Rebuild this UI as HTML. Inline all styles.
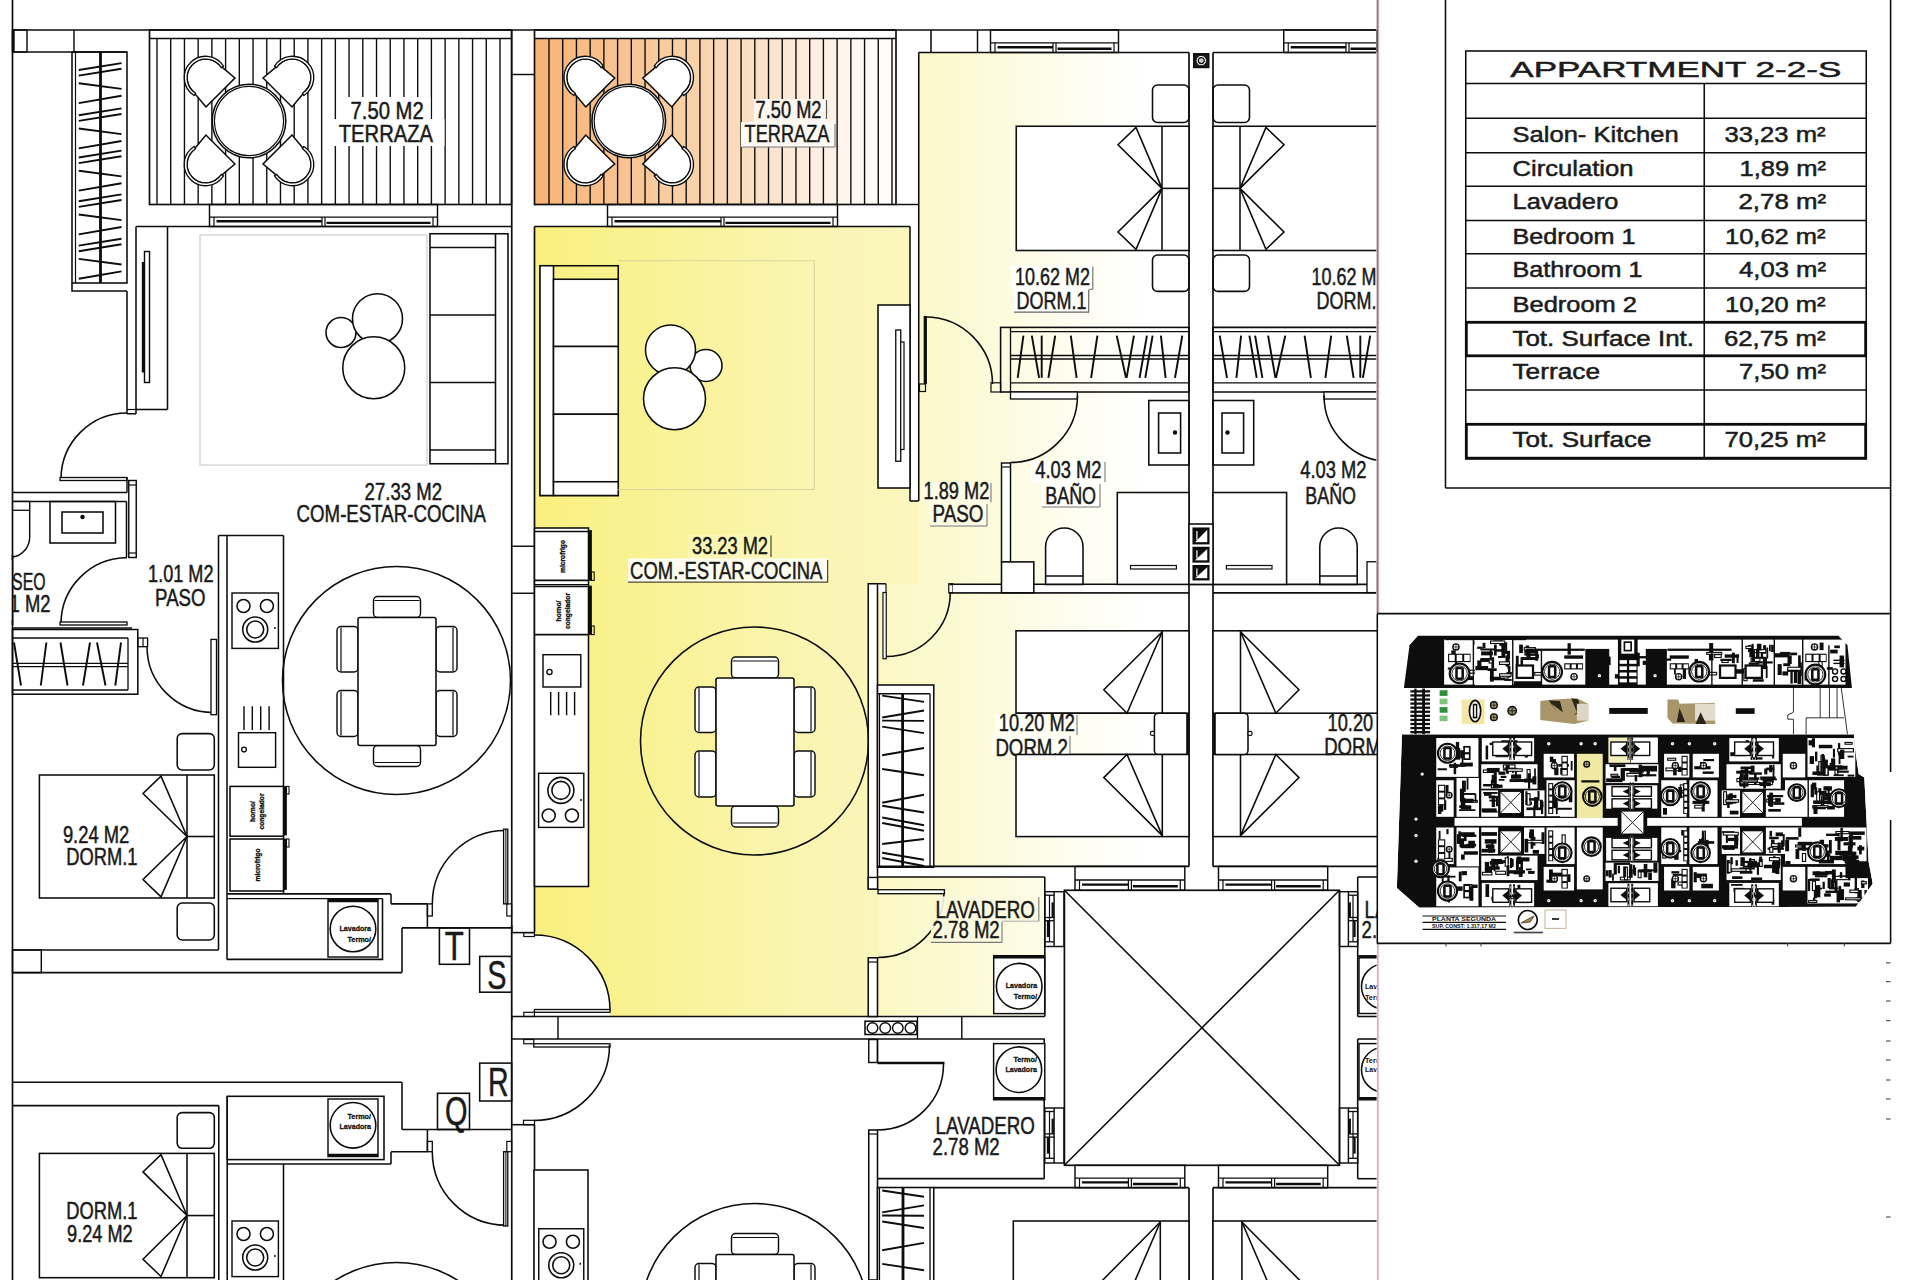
<!DOCTYPE html>
<html lang="es"><head><meta charset="utf-8"><title>Appartment 2-2-S</title>
<style>
html,body{margin:0;padding:0;background:#fff;}
body{width:1920px;height:1280px;overflow:hidden;position:relative;}
svg{display:block;position:absolute;left:0;top:0;}
text{font-family:"Liberation Sans",sans-serif;}
</style></head><body>
<svg width="1920" height="1280" viewBox="0 0 1920 1280">
<defs>
<linearGradient id="gy" gradientUnits="userSpaceOnUse" x1="534" y1="0" x2="912" y2="0">
<stop offset="0" stop-color="#f9f080"/><stop offset="0.3" stop-color="#f9f294"/><stop offset="0.7" stop-color="#faf5b0"/><stop offset="1" stop-color="#faf6be"/>
</linearGradient>
<linearGradient id="gy2" gradientUnits="userSpaceOnUse" x1="877" y1="0" x2="1150" y2="0">
<stop offset="0" stop-color="#fbf8c2"/><stop offset="0.35" stop-color="#fcfad6"/><stop offset="0.7" stop-color="#fefdf0"/><stop offset="1" stop-color="#ffffff"/>
</linearGradient>
<linearGradient id="go" gradientUnits="userSpaceOnUse" x1="534" y1="0" x2="896" y2="0">
<stop offset="0" stop-color="#f8b373"/><stop offset="0.45" stop-color="#f9d2ab"/><stop offset="0.8" stop-color="#fdf0e4"/><stop offset="1" stop-color="#ffffff"/>
</linearGradient>
</defs>
<rect x="0" y="0" width="1920" height="1280" fill="#ffffff"/>
<rect x="534.5" y="38.5" width="361.5" height="166" fill="url(#go)"/>
<rect x="534.5" y="226.5" width="375.5" height="358.5" fill="url(#gy)"/>
<rect x="534.5" y="584.4" width="333.75" height="431.85" fill="url(#gy)"/>
<rect x="909.5" y="501" width="9.5" height="84" fill="url(#gy)"/>
<rect x="918.75" y="501" width="82.75" height="84" fill="url(#gy2)"/>
<rect x="918.75" y="391.5" width="83.25" height="110" fill="url(#gy2)"/>
<rect x="918.75" y="52.5" width="270.25" height="340" fill="url(#gy2)"/>
<rect x="1001.5" y="391.5" width="187.5" height="193.5" fill="url(#gy2)"/>
<rect x="877.5" y="592.8" width="311.5" height="273.6" fill="url(#gy2)"/>
<rect x="886" y="584" width="63.4" height="9.6" fill="url(#gy2)"/>
<rect x="867.5" y="889" width="11.5" height="68.8" fill="url(#gy)"/>
<rect x="878" y="877" width="166.8" height="138.4" fill="url(#gy2)"/>
<line x1="12.5" y1="0" x2="12.5" y2="1280" stroke="#0c0c0c" stroke-width="1.68"/>
<line x1="12.5" y1="30" x2="1377" y2="30" stroke="#0c0c0c" stroke-width="1.68"/>
<rect x="12.5" y="30" width="14.5" height="22" fill="none" stroke="#0c0c0c" stroke-width="1.44"/>
<line x1="13.3" y1="30" x2="13.3" y2="52" stroke="#0c0c0c" stroke-width="2.81"/>
<line x1="12.5" y1="52" x2="127" y2="52" stroke="#0c0c0c" stroke-width="1.56"/>
<line x1="74" y1="30" x2="74" y2="52" stroke="#0c0c0c" stroke-width="1.44"/>
<rect x="72" y="52" width="55" height="231" fill="none" stroke="#0c0c0c" stroke-width="1.56"/>
<line x1="75.5" y1="52" x2="75.5" y2="283" stroke="#0c0c0c" stroke-width="1.2"/>
<line x1="100.5" y1="52" x2="100.5" y2="283" stroke="#0c0c0c" stroke-width="2.81"/>
<line x1="78.75" y1="70" x2="121.5" y2="63.1" stroke="#0c0c0c" stroke-width="1.92"/>
<line x1="78.75" y1="75.6" x2="121.5" y2="68.7" stroke="#0c0c0c" stroke-width="1.92"/>
<line x1="78.75" y1="83.3" x2="121.5" y2="88.9" stroke="#0c0c0c" stroke-width="1.92"/>
<line x1="78.75" y1="103.1" x2="121.5" y2="95.8" stroke="#0c0c0c" stroke-width="1.92"/>
<line x1="78.75" y1="115.25" x2="121.5" y2="108.35" stroke="#0c0c0c" stroke-width="1.92"/>
<line x1="78.75" y1="120.85" x2="121.5" y2="113.95" stroke="#0c0c0c" stroke-width="1.92"/>
<line x1="78.75" y1="128.55" x2="121.5" y2="134.15" stroke="#0c0c0c" stroke-width="1.92"/>
<line x1="78.75" y1="148.35" x2="121.5" y2="141.05" stroke="#0c0c0c" stroke-width="1.92"/>
<line x1="78.75" y1="157.5" x2="121.5" y2="150.6" stroke="#0c0c0c" stroke-width="1.92"/>
<line x1="78.75" y1="163.1" x2="121.5" y2="156.2" stroke="#0c0c0c" stroke-width="1.92"/>
<line x1="78.75" y1="170.8" x2="121.5" y2="176.4" stroke="#0c0c0c" stroke-width="1.92"/>
<line x1="78.75" y1="190.6" x2="121.5" y2="183.3" stroke="#0c0c0c" stroke-width="1.92"/>
<line x1="78.75" y1="201.25" x2="121.5" y2="194.35" stroke="#0c0c0c" stroke-width="1.92"/>
<line x1="78.75" y1="206.85" x2="121.5" y2="199.95" stroke="#0c0c0c" stroke-width="1.92"/>
<line x1="78.75" y1="214.55" x2="121.5" y2="220.15" stroke="#0c0c0c" stroke-width="1.92"/>
<line x1="78.75" y1="234.35" x2="121.5" y2="227.05" stroke="#0c0c0c" stroke-width="1.92"/>
<line x1="78.75" y1="245.6" x2="121.5" y2="238.7" stroke="#0c0c0c" stroke-width="1.92"/>
<line x1="78.75" y1="251.2" x2="121.5" y2="244.3" stroke="#0c0c0c" stroke-width="1.92"/>
<line x1="78.75" y1="258.9" x2="121.5" y2="264.5" stroke="#0c0c0c" stroke-width="1.92"/>
<line x1="78.75" y1="278.7" x2="121.5" y2="271.4" stroke="#0c0c0c" stroke-width="1.92"/>
<path d="M72 283 L72 291 L127 291" fill="none" stroke="#0c0c0c" stroke-width="1.56" stroke-linejoin="miter"/>
<line x1="127" y1="291" x2="127" y2="413.75" stroke="#0c0c0c" stroke-width="1.56"/>
<rect x="149.5" y="30" width="362" height="174.5" fill="none" stroke="#0c0c0c" stroke-width="1.68"/>
<line x1="149.5" y1="38.5" x2="511.5" y2="38.5" stroke="#0c0c0c" stroke-width="1.44"/>
<line x1="157" y1="38.5" x2="157" y2="204.5" stroke="#0c0c0c" stroke-width="1.38"/>
<line x1="170.72" y1="38.5" x2="170.72" y2="204.5" stroke="#0c0c0c" stroke-width="1.38"/>
<line x1="184.44" y1="38.5" x2="184.44" y2="204.5" stroke="#0c0c0c" stroke-width="1.38"/>
<line x1="198.16" y1="38.5" x2="198.16" y2="204.5" stroke="#0c0c0c" stroke-width="1.38"/>
<line x1="211.88" y1="38.5" x2="211.88" y2="204.5" stroke="#0c0c0c" stroke-width="1.38"/>
<line x1="225.6" y1="38.5" x2="225.6" y2="204.5" stroke="#0c0c0c" stroke-width="1.38"/>
<line x1="239.32" y1="38.5" x2="239.32" y2="204.5" stroke="#0c0c0c" stroke-width="1.38"/>
<line x1="253.04" y1="38.5" x2="253.04" y2="204.5" stroke="#0c0c0c" stroke-width="1.38"/>
<line x1="266.76" y1="38.5" x2="266.76" y2="204.5" stroke="#0c0c0c" stroke-width="1.38"/>
<line x1="280.48" y1="38.5" x2="280.48" y2="204.5" stroke="#0c0c0c" stroke-width="1.38"/>
<line x1="294.2" y1="38.5" x2="294.2" y2="204.5" stroke="#0c0c0c" stroke-width="1.38"/>
<line x1="307.92" y1="38.5" x2="307.92" y2="204.5" stroke="#0c0c0c" stroke-width="1.38"/>
<line x1="321.64" y1="38.5" x2="321.64" y2="204.5" stroke="#0c0c0c" stroke-width="1.38"/>
<line x1="335.36" y1="38.5" x2="335.36" y2="204.5" stroke="#0c0c0c" stroke-width="1.38"/>
<line x1="349.08" y1="38.5" x2="349.08" y2="204.5" stroke="#0c0c0c" stroke-width="1.38"/>
<line x1="362.8" y1="38.5" x2="362.8" y2="204.5" stroke="#0c0c0c" stroke-width="1.38"/>
<line x1="376.52" y1="38.5" x2="376.52" y2="204.5" stroke="#0c0c0c" stroke-width="1.38"/>
<line x1="390.24" y1="38.5" x2="390.24" y2="204.5" stroke="#0c0c0c" stroke-width="1.38"/>
<line x1="403.96" y1="38.5" x2="403.96" y2="204.5" stroke="#0c0c0c" stroke-width="1.38"/>
<line x1="417.68" y1="38.5" x2="417.68" y2="204.5" stroke="#0c0c0c" stroke-width="1.38"/>
<line x1="431.4" y1="38.5" x2="431.4" y2="204.5" stroke="#0c0c0c" stroke-width="1.38"/>
<line x1="445.12" y1="38.5" x2="445.12" y2="204.5" stroke="#0c0c0c" stroke-width="1.38"/>
<line x1="458.84" y1="38.5" x2="458.84" y2="204.5" stroke="#0c0c0c" stroke-width="1.38"/>
<line x1="472.56" y1="38.5" x2="472.56" y2="204.5" stroke="#0c0c0c" stroke-width="1.38"/>
<line x1="486.28" y1="38.5" x2="486.28" y2="204.5" stroke="#0c0c0c" stroke-width="1.38"/>
<line x1="500" y1="38.5" x2="500" y2="204.5" stroke="#0c0c0c" stroke-width="1.38"/>
<g transform="translate(205.6 77.6) rotate(-45)">
<path d="M-20.5 21 L20.5 21 L18.6 0 A18.6 18.6 0 0 0 -18.6 0 Z" fill="#fff" stroke="#0c0c0c" stroke-width="1.56"/>
<path d="M-20.8 4.5 A21.3 21.3 0 1 1 20.8 4.5 L18.2 4 A18.6 18.6 0 1 0 -18.2 4 Z" fill="#fff" stroke="#0c0c0c" stroke-width="1.32"/>
</g>
<g transform="translate(292.4 77.6) rotate(45)">
<path d="M-20.5 21 L20.5 21 L18.6 0 A18.6 18.6 0 0 0 -18.6 0 Z" fill="#fff" stroke="#0c0c0c" stroke-width="1.56"/>
<path d="M-20.8 4.5 A21.3 21.3 0 1 1 20.8 4.5 L18.2 4 A18.6 18.6 0 1 0 -18.2 4 Z" fill="#fff" stroke="#0c0c0c" stroke-width="1.32"/>
</g>
<g transform="translate(292.4 164.4) rotate(135)">
<path d="M-20.5 21 L20.5 21 L18.6 0 A18.6 18.6 0 0 0 -18.6 0 Z" fill="#fff" stroke="#0c0c0c" stroke-width="1.56"/>
<path d="M-20.8 4.5 A21.3 21.3 0 1 1 20.8 4.5 L18.2 4 A18.6 18.6 0 1 0 -18.2 4 Z" fill="#fff" stroke="#0c0c0c" stroke-width="1.32"/>
</g>
<g transform="translate(205.6 164.4) rotate(-135)">
<path d="M-20.5 21 L20.5 21 L18.6 0 A18.6 18.6 0 0 0 -18.6 0 Z" fill="#fff" stroke="#0c0c0c" stroke-width="1.56"/>
<path d="M-20.8 4.5 A21.3 21.3 0 1 1 20.8 4.5 L18.2 4 A18.6 18.6 0 1 0 -18.2 4 Z" fill="#fff" stroke="#0c0c0c" stroke-width="1.32"/>
</g>
<circle cx="249" cy="121" r="36.8" fill="#fff" stroke="#0c0c0c" stroke-width="1.56"/>
<circle cx="249" cy="121" r="34.6" fill="none" stroke="#0c0c0c" stroke-width="1.2"/>
<rect x="337" y="97" width="93.5" height="22" fill="#fff"/>
<rect x="333" y="119" width="111.5" height="27" fill="#fff"/>
<text x="350.6" y="118.75" font-size="23.2" textLength="73.15" lengthAdjust="spacingAndGlyphs" fill="#1a1a1a" stroke="#1a1a1a" stroke-width="0.5" font-weight="normal">7.50 M2</text>
<text x="338.75" y="141.6" font-size="23.2" textLength="94.25" lengthAdjust="spacingAndGlyphs" fill="#1a1a1a" stroke="#1a1a1a" stroke-width="0.5" font-weight="normal">TERRAZA</text>
<rect x="209.5" y="204.5" width="228" height="22" fill="none" stroke="#0c0c0c" stroke-width="1.44"/>
<line x1="209.5" y1="217.04" x2="437.5" y2="217.04" stroke="#0c0c0c" stroke-width="1.32"/>
<line x1="214" y1="217.04" x2="214" y2="226.5" stroke="#0c0c0c" stroke-width="1.2"/>
<line x1="433" y1="217.04" x2="433" y2="226.5" stroke="#0c0c0c" stroke-width="1.2"/>
<line x1="322" y1="217.04" x2="322" y2="226.5" stroke="#0c0c0c" stroke-width="1.2"/>
<line x1="325" y1="217.04" x2="325" y2="226.5" stroke="#0c0c0c" stroke-width="1.2"/>
<line x1="216.5" y1="221.3" x2="322" y2="221.3" stroke="#0c0c0c" stroke-width="2.4"/>
<line x1="326.5" y1="222.9" x2="430.5" y2="222.9" stroke="#0c0c0c" stroke-width="2.4"/>
<line x1="511.5" y1="74.5" x2="534.5" y2="74.5" stroke="#0c0c0c" stroke-width="1.44"/>
<line x1="511.75" y1="30" x2="511.75" y2="204.5" stroke="#0c0c0c" stroke-width="1.56"/>
<rect x="534.5" y="30" width="361.5" height="174.5" fill="none" stroke="#0c0c0c" stroke-width="1.68"/>
<line x1="534.5" y1="38.5" x2="896" y2="38.5" stroke="#0c0c0c" stroke-width="1.44"/>
<line x1="549" y1="38.5" x2="549" y2="204.5" stroke="#0c0c0c" stroke-width="1.38"/>
<line x1="562.72" y1="38.5" x2="562.72" y2="204.5" stroke="#0c0c0c" stroke-width="1.38"/>
<line x1="576.44" y1="38.5" x2="576.44" y2="204.5" stroke="#0c0c0c" stroke-width="1.38"/>
<line x1="590.16" y1="38.5" x2="590.16" y2="204.5" stroke="#0c0c0c" stroke-width="1.38"/>
<line x1="603.88" y1="38.5" x2="603.88" y2="204.5" stroke="#0c0c0c" stroke-width="1.38"/>
<line x1="617.6" y1="38.5" x2="617.6" y2="204.5" stroke="#0c0c0c" stroke-width="1.38"/>
<line x1="631.32" y1="38.5" x2="631.32" y2="204.5" stroke="#0c0c0c" stroke-width="1.38"/>
<line x1="645.04" y1="38.5" x2="645.04" y2="204.5" stroke="#0c0c0c" stroke-width="1.38"/>
<line x1="658.76" y1="38.5" x2="658.76" y2="204.5" stroke="#0c0c0c" stroke-width="1.38"/>
<line x1="672.48" y1="38.5" x2="672.48" y2="204.5" stroke="#0c0c0c" stroke-width="1.38"/>
<line x1="686.2" y1="38.5" x2="686.2" y2="204.5" stroke="#0c0c0c" stroke-width="1.38"/>
<line x1="699.92" y1="38.5" x2="699.92" y2="204.5" stroke="#0c0c0c" stroke-width="1.38"/>
<line x1="713.64" y1="38.5" x2="713.64" y2="204.5" stroke="#0c0c0c" stroke-width="1.38"/>
<line x1="727.36" y1="38.5" x2="727.36" y2="204.5" stroke="#0c0c0c" stroke-width="1.38"/>
<line x1="741.08" y1="38.5" x2="741.08" y2="204.5" stroke="#0c0c0c" stroke-width="1.38"/>
<line x1="754.8" y1="38.5" x2="754.8" y2="204.5" stroke="#0c0c0c" stroke-width="1.38"/>
<line x1="768.52" y1="38.5" x2="768.52" y2="204.5" stroke="#0c0c0c" stroke-width="1.38"/>
<line x1="782.24" y1="38.5" x2="782.24" y2="204.5" stroke="#0c0c0c" stroke-width="1.38"/>
<line x1="795.96" y1="38.5" x2="795.96" y2="204.5" stroke="#0c0c0c" stroke-width="1.38"/>
<line x1="809.68" y1="38.5" x2="809.68" y2="204.5" stroke="#0c0c0c" stroke-width="1.38"/>
<line x1="823.4" y1="38.5" x2="823.4" y2="204.5" stroke="#0c0c0c" stroke-width="1.38"/>
<line x1="837.12" y1="38.5" x2="837.12" y2="204.5" stroke="#0c0c0c" stroke-width="1.38"/>
<line x1="850.84" y1="38.5" x2="850.84" y2="204.5" stroke="#0c0c0c" stroke-width="1.38"/>
<line x1="864.56" y1="38.5" x2="864.56" y2="204.5" stroke="#0c0c0c" stroke-width="1.38"/>
<line x1="878.28" y1="38.5" x2="878.28" y2="204.5" stroke="#0c0c0c" stroke-width="1.38"/>
<line x1="892" y1="38.5" x2="892" y2="204.5" stroke="#0c0c0c" stroke-width="1.38"/>
<g transform="translate(585.35 77.6) rotate(-45)">
<path d="M-20.5 21 L20.5 21 L18.6 0 A18.6 18.6 0 0 0 -18.6 0 Z" fill="#fff" stroke="#0c0c0c" stroke-width="1.56"/>
<path d="M-20.8 4.5 A21.3 21.3 0 1 1 20.8 4.5 L18.2 4 A18.6 18.6 0 1 0 -18.2 4 Z" fill="#fff" stroke="#0c0c0c" stroke-width="1.32"/>
</g>
<g transform="translate(672.15 77.6) rotate(45)">
<path d="M-20.5 21 L20.5 21 L18.6 0 A18.6 18.6 0 0 0 -18.6 0 Z" fill="#fff" stroke="#0c0c0c" stroke-width="1.56"/>
<path d="M-20.8 4.5 A21.3 21.3 0 1 1 20.8 4.5 L18.2 4 A18.6 18.6 0 1 0 -18.2 4 Z" fill="#fff" stroke="#0c0c0c" stroke-width="1.32"/>
</g>
<g transform="translate(672.15 164.4) rotate(135)">
<path d="M-20.5 21 L20.5 21 L18.6 0 A18.6 18.6 0 0 0 -18.6 0 Z" fill="#fff" stroke="#0c0c0c" stroke-width="1.56"/>
<path d="M-20.8 4.5 A21.3 21.3 0 1 1 20.8 4.5 L18.2 4 A18.6 18.6 0 1 0 -18.2 4 Z" fill="#fff" stroke="#0c0c0c" stroke-width="1.32"/>
</g>
<g transform="translate(585.35 164.4) rotate(-135)">
<path d="M-20.5 21 L20.5 21 L18.6 0 A18.6 18.6 0 0 0 -18.6 0 Z" fill="#fff" stroke="#0c0c0c" stroke-width="1.56"/>
<path d="M-20.8 4.5 A21.3 21.3 0 1 1 20.8 4.5 L18.2 4 A18.6 18.6 0 1 0 -18.2 4 Z" fill="#fff" stroke="#0c0c0c" stroke-width="1.32"/>
</g>
<circle cx="628.75" cy="121" r="36.8" fill="#fff" stroke="#0c0c0c" stroke-width="1.56"/>
<circle cx="628.75" cy="121" r="34.6" fill="none" stroke="#0c0c0c" stroke-width="1.2"/>
<rect x="754" y="99" width="74" height="23" fill="#fdf6ee"/>
<rect x="741" y="122" width="94" height="25" fill="#fdfaf6"/>
<line x1="742" y1="147" x2="835" y2="147" stroke="#777" stroke-width="1.08"/>
<line x1="835" y1="124" x2="835" y2="147" stroke="#777" stroke-width="1.08"/>
<text x="755.6" y="118" font-size="23.2" textLength="65.9" lengthAdjust="spacingAndGlyphs" fill="#1a1a1a" stroke="#1a1a1a" stroke-width="0.5" font-weight="normal">7.50 M2</text>
<line x1="826.5" y1="100" x2="826.5" y2="119" stroke="#555" stroke-width="1.2"/>
<text x="744.6" y="142" font-size="23.2" textLength="84.9" lengthAdjust="spacingAndGlyphs" fill="#1a1a1a" stroke="#1a1a1a" stroke-width="0.5" font-weight="normal">TERRAZA</text>
<rect x="607.5" y="204.5" width="230" height="22" fill="none" stroke="#0c0c0c" stroke-width="1.44"/>
<line x1="607.5" y1="217.04" x2="837.5" y2="217.04" stroke="#0c0c0c" stroke-width="1.32"/>
<line x1="612" y1="217.04" x2="612" y2="226.5" stroke="#0c0c0c" stroke-width="1.2"/>
<line x1="833" y1="217.04" x2="833" y2="226.5" stroke="#0c0c0c" stroke-width="1.2"/>
<line x1="721" y1="217.04" x2="721" y2="226.5" stroke="#0c0c0c" stroke-width="1.2"/>
<line x1="724" y1="217.04" x2="724" y2="226.5" stroke="#0c0c0c" stroke-width="1.2"/>
<line x1="614.5" y1="221.3" x2="721" y2="221.3" stroke="#0c0c0c" stroke-width="2.4"/>
<line x1="725.5" y1="222.9" x2="830.5" y2="222.9" stroke="#0c0c0c" stroke-width="2.4"/>
<line x1="931" y1="30" x2="931" y2="52.5" stroke="#0c0c0c" stroke-width="1.56"/>
<line x1="977.5" y1="30" x2="977.5" y2="52.5" stroke="#0c0c0c" stroke-width="1.44"/>
<rect x="990.5" y="30" width="128" height="22.5" fill="none" stroke="#0c0c0c" stroke-width="1.44"/>
<line x1="990.5" y1="42.83" x2="1118.5" y2="42.83" stroke="#0c0c0c" stroke-width="1.32"/>
<line x1="995" y1="42.83" x2="995" y2="52.5" stroke="#0c0c0c" stroke-width="1.2"/>
<line x1="1114" y1="42.83" x2="1114" y2="52.5" stroke="#0c0c0c" stroke-width="1.2"/>
<line x1="1053" y1="42.83" x2="1053" y2="52.5" stroke="#0c0c0c" stroke-width="1.2"/>
<line x1="1056" y1="42.83" x2="1056" y2="52.5" stroke="#0c0c0c" stroke-width="1.2"/>
<line x1="997.5" y1="47.18" x2="1053" y2="47.18" stroke="#0c0c0c" stroke-width="2.4"/>
<line x1="1057.5" y1="48.78" x2="1111.5" y2="48.78" stroke="#0c0c0c" stroke-width="2.4"/>
<rect x="1283.75" y="30" width="127.5" height="22.5" fill="none" stroke="#0c0c0c" stroke-width="1.44"/>
<line x1="1283.75" y1="42.83" x2="1411.25" y2="42.83" stroke="#0c0c0c" stroke-width="1.32"/>
<line x1="1288.25" y1="42.83" x2="1288.25" y2="52.5" stroke="#0c0c0c" stroke-width="1.2"/>
<line x1="1406.75" y1="42.83" x2="1406.75" y2="52.5" stroke="#0c0c0c" stroke-width="1.2"/>
<line x1="1346" y1="42.83" x2="1346" y2="52.5" stroke="#0c0c0c" stroke-width="1.2"/>
<line x1="1349" y1="42.83" x2="1349" y2="52.5" stroke="#0c0c0c" stroke-width="1.2"/>
<line x1="1290.75" y1="47.18" x2="1346" y2="47.18" stroke="#0c0c0c" stroke-width="2.4"/>
<line x1="1350.5" y1="48.78" x2="1404.25" y2="48.78" stroke="#0c0c0c" stroke-width="2.4"/>
<line x1="136" y1="226.5" x2="511.75" y2="226.5" stroke="#0c0c0c" stroke-width="1.68"/>
<line x1="136" y1="226.5" x2="136" y2="413.75" stroke="#0c0c0c" stroke-width="1.56"/>
<line x1="167.5" y1="226.5" x2="167.5" y2="409.5" stroke="#0c0c0c" stroke-width="1.56"/>
<line x1="136" y1="409.5" x2="167.5" y2="409.5" stroke="#0c0c0c" stroke-width="1.56"/>
<line x1="127" y1="413.75" x2="136" y2="413.75" stroke="#0c0c0c" stroke-width="1.56"/>
<line x1="127" y1="409.5" x2="136" y2="409.5" stroke="#0c0c0c" stroke-width="1.2"/>
<rect x="144.5" y="251.5" width="5" height="131" fill="#fff" stroke="#0c0c0c" stroke-width="1.44"/>
<line x1="143" y1="262" x2="143" y2="372.5" stroke="#0c0c0c" stroke-width="2.38"/>
<rect x="200" y="235" width="227" height="230" fill="none" stroke="#c9c9c9" stroke-width="1.08"/>
<line x1="475" y1="235" x2="475" y2="465" stroke="#d5d5d5" stroke-width="0.96"/>
<circle cx="341" cy="332.5" r="15" fill="#fff" stroke="#0c0c0c" stroke-width="1.56"/>
<circle cx="377.5" cy="318.7" r="25" fill="#fff" stroke="#0c0c0c" stroke-width="1.56"/>
<circle cx="373.75" cy="367.75" r="31" fill="#fff" stroke="#0c0c0c" stroke-width="1.56"/>
<rect x="430" y="233.75" width="78" height="230" fill="#fff" stroke="#0c0c0c" stroke-width="1.56"/>
<line x1="495.5" y1="233.75" x2="495.5" y2="463.75" stroke="#0c0c0c" stroke-width="1.56"/>
<line x1="430" y1="247.5" x2="495.5" y2="247.5" stroke="#0c0c0c" stroke-width="1.56"/>
<line x1="430" y1="315" x2="495.5" y2="315" stroke="#0c0c0c" stroke-width="1.56"/>
<line x1="430" y1="382.5" x2="495.5" y2="382.5" stroke="#0c0c0c" stroke-width="1.56"/>
<line x1="430" y1="450" x2="495.5" y2="450" stroke="#0c0c0c" stroke-width="1.56"/>
<line x1="511.75" y1="204.5" x2="511.75" y2="1280" stroke="#0c0c0c" stroke-width="1.68"/>
<path d="M127 413 A66 66 0 0 0 61 479" fill="none" stroke="#0c0c0c" stroke-width="1.56"/>
<rect x="60" y="477.5" width="67" height="3" fill="#fff" stroke="#0c0c0c" stroke-width="1.32"/>
<line x1="12.5" y1="492.5" x2="127" y2="492.5" stroke="#0c0c0c" stroke-width="1.56"/>
<line x1="127" y1="477.5" x2="127" y2="492.5" stroke="#0c0c0c" stroke-width="1.44"/>
<rect x="128.75" y="480.5" width="7.5" height="77" fill="none" stroke="#0c0c0c" stroke-width="1.44"/>
<line x1="128.75" y1="485" x2="136.25" y2="485" stroke="#0c0c0c" stroke-width="1.2"/>
<line x1="128.75" y1="553" x2="136.25" y2="553" stroke="#0c0c0c" stroke-width="1.2"/>
<line x1="12.5" y1="501.5" x2="126.5" y2="501.5" stroke="#0c0c0c" stroke-width="1.56"/>
<line x1="126.5" y1="501.5" x2="126.5" y2="557.5" stroke="#0c0c0c" stroke-width="1.56"/>
<rect x="50" y="501.5" width="65.5" height="41.5" fill="none" stroke="#0c0c0c" stroke-width="1.56"/>
<rect x="62" y="512" width="41" height="21" fill="none" stroke="#0c0c0c" stroke-width="1.56"/>
<circle cx="82.5" cy="517" r="1.5" fill="#0c0c0c" stroke="#0c0c0c" stroke-width="1.44"/>
<path d="M12.5 501.4 L29.7 501.4 L29.7 536.5 A19.5 20.5 0 0 1 12.5 557" fill="none" stroke="#0c0c0c" stroke-width="1.44"/>
<line x1="12.5" y1="510.3" x2="29.7" y2="510.3" stroke="#0c0c0c" stroke-width="1.32"/>
<text x="12.1" y="589.5" font-size="23.2" textLength="33.4" lengthAdjust="spacingAndGlyphs" fill="#1a1a1a" stroke="#1a1a1a" stroke-width="0.5" font-weight="normal">SEO</text>
<text x="9.6" y="611.5" font-size="23.2" textLength="40.9" lengthAdjust="spacingAndGlyphs" fill="#1a1a1a" stroke="#1a1a1a" stroke-width="0.5" font-weight="normal">1 M2</text>
<rect x="0" y="560" width="12" height="60" fill="#fff"/>
<line x1="12.5" y1="555" x2="12.5" y2="625" stroke="#0c0c0c" stroke-width="1.68"/>
<path d="M127 557.75 A66 66 0 0 0 61 623.75" fill="none" stroke="#0c0c0c" stroke-width="1.56"/>
<rect x="60" y="622" width="67" height="3" fill="#fff" stroke="#0c0c0c" stroke-width="1.32"/>
<text x="148.1" y="582" font-size="23.2" textLength="65.4" lengthAdjust="spacingAndGlyphs" fill="#1a1a1a" stroke="#1a1a1a" stroke-width="0.5" font-weight="normal">1.01 M2</text>
<text x="155.1" y="606" font-size="23.2" textLength="50.4" lengthAdjust="spacingAndGlyphs" fill="#1a1a1a" stroke="#1a1a1a" stroke-width="0.5" font-weight="normal">PASO</text>
<text x="364.6" y="499.5" font-size="23.2" textLength="77.4" lengthAdjust="spacingAndGlyphs" fill="#1a1a1a" stroke="#1a1a1a" stroke-width="0.5" font-weight="normal">27.33 M2</text>
<text x="296.6" y="521.5" font-size="23.2" textLength="189.4" lengthAdjust="spacingAndGlyphs" fill="#1a1a1a" stroke="#1a1a1a" stroke-width="0.5" font-weight="normal">COM-ESTAR-COCINA</text>
<line x1="12.5" y1="628" x2="132" y2="628" stroke="#0c0c0c" stroke-width="1.44"/>
<rect x="12.5" y="629.5" width="125.3" height="64.7" fill="none" stroke="#0c0c0c" stroke-width="1.56"/>
<line x1="12.5" y1="638" x2="128" y2="638" stroke="#0c0c0c" stroke-width="1.32"/>
<line x1="128" y1="638" x2="128" y2="690" stroke="#0c0c0c" stroke-width="1.32"/>
<line x1="12.5" y1="690" x2="128" y2="690" stroke="#0c0c0c" stroke-width="1.32"/>
<line x1="12.5" y1="663.3" x2="128" y2="663.3" stroke="#0c0c0c" stroke-width="1.32"/>
<line x1="12.5" y1="666.6" x2="128" y2="666.6" stroke="#0c0c0c" stroke-width="1.32"/>
<line x1="14" y1="642.5" x2="21" y2="685.5" stroke="#0c0c0c" stroke-width="1.92"/>
<line x1="46.4" y1="642.5" x2="40.8" y2="685.5" stroke="#0c0c0c" stroke-width="1.92"/>
<line x1="60.5" y1="642.5" x2="67.5" y2="685.5" stroke="#0c0c0c" stroke-width="1.92"/>
<line x1="90" y1="642.5" x2="83" y2="685.5" stroke="#0c0c0c" stroke-width="1.92"/>
<line x1="97" y1="642.5" x2="105.5" y2="685.5" stroke="#0c0c0c" stroke-width="1.92"/>
<line x1="121" y1="642.5" x2="115.3" y2="685.5" stroke="#0c0c0c" stroke-width="1.92"/>
<rect x="137.8" y="638" width="9.8" height="8.7" fill="none" stroke="#0c0c0c" stroke-width="1.32"/>
<line x1="143" y1="638" x2="143" y2="646.7" stroke="#0c0c0c" stroke-width="1.2"/>
<path d="M147 646.5 A66 66 0 0 0 213 712.5" fill="none" stroke="#0c0c0c" stroke-width="1.56"/>
<rect x="211" y="639.4" width="5.5" height="75.3" fill="#fff" stroke="#0c0c0c" stroke-width="1.32"/>
<line x1="218.5" y1="535.5" x2="283.5" y2="535.5" stroke="#0c0c0c" stroke-width="1.56"/>
<line x1="218.5" y1="535.5" x2="218.5" y2="950" stroke="#0c0c0c" stroke-width="1.56"/>
<line x1="227" y1="535.5" x2="227" y2="959.4" stroke="#0c0c0c" stroke-width="1.56"/>
<line x1="227.2" y1="1096.3" x2="227.2" y2="1280" stroke="#0c0c0c" stroke-width="1.56"/>
<line x1="283.5" y1="535.5" x2="283.5" y2="893.9" stroke="#0c0c0c" stroke-width="1.56"/>
<rect x="232" y="593" width="46.4" height="55.4" fill="#fff" stroke="#0c0c0c" stroke-width="1.44"/>
<circle cx="243.5" cy="606" r="6.5" fill="none" stroke="#0c0c0c" stroke-width="1.56"/>
<circle cx="266.9" cy="606" r="6.5" fill="none" stroke="#0c0c0c" stroke-width="1.56"/>
<circle cx="255.2" cy="629.5" r="12.5" fill="none" stroke="#0c0c0c" stroke-width="1.56"/>
<circle cx="255.2" cy="629.5" r="8.5" fill="none" stroke="#0c0c0c" stroke-width="1.56"/>
<line x1="274.9" y1="627" x2="274.9" y2="629" stroke="#0c0c0c" stroke-width="1.44"/>
<line x1="244" y1="706.3" x2="244" y2="730" stroke="#0c0c0c" stroke-width="1.44"/>
<line x1="252.3" y1="706.3" x2="252.3" y2="730" stroke="#0c0c0c" stroke-width="1.44"/>
<line x1="260.7" y1="706.3" x2="260.7" y2="730" stroke="#0c0c0c" stroke-width="1.44"/>
<line x1="269.1" y1="706.3" x2="269.1" y2="730" stroke="#0c0c0c" stroke-width="1.44"/>
<rect x="238.5" y="732.7" width="37.1" height="34.6" fill="none" stroke="#0c0c0c" stroke-width="1.44"/>
<circle cx="244" cy="749.6" r="2.4" fill="none" stroke="#0c0c0c" stroke-width="1.32"/>
<rect x="230" y="786.4" width="53.5" height="49.8" fill="#fff" stroke="#0c0c0c" stroke-width="1.56"/>
<rect x="230" y="839" width="53.5" height="52" fill="#fff" stroke="#0c0c0c" stroke-width="1.56"/>
<rect x="283.5" y="786.4" width="3" height="48.6" fill="#0c0c0c" stroke="#0c0c0c" stroke-width="0.72"/>
<rect x="283.5" y="839" width="3" height="50.5" fill="#0c0c0c" stroke="#0c0c0c" stroke-width="0.72"/>
<rect x="286.5" y="786.4" width="2.5" height="7.6" fill="none" stroke="#0c0c0c" stroke-width="1.08"/>
<rect x="286.5" y="839" width="2.5" height="8" fill="none" stroke="#0c0c0c" stroke-width="1.08"/>
<text transform="translate(254.5 811.5) rotate(-90)" font-size="6.7" font-weight="bold" text-anchor="middle" fill="#111" stroke="#111" stroke-width="0.3">horno/</text>
<text transform="translate(263.5 811.5) rotate(-90)" font-size="6.7" font-weight="bold" text-anchor="middle" fill="#111" stroke="#111" stroke-width="0.3">congelador</text>
<text transform="translate(260 865) rotate(-90)" font-size="6.7" font-weight="bold" text-anchor="middle" fill="#111" stroke="#111" stroke-width="0.3">microfrigo</text>
<circle cx="396.5" cy="680.5" r="114" fill="none" stroke="#0c0c0c" stroke-width="1.56"/>
<rect x="337" y="626.5" width="21" height="45.5" fill="#fff" stroke="#0c0c0c" stroke-width="1.44" rx="4"/>
<line x1="341" y1="627.5" x2="341" y2="671" stroke="#0c0c0c" stroke-width="1.2"/>
<rect x="436" y="626.5" width="21" height="45.5" fill="#fff" stroke="#0c0c0c" stroke-width="1.44" rx="4"/>
<line x1="453" y1="627.5" x2="453" y2="671" stroke="#0c0c0c" stroke-width="1.2"/>
<rect x="337" y="690.5" width="21" height="46" fill="#fff" stroke="#0c0c0c" stroke-width="1.44" rx="4"/>
<line x1="341" y1="691.5" x2="341" y2="735.5" stroke="#0c0c0c" stroke-width="1.2"/>
<rect x="436" y="690.5" width="21" height="46" fill="#fff" stroke="#0c0c0c" stroke-width="1.44" rx="4"/>
<line x1="453" y1="691.5" x2="453" y2="735.5" stroke="#0c0c0c" stroke-width="1.2"/>
<rect x="373.5" y="596.5" width="47" height="21" fill="#fff" stroke="#0c0c0c" stroke-width="1.44" rx="4"/>
<line x1="374.5" y1="600.5" x2="419.5" y2="600.5" stroke="#0c0c0c" stroke-width="1.2"/>
<rect x="373.5" y="745.5" width="47" height="21" fill="#fff" stroke="#0c0c0c" stroke-width="1.44" rx="4"/>
<line x1="374.5" y1="762.5" x2="419.5" y2="762.5" stroke="#0c0c0c" stroke-width="1.2"/>
<rect x="358" y="617.5" width="78" height="128" fill="#fff" stroke="#0c0c0c" stroke-width="1.56" rx="2"/>
<rect x="177.2" y="733.6" width="37.1" height="36.4" fill="none" stroke="#0c0c0c" stroke-width="1.56" rx="5"/>
<rect x="39.4" y="775" width="174.9" height="123" fill="#fff" stroke="#0c0c0c" stroke-width="1.56"/>
<line x1="187" y1="775" x2="187" y2="898" stroke="#0c0c0c" stroke-width="1.56"/>
<line x1="187" y1="836.5" x2="214.3" y2="836.5" stroke="#0c0c0c" stroke-width="1.56"/>
<path d="M187 836.5 L161 776.2 L143 793.5 Z" fill="none" stroke="#0c0c0c" stroke-width="1.56" stroke-linejoin="miter"/>
<path d="M187 836.5 L161 896.8 L143 879.5 Z" fill="none" stroke="#0c0c0c" stroke-width="1.56" stroke-linejoin="miter"/>
<rect x="177.2" y="903" width="37.1" height="37" fill="none" stroke="#0c0c0c" stroke-width="1.56" rx="5"/>
<text x="62.9" y="842.5" font-size="23.2" textLength="66.4" lengthAdjust="spacingAndGlyphs" fill="#1a1a1a" stroke="#1a1a1a" stroke-width="0.5" font-weight="normal">9.24 M2</text>
<text x="66.2" y="865" font-size="23.2" textLength="71.3" lengthAdjust="spacingAndGlyphs" fill="#1a1a1a" stroke="#1a1a1a" stroke-width="0.5" font-weight="normal">DORM.1</text>
<line x1="12.5" y1="950" x2="218.5" y2="950" stroke="#0c0c0c" stroke-width="1.56"/>
<rect x="12.5" y="950" width="28.8" height="22.6" fill="none" stroke="#0c0c0c" stroke-width="1.44"/>
<line x1="227" y1="893.9" x2="391" y2="893.9" stroke="#0c0c0c" stroke-width="1.56"/>
<line x1="227" y1="898.6" x2="382.5" y2="898.6" stroke="#0c0c0c" stroke-width="1.44"/>
<path d="M382.5 898.6 L382.5 959.4 L227 959.4" fill="none" stroke="#0c0c0c" stroke-width="1.56" stroke-linejoin="miter"/>
<line x1="391" y1="893.9" x2="391" y2="903.7" stroke="#0c0c0c" stroke-width="1.56"/>
<line x1="391" y1="903.9" x2="427.4" y2="903.9" stroke="#0c0c0c" stroke-width="1.56"/>
<rect x="328" y="899.5" width="50" height="57.5" fill="#fff" stroke="#0c0c0c" stroke-width="1.44"/>
<line x1="328" y1="901" x2="378" y2="901" stroke="#0c0c0c" stroke-width="2.59"/>
<circle cx="353" cy="929" r="22.8" fill="#fff" stroke="#0c0c0c" stroke-width="1.56"/>
<text x="371" y="931.2" font-size="8" font-weight="bold" text-anchor="end" textLength="31.5" lengthAdjust="spacingAndGlyphs" fill="#111" stroke="#111" stroke-width="0.3">Lavadora</text>
<text x="371" y="942" font-size="8" font-weight="bold" text-anchor="end" textLength="23.5" lengthAdjust="spacingAndGlyphs" fill="#111" stroke="#111" stroke-width="0.3">Termo/</text>
<path d="M505.7 830.5 A73.4 73.4 0 0 0 432.3 903.9" fill="none" stroke="#0c0c0c" stroke-width="1.56"/>
<rect x="503.6" y="829.2" width="4.2" height="74.7" fill="#fff" stroke="#0c0c0c" stroke-width="1.32"/>
<line x1="505.9" y1="829.2" x2="505.9" y2="903.9" stroke="#0c0c0c" stroke-width="1.08"/>
<line x1="427.4" y1="903.9" x2="427.4" y2="927.9" stroke="#0c0c0c" stroke-width="1.56"/>
<rect x="427.4" y="903.9" width="4.9" height="12.1" fill="none" stroke="#0c0c0c" stroke-width="1.32"/>
<rect x="506.8" y="903.9" width="4.8" height="12.1" fill="none" stroke="#0c0c0c" stroke-width="1.2"/>
<line x1="12.5" y1="972.6" x2="402" y2="972.6" stroke="#0c0c0c" stroke-width="1.56"/>
<line x1="402" y1="927.9" x2="402" y2="972.6" stroke="#0c0c0c" stroke-width="1.56"/>
<line x1="402" y1="927.9" x2="511.6" y2="927.9" stroke="#0c0c0c" stroke-width="1.56"/>
<rect x="439.4" y="927.9" width="30.1" height="36.4" fill="none" stroke="#0c0c0c" stroke-width="1.56"/>
<text x="444.8" y="960" font-size="40.5" textLength="19.1" lengthAdjust="spacingAndGlyphs" fill="#1a1a1a" stroke="#1a1a1a" stroke-width="0.5" font-weight="normal">T</text>
<rect x="479.7" y="956.4" width="31.9" height="35.8" fill="none" stroke="#0c0c0c" stroke-width="1.56"/>
<text x="487.2" y="989" font-size="40.5" textLength="19.2" lengthAdjust="spacingAndGlyphs" fill="#1a1a1a" stroke="#1a1a1a" stroke-width="0.5" font-weight="normal">S</text>
<rect x="479.7" y="1063.1" width="31.9" height="37.9" fill="none" stroke="#0c0c0c" stroke-width="1.56"/>
<text x="488.1" y="1096.4" font-size="40" textLength="20.6" lengthAdjust="spacingAndGlyphs" fill="#1a1a1a" stroke="#1a1a1a" stroke-width="0.5" font-weight="normal">R</text>
<rect x="437.5" y="1093.3" width="32" height="36.2" fill="none" stroke="#0c0c0c" stroke-width="1.56"/>
<text x="445" y="1124.8" font-size="40" textLength="22.5" lengthAdjust="spacingAndGlyphs" fill="#1a1a1a" stroke="#1a1a1a" stroke-width="0.5" font-weight="normal">Q</text>
<line x1="12.5" y1="1082.3" x2="402" y2="1082.3" stroke="#0c0c0c" stroke-width="1.56"/>
<line x1="402" y1="1082.3" x2="402" y2="1129.5" stroke="#0c0c0c" stroke-width="1.56"/>
<line x1="402" y1="1129.5" x2="511.6" y2="1129.5" stroke="#0c0c0c" stroke-width="1.56"/>
<line x1="12.5" y1="1105.6" x2="218.8" y2="1105.6" stroke="#0c0c0c" stroke-width="1.56"/>
<line x1="218.8" y1="1105.6" x2="218.8" y2="1280" stroke="#0c0c0c" stroke-width="1.56"/>
<rect x="177.2" y="1112.6" width="37.1" height="35.7" fill="none" stroke="#0c0c0c" stroke-width="1.56" rx="5"/>
<rect x="39.4" y="1153.4" width="174.9" height="124.3" fill="#fff" stroke="#0c0c0c" stroke-width="1.56"/>
<line x1="187" y1="1153.4" x2="187" y2="1277.7" stroke="#0c0c0c" stroke-width="1.56"/>
<line x1="187" y1="1215.55" x2="214.3" y2="1215.55" stroke="#0c0c0c" stroke-width="1.56"/>
<path d="M187 1215.55 L161 1154.6 L143 1171.9 Z" fill="none" stroke="#0c0c0c" stroke-width="1.56" stroke-linejoin="miter"/>
<path d="M187 1215.55 L161 1276.5 L143 1259.2 Z" fill="none" stroke="#0c0c0c" stroke-width="1.56" stroke-linejoin="miter"/>
<text x="66.2" y="1219.3" font-size="23.2" textLength="71.3" lengthAdjust="spacingAndGlyphs" fill="#1a1a1a" stroke="#1a1a1a" stroke-width="0.5" font-weight="normal">DORM.1</text>
<text x="67.1" y="1242" font-size="23.2" textLength="65.6" lengthAdjust="spacingAndGlyphs" fill="#1a1a1a" stroke="#1a1a1a" stroke-width="0.5" font-weight="normal">9.24 M2</text>
<rect x="227.2" y="1096.3" width="156.8" height="63.3" fill="none" stroke="#0c0c0c" stroke-width="1.56"/>
<rect x="328" y="1099" width="50" height="57.5" fill="#fff" stroke="#0c0c0c" stroke-width="1.44"/>
<line x1="328" y1="1155" x2="378" y2="1155" stroke="#0c0c0c" stroke-width="2.59"/>
<circle cx="353" cy="1125.3" r="22.8" fill="#fff" stroke="#0c0c0c" stroke-width="1.56"/>
<text x="371" y="1118.8" font-size="8" font-weight="bold" text-anchor="end" textLength="23.5" lengthAdjust="spacingAndGlyphs" fill="#111" stroke="#111" stroke-width="0.3">Termo/</text>
<text x="371" y="1128.5" font-size="8" font-weight="bold" text-anchor="end" textLength="31.5" lengthAdjust="spacingAndGlyphs" fill="#111" stroke="#111" stroke-width="0.3">Lavadora</text>
<line x1="227.2" y1="1164" x2="391" y2="1164" stroke="#0c0c0c" stroke-width="1.56"/>
<line x1="391" y1="1152" x2="391" y2="1164" stroke="#0c0c0c" stroke-width="1.56"/>
<line x1="391" y1="1151.7" x2="427.4" y2="1151.7" stroke="#0c0c0c" stroke-width="1.56"/>
<line x1="427.4" y1="1129.5" x2="427.4" y2="1151.7" stroke="#0c0c0c" stroke-width="1.56"/>
<rect x="427.4" y="1141.4" width="4.9" height="10.3" fill="none" stroke="#0c0c0c" stroke-width="1.32"/>
<line x1="283.5" y1="1164" x2="283.5" y2="1280" stroke="#0c0c0c" stroke-width="1.56"/>
<rect x="232" y="1221" width="46.4" height="55.6" fill="#fff" stroke="#0c0c0c" stroke-width="1.44"/>
<circle cx="243.5" cy="1234" r="6.5" fill="none" stroke="#0c0c0c" stroke-width="1.56"/>
<circle cx="266.9" cy="1234" r="6.5" fill="none" stroke="#0c0c0c" stroke-width="1.56"/>
<circle cx="255.2" cy="1257.5" r="12.5" fill="none" stroke="#0c0c0c" stroke-width="1.56"/>
<circle cx="255.2" cy="1257.5" r="8.5" fill="none" stroke="#0c0c0c" stroke-width="1.56"/>
<line x1="274.9" y1="1255" x2="274.9" y2="1257" stroke="#0c0c0c" stroke-width="1.44"/>
<path d="M432.3 1151.7 A73.4 73.4 0 0 0 505.7 1225.1" fill="none" stroke="#0c0c0c" stroke-width="1.56"/>
<rect x="503.6" y="1151.7" width="4.2" height="74.3" fill="#fff" stroke="#0c0c0c" stroke-width="1.32"/>
<line x1="505.9" y1="1151.7" x2="505.9" y2="1226" stroke="#0c0c0c" stroke-width="1.08"/>
<rect x="506.8" y="1141.4" width="4.8" height="10.3" fill="none" stroke="#0c0c0c" stroke-width="1.2"/>
<circle cx="396.5" cy="1376.5" r="114" fill="none" stroke="#0c0c0c" stroke-width="1.56"/>
<line x1="534.5" y1="226.5" x2="910" y2="226.5" stroke="#0c0c0c" stroke-width="1.68"/>
<line x1="534.5" y1="226.5" x2="534.5" y2="932.6" stroke="#0c0c0c" stroke-width="1.68"/>
<line x1="910" y1="226.5" x2="910" y2="501" stroke="#0c0c0c" stroke-width="1.56"/>
<line x1="918.75" y1="52.5" x2="918.75" y2="501" stroke="#0c0c0c" stroke-width="1.56"/>
<line x1="910" y1="501" x2="918.75" y2="501" stroke="#0c0c0c" stroke-width="1.56"/>
<line x1="918.75" y1="52.5" x2="1189" y2="52.5" stroke="#0c0c0c" stroke-width="1.68"/>
<line x1="896" y1="204.5" x2="918.75" y2="204.5" stroke="#0c0c0c" stroke-width="1.44"/>
<line x1="511.75" y1="546.25" x2="534.5" y2="546.25" stroke="#0c0c0c" stroke-width="1.44"/>
<line x1="511.75" y1="593.25" x2="534.5" y2="593.25" stroke="#0c0c0c" stroke-width="1.44"/>
<rect x="540" y="265.75" width="78.25" height="229.75" fill="none" stroke="#0c0c0c" stroke-width="1.56"/>
<rect x="540" y="265.75" width="13.5" height="229.75" fill="#fff" stroke="#0c0c0c" stroke-width="1.56"/>
<rect x="553.5" y="279.25" width="64.75" height="67.25" fill="#fff" stroke="#0c0c0c" stroke-width="1.56"/>
<rect x="553.5" y="346.5" width="64.75" height="67.75" fill="#fff" stroke="#0c0c0c" stroke-width="1.56"/>
<rect x="553.5" y="414.25" width="64.75" height="67.5" fill="#fff" stroke="#0c0c0c" stroke-width="1.56"/>
<rect x="553.5" y="481.75" width="64.75" height="13.75" fill="#fff" stroke="#0c0c0c" stroke-width="1.56"/>
<path d="M618.25 260.75 L814.25 260.75 L814.25 489.5 L618.25 489.5" fill="none" stroke="#d9d49c" stroke-width="1.08" stroke-linejoin="miter"/>
<circle cx="706" cy="365.5" r="16" fill="#fff" stroke="#0c0c0c" stroke-width="1.56"/>
<circle cx="670.5" cy="350" r="25" fill="#fff" stroke="#0c0c0c" stroke-width="1.56"/>
<circle cx="674.5" cy="398.75" r="31" fill="#fff" stroke="#0c0c0c" stroke-width="1.56"/>
<rect x="878" y="305" width="32" height="183" fill="#fff" stroke="#0c0c0c" stroke-width="1.56"/>
<rect x="895.75" y="330" width="5" height="131.25" fill="#fff" stroke="#0c0c0c" stroke-width="1.32"/>
<rect x="900.75" y="342" width="3.25" height="107.5" fill="#fff" stroke="#0c0c0c" stroke-width="1.2"/>
<rect x="534.5" y="528" width="54" height="358.5" fill="#fff" stroke="#0c0c0c" stroke-width="1.56"/>
<line x1="534.5" y1="531.5" x2="588.5" y2="531.5" stroke="#0c0c0c" stroke-width="1.44"/>
<line x1="534.5" y1="580.4" x2="588.5" y2="580.4" stroke="#0c0c0c" stroke-width="1.56"/>
<line x1="534.5" y1="584.7" x2="588.5" y2="584.7" stroke="#0c0c0c" stroke-width="1.56"/>
<line x1="534.5" y1="586.6" x2="588.5" y2="586.6" stroke="#0c0c0c" stroke-width="1.32"/>
<line x1="534.5" y1="634.6" x2="588.5" y2="634.6" stroke="#0c0c0c" stroke-width="1.56"/>
<rect x="588.5" y="530.5" width="3" height="49.9" fill="#0c0c0c" stroke="#0c0c0c" stroke-width="0.72"/>
<rect x="588.5" y="586" width="3" height="48.6" fill="#0c0c0c" stroke="#0c0c0c" stroke-width="0.72"/>
<rect x="591.5" y="572" width="2.7" height="8.4" fill="none" stroke="#0c0c0c" stroke-width="1.08"/>
<rect x="591.5" y="626" width="2.7" height="8.6" fill="none" stroke="#0c0c0c" stroke-width="1.08"/>
<text transform="translate(564.6 556.5) rotate(-90)" font-size="6.7" font-weight="bold" text-anchor="middle" fill="#111" stroke="#111" stroke-width="0.3">microfrigo</text>
<text transform="translate(560.8 611) rotate(-90)" font-size="6.7" font-weight="bold" text-anchor="middle" fill="#111" stroke="#111" stroke-width="0.3">horno/</text>
<text transform="translate(569.8 611) rotate(-90)" font-size="6.7" font-weight="bold" text-anchor="middle" fill="#111" stroke="#111" stroke-width="0.3">congelador</text>
<rect x="543" y="654.7" width="37.8" height="32.3" fill="none" stroke="#0c0c0c" stroke-width="1.44"/>
<circle cx="549.5" cy="671.9" r="2.6" fill="none" stroke="#0c0c0c" stroke-width="1.32"/>
<line x1="550.7" y1="692" x2="550.7" y2="715.3" stroke="#0c0c0c" stroke-width="1.44"/>
<line x1="558.6" y1="692" x2="558.6" y2="715.3" stroke="#0c0c0c" stroke-width="1.44"/>
<line x1="566.6" y1="692" x2="566.6" y2="715.3" stroke="#0c0c0c" stroke-width="1.44"/>
<line x1="574.6" y1="692" x2="574.6" y2="715.3" stroke="#0c0c0c" stroke-width="1.44"/>
<rect x="538.6" y="773.3" width="45.2" height="54.1" fill="#fff" stroke="#0c0c0c" stroke-width="1.44"/>
<circle cx="560.9" cy="790.4" r="13" fill="none" stroke="#0c0c0c" stroke-width="1.56"/>
<circle cx="560.9" cy="790.4" r="9" fill="none" stroke="#0c0c0c" stroke-width="1.56"/>
<circle cx="548.7" cy="815.5" r="6.5" fill="none" stroke="#0c0c0c" stroke-width="1.56"/>
<circle cx="571.9" cy="815.5" r="6.5" fill="none" stroke="#0c0c0c" stroke-width="1.56"/>
<line x1="581" y1="799" x2="581" y2="801" stroke="#0c0c0c" stroke-width="1.44"/>
<circle cx="754.5" cy="741" r="114" fill="none" stroke="#0c0c0c" stroke-width="1.56"/>
<rect x="695" y="687" width="21" height="45.5" fill="#fff" stroke="#0c0c0c" stroke-width="1.44" rx="4"/>
<line x1="699" y1="688" x2="699" y2="731.5" stroke="#0c0c0c" stroke-width="1.2"/>
<rect x="794" y="687" width="21" height="45.5" fill="#fff" stroke="#0c0c0c" stroke-width="1.44" rx="4"/>
<line x1="811" y1="688" x2="811" y2="731.5" stroke="#0c0c0c" stroke-width="1.2"/>
<rect x="695" y="751" width="21" height="46" fill="#fff" stroke="#0c0c0c" stroke-width="1.44" rx="4"/>
<line x1="699" y1="752" x2="699" y2="796" stroke="#0c0c0c" stroke-width="1.2"/>
<rect x="794" y="751" width="21" height="46" fill="#fff" stroke="#0c0c0c" stroke-width="1.44" rx="4"/>
<line x1="811" y1="752" x2="811" y2="796" stroke="#0c0c0c" stroke-width="1.2"/>
<rect x="731.5" y="657" width="47" height="21" fill="#fff" stroke="#0c0c0c" stroke-width="1.44" rx="4"/>
<line x1="732.5" y1="661" x2="777.5" y2="661" stroke="#0c0c0c" stroke-width="1.2"/>
<rect x="731.5" y="806" width="47" height="21" fill="#fff" stroke="#0c0c0c" stroke-width="1.44" rx="4"/>
<line x1="732.5" y1="823" x2="777.5" y2="823" stroke="#0c0c0c" stroke-width="1.2"/>
<rect x="716" y="678" width="78" height="128" fill="#fff" stroke="#0c0c0c" stroke-width="1.56" rx="2"/>
<rect x="688" y="535" width="84" height="23.4" fill="#fbf7b8" opacity="0.8"/>
<rect x="628" y="558.4" width="199.3" height="23.4" fill="#fefdf0"/>
<line x1="628" y1="582.2" x2="828" y2="582.2" stroke="#4a4a3a" stroke-width="1.2"/>
<line x1="827.6" y1="560" x2="827.6" y2="582.5" stroke="#4a4a3a" stroke-width="1.2"/>
<text x="692" y="554.4" font-size="23.2" textLength="76" lengthAdjust="spacingAndGlyphs" fill="#1a1a1a" stroke="#1a1a1a" stroke-width="0.5" font-weight="normal">33.23 M2</text>
<line x1="771" y1="535.5" x2="771" y2="557" stroke="#444" stroke-width="1.2"/>
<text x="630.1" y="578.5" font-size="23.2" textLength="192.3" lengthAdjust="spacingAndGlyphs" fill="#1a1a1a" stroke="#1a1a1a" stroke-width="0.5" font-weight="normal">COM.-ESTAR-COCINA</text>
<path d="M511.75 932.6 L534.5 932.6 L534.5 935 A75.5 75.5 0 0 1 610 1009.5 L610 1016.25 L511.75 1016.25 Z" fill="#fff"/>
<line x1="511.75" y1="925" x2="511.75" y2="1020" stroke="#0c0c0c" stroke-width="1.68"/>
<line x1="511.75" y1="932.6" x2="534.5" y2="932.6" stroke="#0c0c0c" stroke-width="1.56"/>
<rect x="523.8" y="932.6" width="10.6" height="3.9" fill="none" stroke="#0c0c0c" stroke-width="1.2"/>
<path d="M534.5 935 A75.5 75.5 0 0 1 610 1010.5" fill="none" stroke="#0c0c0c" stroke-width="1.56"/>
<rect x="534.4" y="1009.5" width="75.6" height="2.8" fill="#fff" stroke="#0c0c0c" stroke-width="1.32"/>
<rect x="523.8" y="1012.3" width="10.6" height="4.2" fill="none" stroke="#0c0c0c" stroke-width="1.2"/>
<line x1="511.75" y1="1016.5" x2="1044.8" y2="1016.5" stroke="#0c0c0c" stroke-width="1.68"/>
<line x1="511.75" y1="1039" x2="1044.8" y2="1039" stroke="#0c0c0c" stroke-width="1.68"/>
<line x1="558" y1="1016.5" x2="558" y2="1039" stroke="#0c0c0c" stroke-width="1.44"/>
<line x1="961.8" y1="1016.5" x2="961.8" y2="1039" stroke="#0c0c0c" stroke-width="1.44"/>
<line x1="917.5" y1="1016.5" x2="917.5" y2="1039" stroke="#0c0c0c" stroke-width="1.32"/>
<rect x="865" y="1021.25" width="52" height="13.25" fill="none" stroke="#0c0c0c" stroke-width="1.56"/>
<circle cx="872.5" cy="1028" r="5.3" fill="none" stroke="#0c0c0c" stroke-width="1.44"/>
<circle cx="885.2" cy="1028" r="5.3" fill="none" stroke="#0c0c0c" stroke-width="1.44"/>
<circle cx="897.8" cy="1028" r="5.3" fill="none" stroke="#0c0c0c" stroke-width="1.44"/>
<circle cx="910.5" cy="1028" r="5.3" fill="none" stroke="#0c0c0c" stroke-width="1.44"/>
<rect x="868.25" y="583.75" width="9.25" height="305.25" fill="#fff" stroke="#0c0c0c" stroke-width="1.56"/>
<line x1="868.25" y1="877.5" x2="877.5" y2="877.5" stroke="#0c0c0c" stroke-width="1.2"/>
<path d="M950.25 592.5 A64 64 0 0 1 886.25 656.5" fill="none" stroke="#0c0c0c" stroke-width="1.56"/>
<rect x="883" y="592.5" width="3.25" height="66.25" fill="#fff" stroke="#0c0c0c" stroke-width="1.2"/>
<line x1="877.5" y1="583.75" x2="886" y2="583.75" stroke="#0c0c0c" stroke-width="1.44"/>
<line x1="886" y1="583.75" x2="886" y2="592.5" stroke="#0c0c0c" stroke-width="1.2"/>
<rect x="948.75" y="583.75" width="4.25" height="9.05" fill="none" stroke="#0c0c0c" stroke-width="1.2"/>
<line x1="949.4" y1="584.4" x2="1420" y2="584.4" stroke="#0c0c0c" stroke-width="1.68"/>
<line x1="949.4" y1="592.8" x2="1189" y2="592.8" stroke="#0c0c0c" stroke-width="1.68"/>
<line x1="1213" y1="592.8" x2="1377" y2="592.8" stroke="#0c0c0c" stroke-width="1.68"/>
<rect x="953" y="585.1" width="236" height="7" fill="#fff"/>
<rect x="877.5" y="685" width="56.25" height="182.2" fill="#fff" stroke="#0c0c0c" stroke-width="1.56"/>
<line x1="879.5" y1="693.75" x2="879.5" y2="867.2" stroke="#0c0c0c" stroke-width="1.2"/>
<line x1="877.5" y1="693.75" x2="930" y2="693.75" stroke="#0c0c0c" stroke-width="1.32"/>
<line x1="930" y1="693.75" x2="930" y2="867.2" stroke="#0c0c0c" stroke-width="1.32"/>
<line x1="902.6" y1="693.75" x2="902.6" y2="867.2" stroke="#0c0c0c" stroke-width="2.81"/>
<line x1="882.2" y1="695.6" x2="924" y2="701.9" stroke="#0c0c0c" stroke-width="1.92"/>
<line x1="882.2" y1="717.5" x2="924" y2="710.5" stroke="#0c0c0c" stroke-width="1.92"/>
<line x1="882.2" y1="720.6" x2="924" y2="720.9" stroke="#0c0c0c" stroke-width="1.92"/>
<line x1="882.2" y1="726.6" x2="924" y2="733.1" stroke="#0c0c0c" stroke-width="1.92"/>
<line x1="882.2" y1="755.3" x2="924" y2="748" stroke="#0c0c0c" stroke-width="1.92"/>
<line x1="882.2" y1="769" x2="924" y2="775.3" stroke="#0c0c0c" stroke-width="1.92"/>
<line x1="882.2" y1="802.7" x2="924" y2="794.8" stroke="#0c0c0c" stroke-width="1.92"/>
<line x1="882.2" y1="805.8" x2="924" y2="812.5" stroke="#0c0c0c" stroke-width="1.92"/>
<line x1="882.2" y1="817.5" x2="924" y2="825.3" stroke="#0c0c0c" stroke-width="1.92"/>
<line x1="882.2" y1="823" x2="924" y2="830.8" stroke="#0c0c0c" stroke-width="1.92"/>
<line x1="882.2" y1="844" x2="924" y2="839" stroke="#0c0c0c" stroke-width="1.92"/>
<line x1="882.2" y1="852.7" x2="924" y2="859.7" stroke="#0c0c0c" stroke-width="1.92"/>
<line x1="882.2" y1="858" x2="924" y2="866" stroke="#0c0c0c" stroke-width="1.92"/>
<line x1="877.5" y1="866.4" x2="1189" y2="866.4" stroke="#0c0c0c" stroke-width="1.68"/>
<line x1="878" y1="877" x2="1044.8" y2="877" stroke="#0c0c0c" stroke-width="1.68"/>
<line x1="1044.8" y1="877" x2="1044.8" y2="1016.5" stroke="#0c0c0c" stroke-width="1.56"/>
<rect x="868.25" y="877.5" width="9.25" height="11.5" fill="#fff" stroke="#0c0c0c" stroke-width="1.32"/>
<path d="M944 891.5 A66 66 0 0 1 878 957.5" fill="none" stroke="#0c0c0c" stroke-width="1.56"/>
<rect x="878" y="889.7" width="66.4" height="4" fill="#fff" stroke="#0c0c0c" stroke-width="1.32"/>
<rect x="868.25" y="957.8" width="9.25" height="58.7" fill="#fff" stroke="#0c0c0c" stroke-width="1.56"/>
<line x1="868.25" y1="962" x2="877.5" y2="962" stroke="#0c0c0c" stroke-width="1.2"/>
<rect x="993.7" y="955.7" width="51" height="57.9" fill="#fff" stroke="#0c0c0c" stroke-width="1.44"/>
<line x1="993.7" y1="957.2" x2="1044.7" y2="957.2" stroke="#0c0c0c" stroke-width="2.59"/>
<circle cx="1019.2" cy="986.2" r="22.8" fill="#fff" stroke="#0c0c0c" stroke-width="1.56"/>
<text x="1037.2" y="988.4" font-size="8" font-weight="bold" text-anchor="end" textLength="31.5" lengthAdjust="spacingAndGlyphs" fill="#111" stroke="#111" stroke-width="0.3">Lavadora</text>
<text x="1037.2" y="999.2" font-size="8" font-weight="bold" text-anchor="end" textLength="23.5" lengthAdjust="spacingAndGlyphs" fill="#111" stroke="#111" stroke-width="0.3">Termo/</text>
<rect x="936.8" y="896.4" width="102" height="24.8" fill="#fcfadf" opacity="0.9"/>
<rect x="930.9" y="921.2" width="71.1" height="21.2" fill="#fcfadf" opacity="0.9"/>
<line x1="1038.8" y1="897" x2="1038.8" y2="921.2" stroke="#777" stroke-width="1.08"/>
<line x1="1002" y1="921.2" x2="1038.8" y2="921.2" stroke="#aaa" stroke-width="0.96"/>
<line x1="1002" y1="922" x2="1002" y2="942.4" stroke="#777" stroke-width="1.08"/>
<line x1="931" y1="942.4" x2="1002" y2="942.4" stroke="#777" stroke-width="1.08"/>
<text x="935.6" y="917.5" font-size="23.2" textLength="99.3" lengthAdjust="spacingAndGlyphs" fill="#1a1a1a" stroke="#1a1a1a" stroke-width="0.5" font-weight="normal">LAVADERO</text>
<text x="932.6" y="938.2" font-size="23.2" textLength="67.1" lengthAdjust="spacingAndGlyphs" fill="#1a1a1a" stroke="#1a1a1a" stroke-width="0.5" font-weight="normal">2.78 M2</text>
<rect x="1044.8" y="891.7" width="19.2" height="54.8" fill="none" stroke="#0c0c0c" stroke-width="1.44"/>
<line x1="1054.1" y1="891.7" x2="1054.1" y2="946.5" stroke="#0c0c0c" stroke-width="1.44"/>
<line x1="1044.8" y1="895.2" x2="1054.1" y2="895.2" stroke="#0c0c0c" stroke-width="1.32"/>
<line x1="1044.8" y1="917.5" x2="1054.1" y2="917.5" stroke="#0c0c0c" stroke-width="1.32"/>
<line x1="1044.8" y1="920.7" x2="1054.1" y2="920.7" stroke="#0c0c0c" stroke-width="1.32"/>
<line x1="1044.8" y1="941.8" x2="1054.1" y2="941.8" stroke="#0c0c0c" stroke-width="1.32"/>
<line x1="1049.5" y1="895.2" x2="1049.5" y2="941.8" stroke="#0c0c0c" stroke-width="1.2"/>
<line x1="1052.7" y1="902.4" x2="1052.7" y2="917.5" stroke="#0c0c0c" stroke-width="2.28"/>
<line x1="1048" y1="920.7" x2="1048" y2="937.1" stroke="#0c0c0c" stroke-width="2.28"/>
<line x1="1189" y1="52.5" x2="1189" y2="866.4" stroke="#0c0c0c" stroke-width="1.68"/>
<line x1="1213" y1="52.5" x2="1213" y2="866.4" stroke="#0c0c0c" stroke-width="1.68"/>
<line x1="1213" y1="52.5" x2="1420" y2="52.5" stroke="#0c0c0c" stroke-width="1.68"/>
<rect x="1193.75" y="53.75" width="15" height="13.75" fill="#1a1a1a" stroke="#0c0c0c" stroke-width="1.44"/>
<circle cx="1201.25" cy="60.6" r="5.2" fill="#fff" stroke="#0c0c0c" stroke-width="0.96"/>
<circle cx="1201.25" cy="60.6" r="3" fill="#ccc" stroke="#0c0c0c" stroke-width="1.2"/>
<rect x="1152.5" y="85" width="36.5" height="37.5" fill="none" stroke="#0c0c0c" stroke-width="1.56" rx="5"/>
<rect x="1152.5" y="255" width="36.5" height="36.4" fill="none" stroke="#0c0c0c" stroke-width="1.56" rx="5"/>
<rect x="1016.25" y="126.25" width="172.75" height="124.25" fill="#fff" stroke="#0c0c0c" stroke-width="1.56"/>
<line x1="1162" y1="126.25" x2="1162" y2="250.5" stroke="#0c0c0c" stroke-width="1.56"/>
<line x1="1162" y1="188.38" x2="1189" y2="188.38" stroke="#0c0c0c" stroke-width="1.56"/>
<path d="M1162 188.38 L1136 127.45 L1118 144.75 Z" fill="none" stroke="#0c0c0c" stroke-width="1.56" stroke-linejoin="miter"/>
<path d="M1162 188.38 L1136 249.3 L1118 232 Z" fill="none" stroke="#0c0c0c" stroke-width="1.56" stroke-linejoin="miter"/>
<rect x="1011.25" y="265.6" width="81.25" height="23.4" fill="#fffffb"/>
<rect x="1014" y="289" width="74.4" height="22.9" fill="#fffffb"/>
<line x1="1014" y1="312.2" x2="1089" y2="312.2" stroke="#666" stroke-width="1.2"/>
<line x1="1088.7" y1="290" x2="1088.7" y2="312.5" stroke="#666" stroke-width="1.2"/>
<line x1="1092.8" y1="266.5" x2="1092.8" y2="289.3" stroke="#777" stroke-width="1.2"/>
<line x1="1088.7" y1="289.3" x2="1093" y2="289.3" stroke="#777" stroke-width="1.08"/>
<text x="1015.1" y="284.5" font-size="23.2" textLength="74.9" lengthAdjust="spacingAndGlyphs" fill="#1a1a1a" stroke="#1a1a1a" stroke-width="0.5" font-weight="normal">10.62 M2</text>
<text x="1016.6" y="308.8" font-size="23.2" textLength="69.9" lengthAdjust="spacingAndGlyphs" fill="#1a1a1a" stroke="#1a1a1a" stroke-width="0.5" font-weight="normal">DORM.1</text>
<rect x="1213" y="85" width="36.5" height="37.5" fill="none" stroke="#0c0c0c" stroke-width="1.56" rx="5"/>
<rect x="1213" y="255" width="36.5" height="36.4" fill="none" stroke="#0c0c0c" stroke-width="1.56" rx="5"/>
<rect x="1213" y="126.25" width="207" height="124.25" fill="#fff" stroke="#0c0c0c" stroke-width="1.56"/>
<line x1="1240" y1="126.25" x2="1240" y2="250.5" stroke="#0c0c0c" stroke-width="1.56"/>
<line x1="1213" y1="188.38" x2="1240" y2="188.38" stroke="#0c0c0c" stroke-width="1.56"/>
<path d="M1240 188.38 L1266 127.45 L1284 144.75 Z" fill="none" stroke="#0c0c0c" stroke-width="1.56" stroke-linejoin="miter"/>
<path d="M1240 188.38 L1266 249.3 L1284 232 Z" fill="none" stroke="#0c0c0c" stroke-width="1.56" stroke-linejoin="miter"/>
<text x="1311.6" y="284.5" font-size="23.2" textLength="74.9" lengthAdjust="spacingAndGlyphs" fill="#1a1a1a" stroke="#1a1a1a" stroke-width="0.5" font-weight="normal">10.62 M2</text>
<text x="1316.6" y="308.8" font-size="23.2" textLength="69.9" lengthAdjust="spacingAndGlyphs" fill="#1a1a1a" stroke="#1a1a1a" stroke-width="0.5" font-weight="normal">DORM.1</text>
<line x1="925.3" y1="316" x2="925.3" y2="384" stroke="#0c0c0c" stroke-width="3.24"/>
<path d="M925.5 317 A67 67 0 0 1 992.5 384" fill="none" stroke="#0c0c0c" stroke-width="1.56"/>
<rect x="919.5" y="384" width="6" height="7.5" fill="none" stroke="#0c0c0c" stroke-width="1.2"/>
<rect x="1000.6" y="327.4" width="188.4" height="64.6" fill="none" stroke="#0c0c0c" stroke-width="1.56"/>
<line x1="1010.5" y1="327.4" x2="1010.5" y2="392" stroke="#0c0c0c" stroke-width="1.32"/>
<line x1="1010.5" y1="331.6" x2="1189" y2="331.6" stroke="#0c0c0c" stroke-width="1.32"/>
<line x1="1010.5" y1="355.5" x2="1189" y2="355.5" stroke="#0c0c0c" stroke-width="1.32"/>
<line x1="1010.5" y1="359" x2="1189" y2="359" stroke="#0c0c0c" stroke-width="1.32"/>
<line x1="1010.5" y1="382.8" x2="1189" y2="382.8" stroke="#0c0c0c" stroke-width="1.32"/>
<line x1="1023.4" y1="335.6" x2="1017.7" y2="377.8" stroke="#0c0c0c" stroke-width="1.92"/>
<line x1="1031.8" y1="335.6" x2="1039.1" y2="377.8" stroke="#0c0c0c" stroke-width="1.92"/>
<line x1="1041.7" y1="335.6" x2="1041.7" y2="377.8" stroke="#0c0c0c" stroke-width="1.92"/>
<line x1="1055.2" y1="335.6" x2="1048.4" y2="377.8" stroke="#0c0c0c" stroke-width="1.92"/>
<line x1="1070.8" y1="335.6" x2="1076.6" y2="377.8" stroke="#0c0c0c" stroke-width="1.92"/>
<line x1="1097.4" y1="335.6" x2="1091.1" y2="377.8" stroke="#0c0c0c" stroke-width="1.92"/>
<line x1="1116.7" y1="335.6" x2="1126" y2="377.8" stroke="#0c0c0c" stroke-width="1.92"/>
<line x1="1133.9" y1="335.6" x2="1126.6" y2="377.8" stroke="#0c0c0c" stroke-width="1.92"/>
<line x1="1146.9" y1="335.6" x2="1139.6" y2="377.8" stroke="#0c0c0c" stroke-width="1.92"/>
<line x1="1152.6" y1="335.6" x2="1145.3" y2="377.8" stroke="#0c0c0c" stroke-width="1.92"/>
<line x1="1160.9" y1="335.6" x2="1165.6" y2="377.8" stroke="#0c0c0c" stroke-width="1.92"/>
<line x1="1182.3" y1="335.6" x2="1175" y2="377.8" stroke="#0c0c0c" stroke-width="1.92"/>
<rect x="991" y="382.8" width="9.6" height="9.2" fill="none" stroke="#0c0c0c" stroke-width="1.2"/>
<path d="M1420 327.4 L1213 327.4 L1213 392 L1420 392" fill="none" stroke="#0c0c0c" stroke-width="1.56" stroke-linejoin="miter"/>
<line x1="1213" y1="331.6" x2="1420" y2="331.6" stroke="#0c0c0c" stroke-width="1.32"/>
<line x1="1213" y1="355.5" x2="1420" y2="355.5" stroke="#0c0c0c" stroke-width="1.32"/>
<line x1="1213" y1="359" x2="1420" y2="359" stroke="#0c0c0c" stroke-width="1.32"/>
<line x1="1213" y1="382.8" x2="1420" y2="382.8" stroke="#0c0c0c" stroke-width="1.32"/>
<line x1="1378.6" y1="335.6" x2="1384.3" y2="377.8" stroke="#0c0c0c" stroke-width="1.92"/>
<line x1="1370.2" y1="335.6" x2="1362.9" y2="377.8" stroke="#0c0c0c" stroke-width="1.92"/>
<line x1="1360.3" y1="335.6" x2="1360.3" y2="377.8" stroke="#0c0c0c" stroke-width="1.92"/>
<line x1="1346.8" y1="335.6" x2="1353.6" y2="377.8" stroke="#0c0c0c" stroke-width="1.92"/>
<line x1="1331.2" y1="335.6" x2="1325.4" y2="377.8" stroke="#0c0c0c" stroke-width="1.92"/>
<line x1="1304.6" y1="335.6" x2="1310.9" y2="377.8" stroke="#0c0c0c" stroke-width="1.92"/>
<line x1="1285.3" y1="335.6" x2="1276" y2="377.8" stroke="#0c0c0c" stroke-width="1.92"/>
<line x1="1268.1" y1="335.6" x2="1275.4" y2="377.8" stroke="#0c0c0c" stroke-width="1.92"/>
<line x1="1255.1" y1="335.6" x2="1262.4" y2="377.8" stroke="#0c0c0c" stroke-width="1.92"/>
<line x1="1249.4" y1="335.6" x2="1256.7" y2="377.8" stroke="#0c0c0c" stroke-width="1.92"/>
<line x1="1241.1" y1="335.6" x2="1236.4" y2="377.8" stroke="#0c0c0c" stroke-width="1.92"/>
<line x1="1219.7" y1="335.6" x2="1227" y2="377.8" stroke="#0c0c0c" stroke-width="1.92"/>
<rect x="1010.5" y="392" width="66.9" height="7" fill="#fff" stroke="#0c0c0c" stroke-width="1.32"/>
<path d="M1077.5 395.5 A67 67 0 0 1 1010.5 462.5" fill="none" stroke="#0c0c0c" stroke-width="1.56"/>
<rect x="1001.5" y="463" width="9" height="98.9" fill="#fff" stroke="#0c0c0c" stroke-width="1.44"/>
<line x1="1001.5" y1="467" x2="1010.5" y2="467" stroke="#0c0c0c" stroke-width="1.2"/>
<rect x="1001.5" y="561.9" width="32.3" height="30.9" fill="#fff" stroke="#0c0c0c" stroke-width="1.56"/>
<rect x="1148.8" y="400.5" width="40.2" height="64.5" fill="none" stroke="#0c0c0c" stroke-width="1.56"/>
<rect x="1158.6" y="413" width="22" height="40" fill="#fff" stroke="#0c0c0c" stroke-width="1.56"/>
<circle cx="1175" cy="432.5" r="1.5" fill="#0c0c0c" stroke="#0c0c0c" stroke-width="1.44"/>
<rect x="1213" y="400.5" width="40.7" height="64.5" fill="none" stroke="#0c0c0c" stroke-width="1.56"/>
<rect x="1222" y="413" width="21.6" height="40" fill="#fff" stroke="#0c0c0c" stroke-width="1.56"/>
<circle cx="1227.5" cy="432.5" r="1.5" fill="#0c0c0c" stroke="#0c0c0c" stroke-width="1.44"/>
<rect x="1117.3" y="492.5" width="71.7" height="91.9" fill="#fff" stroke="#0c0c0c" stroke-width="1.56"/>
<rect x="1130.5" y="565.5" width="45.9" height="3.5" fill="none" stroke="#0c0c0c" stroke-width="1.2"/>
<rect x="1213" y="492.5" width="73.6" height="91.9" fill="#fff" stroke="#0c0c0c" stroke-width="1.56"/>
<rect x="1226.4" y="565.5" width="45.6" height="3.5" fill="none" stroke="#0c0c0c" stroke-width="1.2"/>
<path d="M1045.6 584.4 L1045.6 546.7 A18.7 18.7 0 0 1 1083 546.7 L1083 584.4 Z" fill="#fff" stroke="#0c0c0c" stroke-width="1.56"/>
<line x1="1045.6" y1="576" x2="1083" y2="576" stroke="#0c0c0c" stroke-width="1.44"/>
<path d="M1319.8 584.4 L1319.8 546.7 A18.7 18.7 0 0 1 1357.2 546.7 L1357.2 584.4 Z" fill="#fff" stroke="#0c0c0c" stroke-width="1.56"/>
<line x1="1319.8" y1="576" x2="1357.2" y2="576" stroke="#0c0c0c" stroke-width="1.44"/>
<rect x="1189" y="524" width="24" height="60.4" fill="#fff" stroke="#0c0c0c" stroke-width="1.56"/>
<rect x="1193.6" y="528.6" width="14.8" height="14.7" fill="#fff" stroke="#0c0c0c" stroke-width="2.28"/>
<path d="M1194 528.8 L1208 528.8 L1194 542.9 Z" fill="#0c0c0c" stroke="#0c0c0c" stroke-width="0.48" stroke-linejoin="miter"/>
<line x1="1196.9" y1="531" x2="1196.9" y2="540.1" stroke="#fff" stroke-width="1.2"/>
<rect x="1193.6" y="547.9" width="14.8" height="13.6" fill="#fff" stroke="#0c0c0c" stroke-width="2.28"/>
<path d="M1194 548.1 L1208 548.1 L1194 561.1 Z" fill="#0c0c0c" stroke="#0c0c0c" stroke-width="0.48" stroke-linejoin="miter"/>
<line x1="1196.9" y1="550.3" x2="1196.9" y2="558.3" stroke="#fff" stroke-width="1.2"/>
<rect x="1193.6" y="566.1" width="14.8" height="13.2" fill="#fff" stroke="#0c0c0c" stroke-width="2.28"/>
<path d="M1194 566.3 L1208 566.3 L1194 578.9 Z" fill="#0c0c0c" stroke="#0c0c0c" stroke-width="0.48" stroke-linejoin="miter"/>
<line x1="1196.9" y1="568.5" x2="1196.9" y2="576.1" stroke="#fff" stroke-width="1.2"/>
<rect x="1031" y="461" width="74" height="21" fill="#fffffb"/>
<rect x="1042" y="482" width="58" height="25" fill="#fffffb"/>
<line x1="1042" y1="507" x2="1100" y2="507" stroke="#777" stroke-width="1.08"/>
<line x1="1100" y1="484" x2="1100" y2="507" stroke="#777" stroke-width="1.08"/>
<line x1="1105" y1="462" x2="1105" y2="482" stroke="#777" stroke-width="1.08"/>
<text x="1035.3" y="477.7" font-size="23.2" textLength="66.2" lengthAdjust="spacingAndGlyphs" fill="#1a1a1a" stroke="#1a1a1a" stroke-width="0.5" font-weight="normal">4.03 M2</text>
<text x="1045.2" y="503.5" font-size="23.2" textLength="50.9" lengthAdjust="spacingAndGlyphs" fill="#1a1a1a" stroke="#1a1a1a" stroke-width="0.5" font-weight="normal">BAÑO</text>
<text x="1300.3" y="477.7" font-size="23.2" textLength="66.2" lengthAdjust="spacingAndGlyphs" fill="#1a1a1a" stroke="#1a1a1a" stroke-width="0.5" font-weight="normal">4.03 M2</text>
<text x="1305.3" y="503.5" font-size="23.2" textLength="50.7" lengthAdjust="spacingAndGlyphs" fill="#1a1a1a" stroke="#1a1a1a" stroke-width="0.5" font-weight="normal">BAÑO</text>
<rect x="921" y="482" width="70" height="20" fill="#fdfce4"/>
<rect x="930" y="502" width="57" height="24" fill="#fdfce4"/>
<line x1="930" y1="526" x2="987" y2="526" stroke="#777" stroke-width="1.08"/>
<line x1="987" y1="504" x2="987" y2="526" stroke="#777" stroke-width="1.08"/>
<line x1="991" y1="483" x2="991" y2="502" stroke="#777" stroke-width="1.08"/>
<text x="923.6" y="499.1" font-size="23.2" textLength="65.7" lengthAdjust="spacingAndGlyphs" fill="#1a1a1a" stroke="#1a1a1a" stroke-width="0.5" font-weight="normal">1.89 M2</text>
<text x="932.6" y="522" font-size="23.2" textLength="50.9" lengthAdjust="spacingAndGlyphs" fill="#1a1a1a" stroke="#1a1a1a" stroke-width="0.5" font-weight="normal">PASO</text>
<rect x="1324" y="392" width="96" height="7" fill="#fff" stroke="#0c0c0c" stroke-width="1.32"/>
<path d="M1324 395.5 A66 66 0 0 0 1390 461.5" fill="none" stroke="#0c0c0c" stroke-width="1.56"/>
<rect x="1367" y="561.75" width="10" height="30.85" fill="#fff" stroke="#0c0c0c" stroke-width="1.32"/>
<rect x="1016" y="630.8" width="173" height="82.4" fill="#fff" stroke="#0c0c0c" stroke-width="1.56"/>
<line x1="1162.3" y1="630.8" x2="1162.3" y2="713.2" stroke="#0c0c0c" stroke-width="1.56"/>
<path d="M1162.3 631.8 L1103.8 689.8 L1127 713.2 Z" fill="none" stroke="#0c0c0c" stroke-width="1.56" stroke-linejoin="miter"/>
<rect x="1213" y="630.8" width="207" height="82.4" fill="#fff" stroke="#0c0c0c" stroke-width="1.56"/>
<line x1="1240.5" y1="630.8" x2="1240.5" y2="713.2" stroke="#0c0c0c" stroke-width="1.56"/>
<path d="M1240.5 631.8 L1299 689.8 L1275.8 713.2 Z" fill="none" stroke="#0c0c0c" stroke-width="1.56" stroke-linejoin="miter"/>
<rect x="1213" y="754.5" width="207" height="82.1" fill="#fff" stroke="#0c0c0c" stroke-width="1.56"/>
<line x1="1240.5" y1="754.5" x2="1240.5" y2="836.6" stroke="#0c0c0c" stroke-width="1.56"/>
<path d="M1240.5 835.6 L1299 777.6 L1275.8 754.5 Z" fill="none" stroke="#0c0c0c" stroke-width="1.56" stroke-linejoin="miter"/>
<rect x="1154.4" y="713.2" width="34.6" height="41.3" fill="#fff" stroke="#0c0c0c" stroke-width="1.56" rx="4"/>
<line x1="1187.5" y1="713.2" x2="1187.5" y2="754.5" stroke="#0c0c0c" stroke-width="2.59"/>
<rect x="1150.5" y="731.4" width="3.9" height="4" fill="#fff" stroke="#0c0c0c" stroke-width="1.2" rx="1.5"/>
<rect x="1213" y="713.2" width="35" height="41.3" fill="#fff" stroke="#0c0c0c" stroke-width="1.56" rx="4"/>
<line x1="1214.5" y1="713.2" x2="1214.5" y2="754.5" stroke="#0c0c0c" stroke-width="2.59"/>
<rect x="1248" y="731.4" width="4" height="4" fill="#fff" stroke="#0c0c0c" stroke-width="1.2" rx="1.5"/>
<line x1="1016" y1="713.2" x2="1154.4" y2="713.2" stroke="#0c0c0c" stroke-width="1.56"/>
<line x1="1016" y1="754.5" x2="1154.4" y2="754.5" stroke="#0c0c0c" stroke-width="1.56"/>
<rect x="995" y="714.5" width="82" height="20" fill="#fffff6"/>
<rect x="992" y="735" width="78" height="19" fill="#fffff6"/>
<line x1="1077" y1="715" x2="1077" y2="735" stroke="#777" stroke-width="1.08"/>
<line x1="1070" y1="736" x2="1070" y2="754" stroke="#777" stroke-width="1.08"/>
<text x="998.8" y="731.3" font-size="23.2" textLength="76" lengthAdjust="spacingAndGlyphs" fill="#1a1a1a" stroke="#1a1a1a" stroke-width="0.5" font-weight="normal">10.20 M2</text>
<text x="995.4" y="755.8" font-size="23.2" textLength="72.6" lengthAdjust="spacingAndGlyphs" fill="#1a1a1a" stroke="#1a1a1a" stroke-width="0.5" font-weight="normal">DORM.2</text>
<rect x="1016" y="754.5" width="173" height="82.1" fill="#fff" stroke="#0c0c0c" stroke-width="1.56"/>
<line x1="1162.3" y1="754.5" x2="1162.3" y2="836.6" stroke="#0c0c0c" stroke-width="1.56"/>
<path d="M1162.3 835.6 L1103.8 777.6 L1127 754.5 Z" fill="none" stroke="#0c0c0c" stroke-width="1.56" stroke-linejoin="miter"/>
<text x="1327.6" y="731.3" font-size="23.2" textLength="75.9" lengthAdjust="spacingAndGlyphs" fill="#1a1a1a" stroke="#1a1a1a" stroke-width="0.5" font-weight="normal">10.20 M2</text>
<text x="1324.2" y="755" font-size="23.2" textLength="72.3" lengthAdjust="spacingAndGlyphs" fill="#1a1a1a" stroke="#1a1a1a" stroke-width="0.5" font-weight="normal">DORM.2</text>
<line x1="1213" y1="866.4" x2="1377" y2="866.4" stroke="#0c0c0c" stroke-width="1.68"/>
<rect x="1064.4" y="890.3" width="275.1" height="275" fill="#fff" stroke="#0c0c0c" stroke-width="1.68"/>
<line x1="1064.4" y1="890.3" x2="1339.5" y2="1165.3" stroke="#0c0c0c" stroke-width="1.56"/>
<line x1="1339.5" y1="890.3" x2="1064.4" y2="1165.3" stroke="#0c0c0c" stroke-width="1.56"/>
<rect x="1075" y="866.4" width="109.8" height="23.9" fill="none" stroke="#0c0c0c" stroke-width="1.44"/>
<line x1="1075" y1="880.02" x2="1184.8" y2="880.02" stroke="#0c0c0c" stroke-width="1.32"/>
<line x1="1079.5" y1="880.02" x2="1079.5" y2="890.3" stroke="#0c0c0c" stroke-width="1.2"/>
<line x1="1180.3" y1="880.02" x2="1180.3" y2="890.3" stroke="#0c0c0c" stroke-width="1.2"/>
<line x1="1128.4" y1="880.02" x2="1128.4" y2="890.3" stroke="#0c0c0c" stroke-width="1.2"/>
<line x1="1131.4" y1="880.02" x2="1131.4" y2="890.3" stroke="#0c0c0c" stroke-width="1.2"/>
<line x1="1082" y1="884.65" x2="1128.4" y2="884.65" stroke="#0c0c0c" stroke-width="2.4"/>
<line x1="1132.9" y1="886.25" x2="1177.8" y2="886.25" stroke="#0c0c0c" stroke-width="2.4"/>
<rect x="1218.5" y="866.4" width="109.2" height="23.9" fill="none" stroke="#0c0c0c" stroke-width="1.44"/>
<line x1="1218.5" y1="880.02" x2="1327.7" y2="880.02" stroke="#0c0c0c" stroke-width="1.32"/>
<line x1="1223" y1="880.02" x2="1223" y2="890.3" stroke="#0c0c0c" stroke-width="1.2"/>
<line x1="1323.2" y1="880.02" x2="1323.2" y2="890.3" stroke="#0c0c0c" stroke-width="1.2"/>
<line x1="1271.6" y1="880.02" x2="1271.6" y2="890.3" stroke="#0c0c0c" stroke-width="1.2"/>
<line x1="1274.6" y1="880.02" x2="1274.6" y2="890.3" stroke="#0c0c0c" stroke-width="1.2"/>
<line x1="1225.5" y1="884.65" x2="1271.6" y2="884.65" stroke="#0c0c0c" stroke-width="2.4"/>
<line x1="1276.1" y1="886.25" x2="1320.7" y2="886.25" stroke="#0c0c0c" stroke-width="2.4"/>
<rect x="1075" y="1165.3" width="109.8" height="22.4" fill="none" stroke="#0c0c0c" stroke-width="1.44"/>
<line x1="1075" y1="1178.07" x2="1184.8" y2="1178.07" stroke="#0c0c0c" stroke-width="1.32"/>
<line x1="1079.5" y1="1178.07" x2="1079.5" y2="1187.7" stroke="#0c0c0c" stroke-width="1.2"/>
<line x1="1180.3" y1="1178.07" x2="1180.3" y2="1187.7" stroke="#0c0c0c" stroke-width="1.2"/>
<line x1="1128.4" y1="1178.07" x2="1128.4" y2="1187.7" stroke="#0c0c0c" stroke-width="1.2"/>
<line x1="1131.4" y1="1178.07" x2="1131.4" y2="1187.7" stroke="#0c0c0c" stroke-width="1.2"/>
<line x1="1082" y1="1182.4" x2="1128.4" y2="1182.4" stroke="#0c0c0c" stroke-width="2.4"/>
<line x1="1132.9" y1="1184" x2="1177.8" y2="1184" stroke="#0c0c0c" stroke-width="2.4"/>
<rect x="1218.5" y="1165.3" width="109.2" height="22.4" fill="none" stroke="#0c0c0c" stroke-width="1.44"/>
<line x1="1218.5" y1="1178.07" x2="1327.7" y2="1178.07" stroke="#0c0c0c" stroke-width="1.32"/>
<line x1="1223" y1="1178.07" x2="1223" y2="1187.7" stroke="#0c0c0c" stroke-width="1.2"/>
<line x1="1323.2" y1="1178.07" x2="1323.2" y2="1187.7" stroke="#0c0c0c" stroke-width="1.2"/>
<line x1="1271.6" y1="1178.07" x2="1271.6" y2="1187.7" stroke="#0c0c0c" stroke-width="1.2"/>
<line x1="1274.6" y1="1178.07" x2="1274.6" y2="1187.7" stroke="#0c0c0c" stroke-width="1.2"/>
<line x1="1225.5" y1="1182.4" x2="1271.6" y2="1182.4" stroke="#0c0c0c" stroke-width="2.4"/>
<line x1="1276.1" y1="1184" x2="1320.7" y2="1184" stroke="#0c0c0c" stroke-width="2.4"/>
<rect x="1044.8" y="1108" width="19.2" height="55" fill="none" stroke="#0c0c0c" stroke-width="1.44"/>
<line x1="1054.1" y1="1108" x2="1054.1" y2="1163" stroke="#0c0c0c" stroke-width="1.44"/>
<line x1="1044.8" y1="1111.5" x2="1054.1" y2="1111.5" stroke="#0c0c0c" stroke-width="1.32"/>
<line x1="1044.8" y1="1133.9" x2="1054.1" y2="1133.9" stroke="#0c0c0c" stroke-width="1.32"/>
<line x1="1044.8" y1="1137.1" x2="1054.1" y2="1137.1" stroke="#0c0c0c" stroke-width="1.32"/>
<line x1="1044.8" y1="1158.3" x2="1054.1" y2="1158.3" stroke="#0c0c0c" stroke-width="1.32"/>
<line x1="1049.5" y1="1111.5" x2="1049.5" y2="1158.3" stroke="#0c0c0c" stroke-width="1.2"/>
<line x1="1052.7" y1="1118.7" x2="1052.7" y2="1133.9" stroke="#0c0c0c" stroke-width="2.28"/>
<line x1="1048" y1="1137.1" x2="1048" y2="1153.6" stroke="#0c0c0c" stroke-width="2.28"/>
<rect x="1339.5" y="891.7" width="18.2" height="54.8" fill="none" stroke="#0c0c0c" stroke-width="1.44"/>
<line x1="1348.4" y1="891.7" x2="1348.4" y2="946.5" stroke="#0c0c0c" stroke-width="1.44"/>
<line x1="1357.7" y1="895.2" x2="1348.4" y2="895.2" stroke="#0c0c0c" stroke-width="1.32"/>
<line x1="1357.7" y1="917.5" x2="1348.4" y2="917.5" stroke="#0c0c0c" stroke-width="1.32"/>
<line x1="1357.7" y1="920.7" x2="1348.4" y2="920.7" stroke="#0c0c0c" stroke-width="1.32"/>
<line x1="1357.7" y1="941.8" x2="1348.4" y2="941.8" stroke="#0c0c0c" stroke-width="1.32"/>
<line x1="1353" y1="895.2" x2="1353" y2="941.8" stroke="#0c0c0c" stroke-width="1.2"/>
<line x1="1349.8" y1="902.4" x2="1349.8" y2="917.5" stroke="#0c0c0c" stroke-width="2.28"/>
<line x1="1354.5" y1="920.7" x2="1354.5" y2="937.1" stroke="#0c0c0c" stroke-width="2.28"/>
<rect x="1339.5" y="1108" width="18.2" height="55" fill="none" stroke="#0c0c0c" stroke-width="1.44"/>
<line x1="1348.4" y1="1108" x2="1348.4" y2="1163" stroke="#0c0c0c" stroke-width="1.44"/>
<line x1="1357.7" y1="1111.5" x2="1348.4" y2="1111.5" stroke="#0c0c0c" stroke-width="1.32"/>
<line x1="1357.7" y1="1133.9" x2="1348.4" y2="1133.9" stroke="#0c0c0c" stroke-width="1.32"/>
<line x1="1357.7" y1="1137.1" x2="1348.4" y2="1137.1" stroke="#0c0c0c" stroke-width="1.32"/>
<line x1="1357.7" y1="1158.3" x2="1348.4" y2="1158.3" stroke="#0c0c0c" stroke-width="1.32"/>
<line x1="1353" y1="1111.5" x2="1353" y2="1158.3" stroke="#0c0c0c" stroke-width="1.2"/>
<line x1="1349.8" y1="1118.7" x2="1349.8" y2="1133.9" stroke="#0c0c0c" stroke-width="2.28"/>
<line x1="1354.5" y1="1137.1" x2="1354.5" y2="1153.6" stroke="#0c0c0c" stroke-width="2.28"/>
<line x1="1357.7" y1="877" x2="1357.7" y2="1016.5" stroke="#0c0c0c" stroke-width="1.56"/>
<line x1="1357.7" y1="877" x2="1377" y2="877" stroke="#0c0c0c" stroke-width="1.56"/>
<line x1="1357.7" y1="1016.5" x2="1377" y2="1016.5" stroke="#0c0c0c" stroke-width="1.56"/>
<line x1="1357.7" y1="1039" x2="1377" y2="1039" stroke="#0c0c0c" stroke-width="1.56"/>
<line x1="1357.7" y1="1039" x2="1357.7" y2="1178.7" stroke="#0c0c0c" stroke-width="1.56"/>
<line x1="1357.7" y1="1178.7" x2="1377" y2="1178.7" stroke="#0c0c0c" stroke-width="1.56"/>
<rect x="1359" y="955.8" width="41" height="57.7" fill="#fff" stroke="#0c0c0c" stroke-width="1.44"/>
<line x1="1359" y1="957.3" x2="1400" y2="957.3" stroke="#0c0c0c" stroke-width="2.38"/>
<circle cx="1384" cy="986.5" r="22.5" fill="#fff" stroke="#0c0c0c" stroke-width="1.56"/>
<text x="1365" y="988.5" font-size="8" font-weight="bold" textLength="31.5" lengthAdjust="spacingAndGlyphs" fill="#111">Lavadora</text>
<text x="1365" y="999.5" font-size="8" font-weight="bold" textLength="23.5" lengthAdjust="spacingAndGlyphs" fill="#111">Termo/</text>
<rect x="1359" y="1043.6" width="41" height="56.2" fill="#fff" stroke="#0c0c0c" stroke-width="1.44"/>
<line x1="1359" y1="1098.3" x2="1400" y2="1098.3" stroke="#0c0c0c" stroke-width="2.38"/>
<circle cx="1384" cy="1069.7" r="22.5" fill="#fff" stroke="#0c0c0c" stroke-width="1.56"/>
<text x="1365" y="1062.5" font-size="8" font-weight="bold" textLength="23.5" lengthAdjust="spacingAndGlyphs" fill="#111">Termo/</text>
<text x="1365" y="1072.3" font-size="8" font-weight="bold" textLength="31.5" lengthAdjust="spacingAndGlyphs" fill="#111">Lavadora</text>
<text x="1364.6" y="917.5" font-size="23.2" textLength="98.9" lengthAdjust="spacingAndGlyphs" fill="#1a1a1a" stroke="#1a1a1a" stroke-width="0.5" font-weight="normal">LAVADERO</text>
<text x="1361.6" y="938.2" font-size="23.2" textLength="66.9" lengthAdjust="spacingAndGlyphs" fill="#1a1a1a" stroke="#1a1a1a" stroke-width="0.5" font-weight="normal">2.78 M2</text>
<line x1="534.5" y1="1124.7" x2="534.5" y2="1280" stroke="#0c0c0c" stroke-width="1.68"/>
<line x1="511.75" y1="1124.7" x2="534.5" y2="1124.7" stroke="#0c0c0c" stroke-width="1.56"/>
<rect x="523.75" y="1039.5" width="10" height="4.25" fill="none" stroke="#0c0c0c" stroke-width="1.2"/>
<rect x="533.75" y="1043.75" width="76.25" height="3.25" fill="#fff" stroke="#0c0c0c" stroke-width="1.32"/>
<path d="M609.5 1045 A75.5 75.5 0 0 1 534 1120.5" fill="none" stroke="#0c0c0c" stroke-width="1.56"/>
<rect x="523.5" y="1120.3" width="11" height="4.4" fill="none" stroke="#0c0c0c" stroke-width="1.2"/>
<rect x="534" y="1170" width="54" height="120" fill="#fff" stroke="#0c0c0c" stroke-width="1.56"/>
<rect x="538.75" y="1228.75" width="45" height="55.25" fill="#fff" stroke="#0c0c0c" stroke-width="1.44"/>
<circle cx="549.55" cy="1241.75" r="6.5" fill="none" stroke="#0c0c0c" stroke-width="1.56"/>
<circle cx="572.95" cy="1241.75" r="6.5" fill="none" stroke="#0c0c0c" stroke-width="1.56"/>
<circle cx="561.25" cy="1265.25" r="12.5" fill="none" stroke="#0c0c0c" stroke-width="1.56"/>
<circle cx="561.25" cy="1265.25" r="8.5" fill="none" stroke="#0c0c0c" stroke-width="1.56"/>
<line x1="580.25" y1="1262.75" x2="580.25" y2="1264.75" stroke="#0c0c0c" stroke-width="1.44"/>
<circle cx="754.5" cy="1317.5" r="114" fill="none" stroke="#0c0c0c" stroke-width="1.56"/>
<rect x="695" y="1263.5" width="21" height="45.5" fill="#fff" stroke="#0c0c0c" stroke-width="1.44" rx="4"/>
<line x1="699" y1="1264.5" x2="699" y2="1308" stroke="#0c0c0c" stroke-width="1.2"/>
<rect x="794" y="1263.5" width="21" height="45.5" fill="#fff" stroke="#0c0c0c" stroke-width="1.44" rx="4"/>
<line x1="811" y1="1264.5" x2="811" y2="1308" stroke="#0c0c0c" stroke-width="1.2"/>
<rect x="695" y="1327.5" width="21" height="46" fill="#fff" stroke="#0c0c0c" stroke-width="1.44" rx="4"/>
<line x1="699" y1="1328.5" x2="699" y2="1372.5" stroke="#0c0c0c" stroke-width="1.2"/>
<rect x="794" y="1327.5" width="21" height="46" fill="#fff" stroke="#0c0c0c" stroke-width="1.44" rx="4"/>
<line x1="811" y1="1328.5" x2="811" y2="1372.5" stroke="#0c0c0c" stroke-width="1.2"/>
<rect x="731.5" y="1233.5" width="47" height="21" fill="#fff" stroke="#0c0c0c" stroke-width="1.44" rx="4"/>
<line x1="732.5" y1="1237.5" x2="777.5" y2="1237.5" stroke="#0c0c0c" stroke-width="1.2"/>
<rect x="731.5" y="1382.5" width="47" height="21" fill="#fff" stroke="#0c0c0c" stroke-width="1.44" rx="4"/>
<line x1="732.5" y1="1399.5" x2="777.5" y2="1399.5" stroke="#0c0c0c" stroke-width="1.2"/>
<rect x="716" y="1254.5" width="78" height="128" fill="#fff" stroke="#0c0c0c" stroke-width="1.56" rx="2"/>
<rect x="868.75" y="1039.5" width="8.75" height="23" fill="#fff" stroke="#0c0c0c" stroke-width="1.44"/>
<line x1="877.5" y1="1039.5" x2="877.5" y2="1062.5" stroke="#0c0c0c" stroke-width="1.44"/>
<line x1="877.5" y1="1063" x2="944.5" y2="1063" stroke="#0c0c0c" stroke-width="2.59"/>
<path d="M943.5 1064 A66 66 0 0 1 877.5 1130" fill="none" stroke="#0c0c0c" stroke-width="1.56"/>
<rect x="868.75" y="1130" width="8.75" height="150" fill="#fff" stroke="#0c0c0c" stroke-width="1.56"/>
<line x1="868.75" y1="1134" x2="877.5" y2="1134" stroke="#0c0c0c" stroke-width="1.2"/>
<line x1="1044.2" y1="1039" x2="1044.2" y2="1178.7" stroke="#0c0c0c" stroke-width="1.56"/>
<line x1="877.5" y1="1178.7" x2="1044.2" y2="1178.7" stroke="#0c0c0c" stroke-width="1.68"/>
<rect x="993.6" y="1043.6" width="51.2" height="56.2" fill="#fff" stroke="#0c0c0c" stroke-width="1.44"/>
<line x1="993.6" y1="1098.3" x2="1044.8" y2="1098.3" stroke="#0c0c0c" stroke-width="2.59"/>
<circle cx="1018.9" cy="1069.7" r="22.8" fill="#fff" stroke="#0c0c0c" stroke-width="1.56"/>
<text x="1036.9" y="1062.4" font-size="8" font-weight="bold" text-anchor="end" textLength="23.5" lengthAdjust="spacingAndGlyphs" fill="#111" stroke="#111" stroke-width="0.3">Termo/</text>
<text x="1036.9" y="1072.2" font-size="8" font-weight="bold" text-anchor="end" textLength="31.5" lengthAdjust="spacingAndGlyphs" fill="#111" stroke="#111" stroke-width="0.3">Lavadora</text>
<text x="935.6" y="1134.3" font-size="23.2" textLength="99.3" lengthAdjust="spacingAndGlyphs" fill="#1a1a1a" stroke="#1a1a1a" stroke-width="0.5" font-weight="normal">LAVADERO</text>
<text x="932.6" y="1154.7" font-size="23.2" textLength="67.1" lengthAdjust="spacingAndGlyphs" fill="#1a1a1a" stroke="#1a1a1a" stroke-width="0.5" font-weight="normal">2.78 M2</text>
<rect x="877.5" y="1187.5" width="56.25" height="102.5" fill="#fff" stroke="#0c0c0c" stroke-width="1.56"/>
<line x1="879.5" y1="1187.5" x2="879.5" y2="1290" stroke="#0c0c0c" stroke-width="1.2"/>
<line x1="930" y1="1187.5" x2="930" y2="1290" stroke="#0c0c0c" stroke-width="1.32"/>
<line x1="903" y1="1187.5" x2="903" y2="1290" stroke="#0c0c0c" stroke-width="2.81"/>
<line x1="882.2" y1="1190.5" x2="924" y2="1196.8" stroke="#0c0c0c" stroke-width="1.92"/>
<line x1="882.2" y1="1212.4" x2="924" y2="1205.4" stroke="#0c0c0c" stroke-width="1.92"/>
<line x1="882.2" y1="1215.5" x2="924" y2="1215.8" stroke="#0c0c0c" stroke-width="1.92"/>
<line x1="882.2" y1="1221.5" x2="924" y2="1228" stroke="#0c0c0c" stroke-width="1.92"/>
<line x1="882.2" y1="1250.2" x2="924" y2="1242.9" stroke="#0c0c0c" stroke-width="1.92"/>
<line x1="882.2" y1="1263.9" x2="924" y2="1270.2" stroke="#0c0c0c" stroke-width="1.92"/>
<line x1="933.75" y1="1187.7" x2="1189" y2="1187.7" stroke="#0c0c0c" stroke-width="1.68"/>
<line x1="1213" y1="1187.7" x2="1377" y2="1187.7" stroke="#0c0c0c" stroke-width="1.68"/>
<line x1="1189" y1="1187.7" x2="1189" y2="1280" stroke="#0c0c0c" stroke-width="1.68"/>
<line x1="1213" y1="1187.7" x2="1213" y2="1280" stroke="#0c0c0c" stroke-width="1.68"/>
<rect x="1013.3" y="1221" width="175.7" height="79" fill="#fff" stroke="#0c0c0c" stroke-width="1.56"/>
<line x1="1160.3" y1="1221" x2="1160.3" y2="1300" stroke="#0c0c0c" stroke-width="1.56"/>
<path d="M1160.3 1222 L1101.8 1281 L1125 1304" fill="none" stroke="#0c0c0c" stroke-width="1.56" stroke-linejoin="miter"/>
<line x1="1160.3" y1="1222" x2="1125" y2="1304" stroke="#0c0c0c" stroke-width="1.56"/>
<rect x="1213" y="1221" width="207" height="79" fill="#fff" stroke="#0c0c0c" stroke-width="1.56"/>
<line x1="1241.9" y1="1221" x2="1241.9" y2="1300" stroke="#0c0c0c" stroke-width="1.56"/>
<path d="M1241.9 1222 L1300.4 1281" fill="none" stroke="#0c0c0c" stroke-width="1.56" stroke-linejoin="miter"/>
<line x1="1241.9" y1="1222" x2="1277.2" y2="1304" stroke="#0c0c0c" stroke-width="1.56"/>
<rect x="1377.6" y="0" width="545" height="1280" fill="#fff"/>
<line x1="1378.2" y1="0" x2="1378.2" y2="613" stroke="#f9e6ee" stroke-width="3.89"/>
<line x1="1377.6" y1="0" x2="1377.6" y2="613" stroke="#8e7482" stroke-width="1.8"/>
<line x1="1378.2" y1="943.4" x2="1378.2" y2="1280" stroke="#fbeef3" stroke-width="3.24"/>
<line x1="1377.8" y1="943.4" x2="1377.8" y2="1280" stroke="#cfa9bd" stroke-width="1.44"/>
<line x1="1377" y1="30" x2="1377" y2="52" stroke="#444" stroke-width="1.2"/>
<line x1="1445.5" y1="0" x2="1445.5" y2="488" stroke="#0c0c0c" stroke-width="1.56"/>
<line x1="1445.5" y1="488" x2="1891" y2="488" stroke="#0c0c0c" stroke-width="1.56"/>
<line x1="1890.6" y1="0" x2="1890.6" y2="772" stroke="#0c0c0c" stroke-width="1.56"/>
<line x1="1890.6" y1="820" x2="1890.6" y2="943.4" stroke="#0c0c0c" stroke-width="1.56"/>
<line x1="1377" y1="613.7" x2="1890.6" y2="613.7" stroke="#0c0c0c" stroke-width="1.68"/>
<line x1="1377.3" y1="613.7" x2="1377.3" y2="943.4" stroke="#0c0c0c" stroke-width="1.56"/>
<line x1="1377" y1="943.4" x2="1890.6" y2="943.4" stroke="#0c0c0c" stroke-width="1.68"/>
<line x1="1886" y1="962.8" x2="1890.5" y2="962.8" stroke="#555" stroke-width="1.2"/>
<line x1="1886" y1="981.6" x2="1890.5" y2="981.6" stroke="#555" stroke-width="1.2"/>
<line x1="1886" y1="1001" x2="1890.5" y2="1001" stroke="#555" stroke-width="1.2"/>
<line x1="1886" y1="1020.6" x2="1890.5" y2="1020.6" stroke="#555" stroke-width="1.2"/>
<line x1="1886" y1="1041" x2="1890.5" y2="1041" stroke="#555" stroke-width="1.2"/>
<line x1="1886" y1="1060" x2="1890.5" y2="1060" stroke="#555" stroke-width="1.2"/>
<line x1="1886" y1="1080" x2="1890.5" y2="1080" stroke="#555" stroke-width="1.2"/>
<line x1="1886" y1="1099" x2="1890.5" y2="1099" stroke="#555" stroke-width="1.2"/>
<line x1="1886" y1="1119" x2="1890.5" y2="1119" stroke="#555" stroke-width="1.2"/>
<line x1="1886" y1="1217" x2="1890.5" y2="1217" stroke="#555" stroke-width="1.2"/>
<line x1="1446" y1="943.4" x2="1446" y2="946.5" stroke="#555" stroke-width="1.2"/>
<line x1="1481" y1="943.4" x2="1481" y2="946.5" stroke="#555" stroke-width="1.2"/>
<line x1="1787.5" y1="943.4" x2="1787.5" y2="946.5" stroke="#555" stroke-width="1.2"/>
<line x1="1844.4" y1="943.4" x2="1844.4" y2="946.5" stroke="#555" stroke-width="1.2"/>
<rect x="1465.75" y="51" width="400.5" height="407.75" fill="none" stroke="#0c0c0c" stroke-width="1.56"/>
<line x1="1465.75" y1="83.5" x2="1866.25" y2="83.5" stroke="#0c0c0c" stroke-width="1.56"/>
<line x1="1465.75" y1="118.25" x2="1866.25" y2="118.25" stroke="#0c0c0c" stroke-width="1.56"/>
<line x1="1465.75" y1="152.75" x2="1866.25" y2="152.75" stroke="#0c0c0c" stroke-width="1.56"/>
<line x1="1465.75" y1="186.25" x2="1866.25" y2="186.25" stroke="#0c0c0c" stroke-width="1.56"/>
<line x1="1465.75" y1="220.5" x2="1866.25" y2="220.5" stroke="#0c0c0c" stroke-width="1.56"/>
<line x1="1465.75" y1="253.75" x2="1866.25" y2="253.75" stroke="#0c0c0c" stroke-width="1.56"/>
<line x1="1465.75" y1="288" x2="1866.25" y2="288" stroke="#0c0c0c" stroke-width="1.56"/>
<line x1="1465.75" y1="321.75" x2="1866.25" y2="321.75" stroke="#0c0c0c" stroke-width="1.56"/>
<line x1="1465.75" y1="356.25" x2="1866.25" y2="356.25" stroke="#0c0c0c" stroke-width="1.56"/>
<line x1="1465.75" y1="390" x2="1866.25" y2="390" stroke="#0c0c0c" stroke-width="1.56"/>
<line x1="1465.75" y1="423.75" x2="1866.25" y2="423.75" stroke="#0c0c0c" stroke-width="1.56"/>
<line x1="1704.25" y1="83.5" x2="1704.25" y2="458.75" stroke="#0c0c0c" stroke-width="1.56"/>
<rect x="1466.35" y="322.3" width="399.3" height="33.5" fill="none" stroke="#0c0c0c" stroke-width="2.81"/>
<rect x="1466.35" y="424.3" width="399.3" height="33.9" fill="none" stroke="#0c0c0c" stroke-width="2.81"/>
<text x="1510.3" y="77.2" font-size="22.8" textLength="331" lengthAdjust="spacingAndGlyphs" fill="#1c1c1c" stroke="#1c1c1c" stroke-width="0.5" font-weight="normal">APPARTMENT 2-2-S</text>
<text x="1512.5" y="141.5" font-size="21.5" textLength="166.25" lengthAdjust="spacingAndGlyphs" fill="#1c1c1c" stroke="#1c1c1c" stroke-width="0.5" font-weight="normal">Salon- Kitchen</text>
<text x="1724.5" y="141.5" font-size="21.5" textLength="101" lengthAdjust="spacingAndGlyphs" fill="#1c1c1c" stroke="#1c1c1c" stroke-width="0.5" font-weight="normal">33,23 m²</text>
<text x="1512.5" y="175.5" font-size="21.5" textLength="121" lengthAdjust="spacingAndGlyphs" fill="#1c1c1c" stroke="#1c1c1c" stroke-width="0.5" font-weight="normal">Circulation</text>
<text x="1739.5" y="175.5" font-size="21.5" textLength="86.5" lengthAdjust="spacingAndGlyphs" fill="#1c1c1c" stroke="#1c1c1c" stroke-width="0.5" font-weight="normal">1,89 m²</text>
<text x="1512.5" y="209" font-size="21.5" textLength="106" lengthAdjust="spacingAndGlyphs" fill="#1c1c1c" stroke="#1c1c1c" stroke-width="0.5" font-weight="normal">Lavadero</text>
<text x="1738.5" y="209" font-size="21.5" textLength="87.5" lengthAdjust="spacingAndGlyphs" fill="#1c1c1c" stroke="#1c1c1c" stroke-width="0.5" font-weight="normal">2,78 m²</text>
<text x="1512.5" y="243.5" font-size="21.5" textLength="123" lengthAdjust="spacingAndGlyphs" fill="#1c1c1c" stroke="#1c1c1c" stroke-width="0.5" font-weight="normal">Bedroom 1</text>
<text x="1725" y="243.5" font-size="21.5" textLength="100.5" lengthAdjust="spacingAndGlyphs" fill="#1c1c1c" stroke="#1c1c1c" stroke-width="0.5" font-weight="normal">10,62 m²</text>
<text x="1512.5" y="277" font-size="21.5" textLength="130" lengthAdjust="spacingAndGlyphs" fill="#1c1c1c" stroke="#1c1c1c" stroke-width="0.5" font-weight="normal">Bathroom 1</text>
<text x="1739" y="277" font-size="21.5" textLength="87" lengthAdjust="spacingAndGlyphs" fill="#1c1c1c" stroke="#1c1c1c" stroke-width="0.5" font-weight="normal">4,03 m²</text>
<text x="1512.5" y="311.5" font-size="21.5" textLength="124.5" lengthAdjust="spacingAndGlyphs" fill="#1c1c1c" stroke="#1c1c1c" stroke-width="0.5" font-weight="normal">Bedroom 2</text>
<text x="1725" y="311.5" font-size="21.5" textLength="100.5" lengthAdjust="spacingAndGlyphs" fill="#1c1c1c" stroke="#1c1c1c" stroke-width="0.5" font-weight="normal">10,20 m²</text>
<text x="1512.5" y="345.5" font-size="21.5" textLength="181.5" lengthAdjust="spacingAndGlyphs" fill="#1c1c1c" stroke="#1c1c1c" stroke-width="0.5" font-weight="normal">Tot. Surface Int.</text>
<text x="1724" y="345.5" font-size="21.5" textLength="101.5" lengthAdjust="spacingAndGlyphs" fill="#1c1c1c" stroke="#1c1c1c" stroke-width="0.5" font-weight="normal">62,75 m²</text>
<text x="1512.5" y="379" font-size="21.5" textLength="87.5" lengthAdjust="spacingAndGlyphs" fill="#1c1c1c" stroke="#1c1c1c" stroke-width="0.5" font-weight="normal">Terrace</text>
<text x="1739" y="379" font-size="21.5" textLength="87" lengthAdjust="spacingAndGlyphs" fill="#1c1c1c" stroke="#1c1c1c" stroke-width="0.5" font-weight="normal">7,50 m²</text>
<text x="1512.5" y="446.5" font-size="21.5" textLength="139" lengthAdjust="spacingAndGlyphs" fill="#1c1c1c" stroke="#1c1c1c" stroke-width="0.5" font-weight="normal">Tot. Surface</text>
<text x="1724.5" y="446.5" font-size="21.5" textLength="101" lengthAdjust="spacingAndGlyphs" fill="#1c1c1c" stroke="#1c1c1c" stroke-width="0.5" font-weight="normal">70,25 m²</text>
<g transform="translate(1380 580) scale(0.28125)">
<polygon points="135,198 1630,198 1662,232 1678,384 85,384 105,232" fill="#0d0d0d"/>
<rect x="228" y="212" width="1427" height="160" fill="#fff"/>
<rect x="1390.77" y="230.53" width="9.26" height="25.7" fill="#0d0d0d"/>
<rect x="1118.62" y="280.75" width="12.11" height="22.66" fill="#0d0d0d"/>
<rect x="1338" y="289.19" width="58.2" height="7.73" fill="#0d0d0d"/>
<rect x="1311.69" y="293.49" width="31.5" height="6.87" fill="#0d0d0d"/>
<rect x="1014.24" y="279.02" width="21.4" height="8" fill="#0d0d0d"/>
<rect x="1241.5" y="317.2" width="53.26" height="15.82" fill="#0d0d0d"/>
<rect x="1311.06" y="294.12" width="37.37" height="6.79" fill="#0d0d0d"/>
<rect x="398.11" y="347.61" width="50.63" height="11.52" fill="#0d0d0d"/>
<rect x="402.11" y="351.61" width="42.63" height="3.52" fill="#fff"/>
<rect x="1558.35" y="274.39" width="15.74" height="42.03" fill="#0d0d0d"/>
<rect x="1562.35" y="278.39" width="7.74" height="34.03" fill="#fff"/>
<rect x="758.14" y="347.02" width="49" height="13.69" fill="#0d0d0d"/>
<rect x="762.14" y="351.02" width="41" height="5.69" fill="#fff"/>
<rect x="1615.38" y="232.79" width="19.66" height="9.58" fill="#0d0d0d"/>
<rect x="894.54" y="307.48" width="12.88" height="19.79" fill="#0d0d0d"/>
<rect x="1509.83" y="343.06" width="21.86" height="14.44" fill="#0d0d0d"/>
<rect x="1305.53" y="305.65" width="6.62" height="33.41" fill="#0d0d0d"/>
<rect x="390.42" y="269.37" width="21.7" height="15.24" fill="#0d0d0d"/>
<rect x="1320.92" y="226.8" width="7.36" height="26.37" fill="#0d0d0d"/>
<rect x="913.93" y="270.47" width="58.25" height="8.33" fill="#0d0d0d"/>
<rect x="608.53" y="315.31" width="12.01" height="33.66" fill="#0d0d0d"/>
<rect x="871.34" y="239.67" width="8.95" height="26.84" fill="#0d0d0d"/>
<rect x="357.85" y="342.98" width="18.79" height="7.41" fill="#0d0d0d"/>
<rect x="1567.89" y="265.46" width="13.79" height="23.29" fill="#0d0d0d"/>
<rect x="497.93" y="330.57" width="47.2" height="13.68" fill="#0d0d0d"/>
<rect x="1402.06" y="260.41" width="54.3" height="14.72" fill="#0d0d0d"/>
<rect x="1634.01" y="268.51" width="15.7" height="42.16" fill="#0d0d0d"/>
<rect x="795.28" y="318.37" width="11.24" height="34.14" fill="#0d0d0d"/>
<rect x="666.83" y="224.79" width="11.62" height="40.62" fill="#0d0d0d"/>
<rect x="299.85" y="341.89" width="33.1" height="13.82" fill="#0d0d0d"/>
<rect x="263.08" y="311.24" width="12.77" height="19.82" fill="#0d0d0d"/>
<rect x="457.93" y="337.43" width="14.23" height="26.67" fill="#0d0d0d"/>
<rect x="461.93" y="341.43" width="6.23" height="18.67" fill="#fff"/>
<rect x="353.81" y="288.65" width="12.24" height="48.56" fill="#0d0d0d"/>
<rect x="296.79" y="318.93" width="44.05" height="14.49" fill="#0d0d0d"/>
<rect x="300.79" y="322.93" width="36.05" height="6.49" fill="#fff"/>
<rect x="336.19" y="216.63" width="59.21" height="14.5" fill="#0d0d0d"/>
<rect x="340.19" y="220.63" width="51.21" height="6.5" fill="#fff"/>
<rect x="1371.72" y="305.02" width="6.38" height="43.12" fill="#0d0d0d"/>
<rect x="1170.35" y="224.13" width="14.25" height="35.37" fill="#0d0d0d"/>
<rect x="483.13" y="269.52" width="9.88" height="40.87" fill="#0d0d0d"/>
<rect x="499.51" y="284.71" width="9.22" height="33" fill="#0d0d0d"/>
<rect x="500.45" y="313.79" width="45.69" height="11.57" fill="#0d0d0d"/>
<rect x="504.45" y="317.79" width="37.69" height="3.57" fill="#fff"/>
<rect x="1169.46" y="258.17" width="15.94" height="27.81" fill="#0d0d0d"/>
<rect x="525.98" y="264.99" width="39.03" height="13.85" fill="#0d0d0d"/>
<rect x="529.98" y="268.99" width="31.03" height="5.85" fill="#fff"/>
<rect x="954.69" y="277.54" width="46.15" height="14.31" fill="#0d0d0d"/>
<rect x="958.69" y="281.54" width="38.15" height="6.31" fill="#fff"/>
<rect x="1159.49" y="255.4" width="57.58" height="10.8" fill="#0d0d0d"/>
<rect x="1163.49" y="259.4" width="49.58" height="2.8" fill="#fff"/>
<rect x="955.28" y="303.46" width="30.43" height="10.19" fill="#0d0d0d"/>
<rect x="1361.89" y="276.69" width="14.02" height="39.99" fill="#0d0d0d"/>
<rect x="1448.95" y="268.26" width="14.94" height="30.35" fill="#0d0d0d"/>
<rect x="835.16" y="334.88" width="42.98" height="15.47" fill="#0d0d0d"/>
<rect x="1588.86" y="309.75" width="21.21" height="9.31" fill="#0d0d0d"/>
<rect x="859.88" y="333.43" width="9.5" height="22.68" fill="#0d0d0d"/>
<rect x="360.26" y="345.21" width="30.35" height="9.57" fill="#0d0d0d"/>
<rect x="266.42" y="286.82" width="7.73" height="31.65" fill="#0d0d0d"/>
<rect x="281.56" y="346.32" width="26.42" height="12.38" fill="#0d0d0d"/>
<rect x="274.27" y="312.73" width="10.24" height="18.7" fill="#0d0d0d"/>
<rect x="934.15" y="287.16" width="40.58" height="14.71" fill="#0d0d0d"/>
<rect x="1045.63" y="296.78" width="6.32" height="39.23" fill="#0d0d0d"/>
<rect x="1563.16" y="222.58" width="13.94" height="26.88" fill="#0d0d0d"/>
<rect x="1214" y="282.91" width="25.92" height="12.38" fill="#0d0d0d"/>
<rect x="1218" y="286.91" width="17.92" height="4.38" fill="#fff"/>
<rect x="809.55" y="272.25" width="10.48" height="30.28" fill="#0d0d0d"/>
<rect x="1325.59" y="352.79" width="38.87" height="8.84" fill="#0d0d0d"/>
<rect x="548.1" y="326.8" width="38.02" height="13.39" fill="#0d0d0d"/>
<rect x="552.1" y="330.8" width="30.02" height="5.39" fill="#fff"/>
<rect x="1076.54" y="308.76" width="11.57" height="42.75" fill="#0d0d0d"/>
<rect x="1600.61" y="247.6" width="26.65" height="13.46" fill="#0d0d0d"/>
<rect x="1308.72" y="230.76" width="9.05" height="25.54" fill="#0d0d0d"/>
<rect x="912.61" y="258.4" width="10.97" height="48.36" fill="#0d0d0d"/>
<rect x="747.86" y="323.43" width="6.5" height="18.51" fill="#0d0d0d"/>
<rect x="1543.81" y="339.1" width="21.82" height="8.8" fill="#0d0d0d"/>
<rect x="748.95" y="340.69" width="10.69" height="22.34" fill="#0d0d0d"/>
<rect x="1291.7" y="312.69" width="15.36" height="47.29" fill="#0d0d0d"/>
<rect x="1295.7" y="316.69" width="7.36" height="39.29" fill="#fff"/>
<rect x="253.49" y="250.02" width="15.62" height="34.69" fill="#0d0d0d"/>
<rect x="241.09" y="310.95" width="48.42" height="7.74" fill="#0d0d0d"/>
<rect x="1152.39" y="326.32" width="46.6" height="13.1" fill="#0d0d0d"/>
<rect x="1156.39" y="330.32" width="38.6" height="5.1" fill="#fff"/>
<rect x="1362.27" y="231.75" width="10.36" height="30.36" fill="#0d0d0d"/>
<rect x="232" y="205" width="288" height="9" fill="#0d0d0d"/>
<rect x="242" y="262" width="80" height="30" fill="#0d0d0d"/>
<rect x="246" y="266" width="19.67" height="22" fill="#fff"/>
<rect x="272.67" y="266" width="19.67" height="22" fill="#fff"/>
<rect x="299.33" y="266" width="19.67" height="22" fill="#fff"/>
<circle cx="270" cy="238" r="11" fill="#fff" stroke="#0d0d0d" stroke-width="5"/>
<line x1="259" y1="238" x2="281" y2="238" stroke="#0d0d0d" stroke-width="2.5"/>
<line x1="270" y1="227" x2="270" y2="249" stroke="#0d0d0d" stroke-width="2.5"/>
<circle cx="283" cy="332" r="35" fill="#fff" stroke="#0d0d0d" stroke-width="7.5"/>
<circle cx="283" cy="332" r="27" fill="none" stroke="#0d0d0d" stroke-width="3"/>
<rect x="272" y="313" width="22" height="38" rx="5" fill="#fff" stroke="#0d0d0d" stroke-width="9"/>
<line x1="332" y1="205" x2="332" y2="380" stroke="#0d0d0d" stroke-width="5"/>
<rect x="338" y="214" width="132" height="160" fill="#fff"/>
<rect x="452.62" y="265.9" width="7.95" height="48.89" fill="#0d0d0d"/>
<rect x="410.49" y="246.09" width="27.31" height="8.89" fill="#0d0d0d"/>
<rect x="419.52" y="270.12" width="26.12" height="6.89" fill="#0d0d0d"/>
<rect x="356.17" y="278.51" width="44.77" height="10.04" fill="#0d0d0d"/>
<rect x="360.17" y="282.51" width="36.77" height="2.04" fill="#fff"/>
<rect x="390.8" y="343.89" width="52.58" height="12.8" fill="#0d0d0d"/>
<rect x="402.38" y="214.98" width="35.76" height="10.05" fill="#0d0d0d"/>
<rect x="424.34" y="215.33" width="9.46" height="18.7" fill="#0d0d0d"/>
<rect x="345.4" y="236.94" width="19.45" height="7.81" fill="#0d0d0d"/>
<rect x="396.14" y="274.37" width="9.63" height="38.88" fill="#0d0d0d"/>
<rect x="390.94" y="214.87" width="54.54" height="12.91" fill="#0d0d0d"/>
<rect x="394.94" y="218.87" width="46.54" height="4.91" fill="#fff"/>
<rect x="425.11" y="335.21" width="32.52" height="15.46" fill="#0d0d0d"/>
<rect x="429.11" y="339.21" width="24.52" height="7.46" fill="#fff"/>
<rect x="431.69" y="230.29" width="13.74" height="43.9" fill="#0d0d0d"/>
<rect x="390.96" y="314.91" width="13.38" height="46.56" fill="#0d0d0d"/>
<rect x="345.91" y="285.97" width="14.84" height="28.8" fill="#0d0d0d"/>
<rect x="430" y="227.7" width="20.41" height="8.79" fill="#0d0d0d"/>
<rect x="441.41" y="351.75" width="26.59" height="7.12" fill="#0d0d0d"/>
<rect x="339.05" y="305.87" width="45.44" height="14.88" fill="#0d0d0d"/>
<rect x="359.49" y="253.88" width="41.91" height="14.04" fill="#0d0d0d"/>
<rect x="451.04" y="251.83" width="11.35" height="28.7" fill="#0d0d0d"/>
<rect x="364.89" y="223.3" width="10.01" height="19.74" fill="#0d0d0d"/>
<rect x="382.57" y="313.96" width="32.38" height="9.7" fill="#0d0d0d"/>
<rect x="405.27" y="229.4" width="9.64" height="39.21" fill="#0d0d0d"/>
<rect x="358.61" y="277.81" width="46.39" height="13.35" fill="#0d0d0d"/>
<rect x="449.49" y="327.58" width="19.7" height="6.5" fill="#0d0d0d"/>
<rect x="455.25" y="306.22" width="8.69" height="40.73" fill="#0d0d0d"/>
<rect x="386.09" y="277.35" width="15.22" height="19.86" fill="#0d0d0d"/>
<rect x="390.09" y="281.35" width="7.22" height="11.86" fill="#fff"/>
<rect x="444.84" y="221.27" width="7.43" height="41.91" fill="#0d0d0d"/>
<rect x="423.16" y="331.39" width="44.81" height="12.91" fill="#0d0d0d"/>
<rect x="427.16" y="335.39" width="36.81" height="4.91" fill="#fff"/>
<rect x="389.95" y="245.6" width="7.47" height="40.84" fill="#0d0d0d"/>
<rect x="356.72" y="243.43" width="51.45" height="6.96" fill="#0d0d0d"/>
<rect x="446.14" y="268.17" width="11.87" height="39.27" fill="#0d0d0d"/>
<rect x="422.78" y="289.07" width="39.7" height="13.15" fill="#0d0d0d"/>
<rect x="426.78" y="293.07" width="31.7" height="5.15" fill="#fff"/>
<line x1="472" y1="205" x2="472" y2="380" stroke="#0d0d0d" stroke-width="5"/>
<rect x="482" y="300" width="66" height="52" fill="#0d0d0d"/>
<rect x="490" y="308" width="50" height="36" fill="#fff"/>
<rect x="513.14" y="261.05" width="43.87" height="7.7" fill="#0d0d0d"/>
<rect x="520.71" y="254.51" width="11.66" height="19.38" fill="#0d0d0d"/>
<rect x="494.75" y="229.73" width="13.35" height="30.07" fill="#0d0d0d"/>
<rect x="518.04" y="232.74" width="12.09" height="32.14" fill="#0d0d0d"/>
<rect x="510.8" y="238.48" width="44.09" height="12.3" fill="#0d0d0d"/>
<rect x="514.8" y="242.48" width="36.09" height="4.3" fill="#fff"/>
<rect x="512.72" y="249.1" width="46.88" height="11.1" fill="#0d0d0d"/>
<rect x="528.01" y="251.75" width="7.67" height="24.64" fill="#0d0d0d"/>
<rect x="552.08" y="247.77" width="10.41" height="39.4" fill="#0d0d0d"/>
<rect x="499.9" y="274.09" width="57.8" height="10.47" fill="#0d0d0d"/>
<rect x="476" y="360" width="99" height="20" fill="#0d0d0d"/>
<line x1="574" y1="248" x2="574" y2="380" stroke="#0d0d0d" stroke-width="5"/>
<rect x="520" y="244" width="208" height="8" fill="#0d0d0d"/>
<circle cx="612" cy="326" r="35" fill="#fff" stroke="#0d0d0d" stroke-width="7.5"/>
<circle cx="612" cy="326" r="27" fill="none" stroke="#0d0d0d" stroke-width="3"/>
<rect x="601" y="307" width="22" height="38" rx="5" fill="#fff" stroke="#0d0d0d" stroke-width="9"/>
<rect x="655" y="296" width="67" height="22" fill="#0d0d0d"/>
<rect x="659" y="300" width="15.33" height="14" fill="#fff"/>
<rect x="681.33" y="300" width="15.33" height="14" fill="#fff"/>
<rect x="703.67" y="300" width="15.33" height="14" fill="#fff"/>
<circle cx="690" cy="344" r="11" fill="#fff" stroke="#0d0d0d" stroke-width="5"/>
<line x1="679" y1="344" x2="701" y2="344" stroke="#0d0d0d" stroke-width="2.5"/>
<line x1="690" y1="333" x2="690" y2="355" stroke="#0d0d0d" stroke-width="2.5"/>
<rect x="655" y="268" width="67" height="12" fill="#0d0d0d"/>
<rect x="730" y="245" width="85" height="139" fill="#0d0d0d"/>
<circle cx="780" cy="340" r="6" fill="#fff"/>
<circle cx="780" cy="340" r="2" fill="#888"/>
<rect x="846" y="205" width="70" height="179" fill="#0d0d0d"/>
<rect x="858" y="212" width="46" height="50" fill="#fff"/>
<rect x="866" y="218" width="30" height="36" fill="#0d0d0d"/>
<rect x="872" y="224" width="18" height="24" fill="#fff"/>
<rect x="852" y="285" width="26" height="13" fill="#fff"/>
<rect x="886" y="285" width="26" height="13" fill="#fff"/>
<rect x="852" y="307" width="26" height="13" fill="#fff"/>
<rect x="886" y="307" width="26" height="13" fill="#fff"/>
<rect x="852" y="329" width="26" height="13" fill="#fff"/>
<rect x="886" y="329" width="26" height="13" fill="#fff"/>
<rect x="852" y="351" width="26" height="13" fill="#fff"/>
<rect x="886" y="351" width="26" height="13" fill="#fff"/>
<rect x="945" y="245" width="75" height="139" fill="#0d0d0d"/>
<circle cx="978" cy="340" r="6" fill="#fff"/>
<circle cx="978" cy="340" r="2" fill="#888"/>
<rect x="1022" y="244" width="228" height="8" fill="#0d0d0d"/>
<rect x="1030" y="296" width="68" height="22" fill="#0d0d0d"/>
<rect x="1034" y="300" width="15.67" height="14" fill="#fff"/>
<rect x="1056.67" y="300" width="15.67" height="14" fill="#fff"/>
<rect x="1079.33" y="300" width="15.67" height="14" fill="#fff"/>
<circle cx="1062" cy="344" r="11" fill="#fff" stroke="#0d0d0d" stroke-width="5"/>
<line x1="1051" y1="344" x2="1073" y2="344" stroke="#0d0d0d" stroke-width="2.5"/>
<line x1="1062" y1="333" x2="1062" y2="355" stroke="#0d0d0d" stroke-width="2.5"/>
<rect x="1030" y="268" width="68" height="12" fill="#0d0d0d"/>
<circle cx="1135" cy="326" r="35" fill="#fff" stroke="#0d0d0d" stroke-width="7.5"/>
<circle cx="1135" cy="326" r="27" fill="none" stroke="#0d0d0d" stroke-width="3"/>
<rect x="1124" y="307" width="22" height="38" rx="5" fill="#fff" stroke="#0d0d0d" stroke-width="9"/>
<line x1="1180" y1="248" x2="1180" y2="380" stroke="#0d0d0d" stroke-width="5"/>
<rect x="1205" y="300" width="63" height="52" fill="#0d0d0d"/>
<rect x="1213" y="308" width="47" height="36" fill="#fff"/>
<rect x="1250.99" y="258.21" width="10.56" height="37.79" fill="#0d0d0d"/>
<rect x="1267.66" y="264.78" width="7.22" height="30.23" fill="#0d0d0d"/>
<rect x="1187.77" y="263.34" width="27.34" height="14.28" fill="#0d0d0d"/>
<rect x="1191.77" y="267.34" width="19.34" height="6.28" fill="#fff"/>
<rect x="1210.16" y="280.12" width="39.98" height="7.83" fill="#0d0d0d"/>
<rect x="1225.68" y="264.54" width="51.02" height="11.73" fill="#0d0d0d"/>
<line x1="1288" y1="205" x2="1288" y2="380" stroke="#0d0d0d" stroke-width="5"/>
<rect x="1296" y="300" width="66" height="52" fill="#0d0d0d"/>
<rect x="1304" y="308" width="50" height="36" fill="#fff"/>
<rect x="1313.23" y="233.46" width="14.72" height="41.42" fill="#0d0d0d"/>
<rect x="1383.18" y="230.16" width="6.17" height="23.33" fill="#0d0d0d"/>
<rect x="1328.57" y="245.49" width="45.11" height="14.62" fill="#0d0d0d"/>
<rect x="1332.57" y="249.49" width="37.11" height="6.62" fill="#fff"/>
<rect x="1336.64" y="244.25" width="12.28" height="31.11" fill="#0d0d0d"/>
<rect x="1331.52" y="273.11" width="41.88" height="7" fill="#0d0d0d"/>
<rect x="1317.39" y="276.33" width="35.42" height="15.23" fill="#0d0d0d"/>
<rect x="1321.39" y="280.33" width="27.42" height="7.23" fill="#fff"/>
<rect x="1373.84" y="240.13" width="6.41" height="39.36" fill="#0d0d0d"/>
<rect x="1340.11" y="226.72" width="15.96" height="23.74" fill="#0d0d0d"/>
<rect x="1299.04" y="233.43" width="24.73" height="12.25" fill="#0d0d0d"/>
<rect x="1303.04" y="237.43" width="16.73" height="4.25" fill="#fff"/>
<rect x="1353.83" y="258.5" width="8.44" height="20.31" fill="#0d0d0d"/>
<rect x="1321.99" y="246.89" width="11.35" height="41.03" fill="#0d0d0d"/>
<line x1="1402" y1="205" x2="1402" y2="380" stroke="#0d0d0d" stroke-width="5"/>
<rect x="1486.51" y="267.69" width="9.49" height="43.3" fill="#0d0d0d"/>
<rect x="1458.42" y="258.08" width="24.88" height="9.48" fill="#0d0d0d"/>
<rect x="1433.85" y="296.02" width="25.1" height="10.3" fill="#0d0d0d"/>
<rect x="1459.24" y="319.07" width="8.27" height="49.61" fill="#0d0d0d"/>
<rect x="1491.42" y="292.65" width="8.51" height="47.74" fill="#0d0d0d"/>
<rect x="1484.49" y="323.77" width="13.65" height="46.15" fill="#0d0d0d"/>
<rect x="1447.27" y="315.75" width="40.35" height="11.05" fill="#0d0d0d"/>
<rect x="1471.43" y="317.44" width="11.9" height="48.83" fill="#0d0d0d"/>
<rect x="1422.81" y="255.64" width="35.6" height="8.91" fill="#0d0d0d"/>
<rect x="1447.79" y="308.28" width="50.88" height="14.67" fill="#0d0d0d"/>
<rect x="1451.79" y="312.28" width="42.88" height="6.67" fill="#fff"/>
<rect x="1430.9" y="324.89" width="20.4" height="14.68" fill="#0d0d0d"/>
<rect x="1413.8" y="299.03" width="14.52" height="39.03" fill="#0d0d0d"/>
<line x1="1503" y1="205" x2="1503" y2="380" stroke="#0d0d0d" stroke-width="5"/>
<rect x="1512" y="262" width="76" height="30" fill="#0d0d0d"/>
<rect x="1516" y="266" width="18.33" height="22" fill="#fff"/>
<rect x="1541.33" y="266" width="18.33" height="22" fill="#fff"/>
<rect x="1566.67" y="266" width="18.33" height="22" fill="#fff"/>
<circle cx="1545" cy="238" r="11" fill="#fff" stroke="#0d0d0d" stroke-width="5"/>
<line x1="1534" y1="238" x2="1556" y2="238" stroke="#0d0d0d" stroke-width="2.5"/>
<line x1="1545" y1="227" x2="1545" y2="249" stroke="#0d0d0d" stroke-width="2.5"/>
<circle cx="1548" cy="336" r="35" fill="#fff" stroke="#0d0d0d" stroke-width="7.5"/>
<circle cx="1548" cy="336" r="27" fill="none" stroke="#0d0d0d" stroke-width="3"/>
<rect x="1537" y="317" width="22" height="38" rx="5" fill="#fff" stroke="#0d0d0d" stroke-width="9"/>
<line x1="1596" y1="232" x2="1596" y2="380" stroke="#0d0d0d" stroke-width="5"/>
<circle cx="1618" cy="325" r="9" fill="#fff" stroke="#0d0d0d" stroke-width="5"/>
<circle cx="1648" cy="325" r="9" fill="#fff" stroke="#0d0d0d" stroke-width="5"/>
<circle cx="1618" cy="352" r="9" fill="#fff" stroke="#0d0d0d" stroke-width="5"/>
<circle cx="1648" cy="352" r="9" fill="#fff" stroke="#0d0d0d" stroke-width="5"/>
<rect x="1612" y="283" width="40" height="5" fill="#0d0d0d"/>
<rect x="1612" y="294" width="40" height="5" fill="#0d0d0d"/>
<rect x="108" y="392" width="70" height="8" fill="#0d0d0d"/>
<rect x="108" y="406.5" width="70" height="8" fill="#0d0d0d"/>
<rect x="108" y="421" width="70" height="8" fill="#0d0d0d"/>
<rect x="108" y="435.5" width="70" height="8" fill="#0d0d0d"/>
<rect x="108" y="450" width="70" height="8" fill="#0d0d0d"/>
<rect x="108" y="464.5" width="70" height="8" fill="#0d0d0d"/>
<rect x="108" y="479" width="70" height="8" fill="#0d0d0d"/>
<rect x="108" y="493.5" width="70" height="8" fill="#0d0d0d"/>
<rect x="108" y="508" width="70" height="8" fill="#0d0d0d"/>
<rect x="108" y="522.5" width="70" height="8" fill="#0d0d0d"/>
<rect x="108" y="537" width="70" height="8" fill="#0d0d0d"/>
<rect x="150" y="386" width="10" height="162" fill="#0d0d0d"/>
<rect x="122" y="386" width="8" height="162" fill="#0d0d0d"/>
<rect x="212" y="392" width="28" height="20" fill="#2f8f3a"/>
<rect x="212" y="422" width="28" height="20" fill="#7fc27f"/>
<rect x="212" y="452" width="28" height="20" fill="#2f8f3a"/>
<rect x="212" y="482" width="28" height="20" fill="#7fc27f"/>
<rect x="290" y="425" width="82" height="87" fill="#f4e7a6"/>
<ellipse cx="338" cy="466" rx="20" ry="38" fill="#fff" stroke="#0d0d0d" stroke-width="6"/>
<rect x="330" y="440" width="16" height="52" fill="#0d0d0d"/>
<rect x="335" y="446" width="6" height="40" fill="#fff"/>
<circle cx="405" cy="445" r="12" fill="#b9a273" stroke="#0d0d0d" stroke-width="5"/>
<line x1="393" y1="445" x2="417" y2="445" stroke="#0d0d0d" stroke-width="2.5"/>
<line x1="405" y1="433" x2="405" y2="457" stroke="#0d0d0d" stroke-width="2.5"/>
<circle cx="405" cy="488" r="12" fill="#b9a273" stroke="#0d0d0d" stroke-width="5"/>
<line x1="393" y1="488" x2="417" y2="488" stroke="#0d0d0d" stroke-width="2.5"/>
<line x1="405" y1="476" x2="405" y2="500" stroke="#0d0d0d" stroke-width="2.5"/>
<circle cx="470" cy="465" r="15" fill="#8c8266" stroke="#0d0d0d" stroke-width="5"/>
<line x1="455" y1="465" x2="485" y2="465" stroke="#0d0d0d" stroke-width="2.5"/>
<line x1="470" y1="450" x2="470" y2="480" stroke="#0d0d0d" stroke-width="2.5"/>
<polygon points="570,430 615,425 700,420 740,440 740,500 690,512 570,498" fill="#a8956a"/>
<polygon points="600,428 630,470 610,440 650,470 640,430" fill="#2a2418"/>
<polygon points="680,420 700,470 690,480 715,470 705,425" fill="#2a2418"/>
<rect x="700" y="440" width="42" height="60" fill="#ddd6c4"/>
<rect x="815" y="455" width="137" height="21" fill="#0d0d0d"/>
<polygon points="1022,425 1060,425 1065,440 1190,436 1192,512 1040,510 1022,490" fill="#a8956a"/>
<rect x="1120" y="440" width="72" height="60" fill="#e2dccd"/>
<polygon points="1065,455 1085,505 1055,505" fill="#2a2418"/>
<polygon points="1140,470 1160,512 1122,512" fill="#2a2418"/>
<rect x="1265" y="456" width="67" height="20" fill="#0d0d0d"/>
<line x1="1470" y1="384" x2="1470" y2="470" stroke="#0d0d0d" stroke-width="3"/>
<line x1="1470" y1="495" x2="1470" y2="548" stroke="#0d0d0d" stroke-width="3"/>
<line x1="1470" y1="470" x2="1450" y2="480" stroke="#0d0d0d" stroke-width="3"/>
<line x1="1450" y1="480" x2="1450" y2="495" stroke="#0d0d0d" stroke-width="3"/>
<line x1="1450" y1="495" x2="1470" y2="495" stroke="#0d0d0d" stroke-width="3"/>
<line x1="1565" y1="384" x2="1565" y2="490" stroke="#0d0d0d" stroke-width="3"/>
<line x1="1598" y1="384" x2="1598" y2="490" stroke="#0d0d0d" stroke-width="3"/>
<line x1="1625" y1="384" x2="1625" y2="490" stroke="#0d0d0d" stroke-width="3"/>
<line x1="1515" y1="490" x2="1650" y2="490" stroke="#0d0d0d" stroke-width="3"/>
<line x1="1515" y1="490" x2="1515" y2="548" stroke="#0d0d0d" stroke-width="3"/>
<line x1="1640" y1="384" x2="1662" y2="548" stroke="#0d0d0d" stroke-width="3"/>
<clipPath id="kc"><polygon points="78,548 1685,548 1692,620 1702,690 1722,702 1737,1000 1752,1080 1692,1162 140,1165 60,1095"/></clipPath><g clip-path="url(#kc)">
<polygon points="78,548 1685,548 1692,620 1702,690 1722,702 1737,1000 1752,1080 1692,1162 140,1165 60,1095" fill="#0d0d0d"/>
<circle cx="150" cy="690" r="6" fill="#fff"/>
<circle cx="150" cy="690" r="2" fill="#888"/>
<circle cx="128" cy="850" r="6" fill="#fff"/>
<circle cx="128" cy="850" r="2" fill="#888"/>
<circle cx="128" cy="908" r="6" fill="#fff"/>
<circle cx="128" cy="908" r="2" fill="#888"/>
<circle cx="128" cy="1000" r="6" fill="#fff"/>
<circle cx="128" cy="1000" r="2" fill="#888"/>
<rect x="200" y="562" width="150" height="138" fill="#fff"/>
<rect x="246.84" y="656.3" width="30.37" height="11.83" fill="#0d0d0d"/>
<rect x="250.84" y="660.3" width="22.37" height="3.83" fill="#fff"/>
<rect x="284.96" y="605.28" width="15.69" height="28.25" fill="#0d0d0d"/>
<rect x="269.67" y="575.69" width="11.68" height="40.15" fill="#0d0d0d"/>
<rect x="204.91" y="669.41" width="32.91" height="7.04" fill="#0d0d0d"/>
<rect x="261.9" y="649.74" width="8.97" height="40.81" fill="#0d0d0d"/>
<rect x="290.38" y="625.92" width="6.05" height="37.37" fill="#0d0d0d"/>
<rect x="269.41" y="597.2" width="15.89" height="41.58" fill="#0d0d0d"/>
<rect x="245.76" y="655.14" width="58.32" height="9.18" fill="#0d0d0d"/>
<rect x="284.42" y="649.41" width="45.75" height="13.67" fill="#0d0d0d"/>
<circle cx="240" cy="616" r="34" fill="#fff" stroke="#0d0d0d" stroke-width="7.5"/>
<circle cx="240" cy="616" r="26" fill="none" stroke="#0d0d0d" stroke-width="3"/>
<rect x="229" y="597" width="22" height="38" rx="5" fill="#fff" stroke="#0d0d0d" stroke-width="9"/>
<rect x="296" y="590" width="26" height="50" fill="#0d0d0d"/>
<rect x="302" y="596" width="14" height="16" fill="#fff"/>
<rect x="302" y="620" width="14" height="14" fill="#fff"/>
<rect x="200" y="712" width="62" height="130" fill="#fff"/>
<rect x="205.87" y="800.94" width="12.47" height="30.82" fill="#0d0d0d"/>
<rect x="227.61" y="782.81" width="7.97" height="34.63" fill="#0d0d0d"/>
<rect x="232.99" y="728.76" width="10.66" height="43.7" fill="#0d0d0d"/>
<rect x="211.93" y="796.65" width="13.56" height="26.71" fill="#0d0d0d"/>
<rect x="206" y="728" width="26" height="72" fill="#0d0d0d"/>
<rect x="210" y="732" width="18" height="17" fill="#fff"/>
<rect x="210" y="756" width="18" height="17" fill="#fff"/>
<rect x="210" y="780" width="18" height="17" fill="#fff"/>
<circle cx="246" cy="765" r="10" fill="#fff" stroke="#0d0d0d" stroke-width="5"/>
<line x1="236" y1="765" x2="256" y2="765" stroke="#0d0d0d" stroke-width="2.5"/>
<line x1="246" y1="755" x2="246" y2="775" stroke="#0d0d0d" stroke-width="2.5"/>
<rect x="272" y="704" width="80" height="138" fill="#fff"/>
<rect x="285.67" y="803.33" width="31.68" height="6.04" fill="#0d0d0d"/>
<rect x="298.24" y="781.77" width="49.66" height="10.51" fill="#0d0d0d"/>
<rect x="302.24" y="785.77" width="41.66" height="2.51" fill="#fff"/>
<rect x="286.89" y="775.51" width="10.77" height="35.14" fill="#0d0d0d"/>
<rect x="281.39" y="801.41" width="28.06" height="8.67" fill="#0d0d0d"/>
<rect x="296.34" y="757.45" width="42.17" height="6.78" fill="#0d0d0d"/>
<rect x="291.43" y="713.28" width="13.79" height="39.85" fill="#0d0d0d"/>
<rect x="284.2" y="741.74" width="14.93" height="46.21" fill="#0d0d0d"/>
<rect x="280.86" y="815.15" width="58.58" height="6.13" fill="#0d0d0d"/>
<rect x="294.79" y="774.4" width="8.52" height="36.93" fill="#0d0d0d"/>
<rect x="290.28" y="777.69" width="42.68" height="13.71" fill="#0d0d0d"/>
<rect x="336.59" y="759.3" width="6.06" height="29.92" fill="#0d0d0d"/>
<rect x="308.01" y="704.24" width="6.37" height="41.3" fill="#0d0d0d"/>
<rect x="287.14" y="801.11" width="37.37" height="14.71" fill="#0d0d0d"/>
<rect x="362" y="562" width="186" height="83" fill="#fff"/>
<rect x="389.82" y="578.19" width="45.44" height="8.9" fill="#0d0d0d"/>
<rect x="499.89" y="590.07" width="28.47" height="8.52" fill="#0d0d0d"/>
<rect x="375.58" y="588.53" width="9.01" height="49.54" fill="#0d0d0d"/>
<rect x="514.8" y="592.78" width="10.7" height="38.69" fill="#0d0d0d"/>
<rect x="400.57" y="591.61" width="15.51" height="29.01" fill="#0d0d0d"/>
<rect x="526.68" y="586.34" width="8.39" height="22.86" fill="#0d0d0d"/>
<rect x="410.79" y="619.98" width="45.89" height="10.21" fill="#0d0d0d"/>
<rect x="414.79" y="623.98" width="37.89" height="2.21" fill="#fff"/>
<rect x="431.26" y="569.9" width="58.05" height="6.25" fill="#0d0d0d"/>
<rect x="401" y="576" width="56" height="48" fill="#fff" stroke="#0d0d0d" stroke-width="5"/>
<polygon points="457,582 435,600 457,618" fill="#0d0d0d"/>
<rect x="483" y="576" width="56" height="48" fill="#fff" stroke="#0d0d0d" stroke-width="5"/>
<polygon points="483,582 505,600 483,618" fill="#0d0d0d"/>
<rect x="460" y="560" width="7" height="80" fill="#0d0d0d"/>
<rect x="473" y="560" width="7" height="80" fill="#0d0d0d"/>
<rect x="463" y="566" width="2" height="9" fill="#fff"/>
<rect x="475" y="566" width="2" height="9" fill="#fff"/>
<rect x="463" y="588" width="2" height="9" fill="#fff"/>
<rect x="475" y="588" width="2" height="9" fill="#fff"/>
<rect x="463" y="610" width="2" height="9" fill="#fff"/>
<rect x="475" y="610" width="2" height="9" fill="#fff"/>
<rect x="463" y="632" width="2" height="9" fill="#fff"/>
<rect x="475" y="632" width="2" height="9" fill="#fff"/>
<rect x="360" y="655" width="200" height="87" fill="#fff"/>
<rect x="397.15" y="692.83" width="12.45" height="31.1" fill="#0d0d0d"/>
<rect x="437.2" y="671.25" width="53.74" height="6.36" fill="#0d0d0d"/>
<rect x="521.12" y="672.08" width="14.56" height="34.73" fill="#0d0d0d"/>
<rect x="525.12" y="676.08" width="6.56" height="26.73" fill="#fff"/>
<rect x="365.58" y="673.37" width="48.04" height="13.08" fill="#0d0d0d"/>
<rect x="369.58" y="677.37" width="40.04" height="5.08" fill="#fff"/>
<rect x="366.69" y="725.31" width="54.19" height="8.71" fill="#0d0d0d"/>
<rect x="394.23" y="710.5" width="6.39" height="26.34" fill="#0d0d0d"/>
<rect x="394.21" y="726.88" width="27.27" height="13.91" fill="#0d0d0d"/>
<rect x="398.21" y="730.88" width="19.27" height="5.91" fill="#fff"/>
<rect x="526.23" y="714.51" width="7.92" height="27.35" fill="#0d0d0d"/>
<rect x="428.96" y="696.2" width="20.41" height="7.95" fill="#0d0d0d"/>
<rect x="421.19" y="681.04" width="24.64" height="11.56" fill="#0d0d0d"/>
<rect x="547.98" y="669.96" width="6.15" height="48.63" fill="#0d0d0d"/>
<rect x="483.92" y="708.72" width="56.58" height="7.69" fill="#0d0d0d"/>
<rect x="379.91" y="668.25" width="45.46" height="15.41" fill="#0d0d0d"/>
<rect x="422.35" y="707.55" width="20.29" height="6.16" fill="#0d0d0d"/>
<rect x="469.54" y="665.31" width="6.26" height="21.24" fill="#0d0d0d"/>
<rect x="436.74" y="655.45" width="45.38" height="15.6" fill="#0d0d0d"/>
<rect x="440.74" y="659.45" width="37.38" height="7.6" fill="#fff"/>
<rect x="446.99" y="657.27" width="13.93" height="24.59" fill="#0d0d0d"/>
<rect x="404.27" y="684.22" width="11" height="43.13" fill="#0d0d0d"/>
<rect x="479.83" y="667.76" width="6.73" height="32.52" fill="#0d0d0d"/>
<rect x="466.4" y="691.23" width="35.55" height="15.41" fill="#0d0d0d"/>
<rect x="525.06" y="687.16" width="11.09" height="30.01" fill="#0d0d0d"/>
<rect x="465.79" y="697.5" width="24.42" height="7.9" fill="#0d0d0d"/>
<rect x="401.68" y="727.55" width="34.15" height="11.55" fill="#0d0d0d"/>
<rect x="513.43" y="705.81" width="38.65" height="14.41" fill="#0d0d0d"/>
<rect x="448.52" y="657.9" width="9.67" height="31.37" fill="#0d0d0d"/>
<rect x="541.89" y="697.94" width="13.87" height="28.88" fill="#0d0d0d"/>
<rect x="450.51" y="669.37" width="57.23" height="12.83" fill="#0d0d0d"/>
<rect x="454.51" y="673.37" width="49.23" height="4.83" fill="#fff"/>
<rect x="460.58" y="707.97" width="56.57" height="10.43" fill="#0d0d0d"/>
<rect x="360" y="748" width="60" height="94" fill="#fff"/>
<rect x="361.41" y="811.93" width="53.37" height="12" fill="#0d0d0d"/>
<rect x="397.11" y="766.19" width="12.12" height="41.14" fill="#0d0d0d"/>
<rect x="412.37" y="768.39" width="7.17" height="35.82" fill="#0d0d0d"/>
<rect x="369.99" y="753.89" width="26.49" height="13.5" fill="#0d0d0d"/>
<rect x="388.92" y="781.18" width="25.52" height="6.17" fill="#0d0d0d"/>
<rect x="363.48" y="820.46" width="54.51" height="6.67" fill="#0d0d0d"/>
<rect x="386.34" y="767.38" width="32.14" height="9.24" fill="#0d0d0d"/>
<rect x="367.24" y="753.74" width="50.83" height="6.8" fill="#0d0d0d"/>
<rect x="425" y="750" width="80" height="82" fill="#fff" stroke="#0d0d0d" stroke-width="7"/>
<line x1="425" y1="750" x2="505" y2="832" stroke="#0d0d0d" stroke-width="3.2"/>
<line x1="505" y1="750" x2="425" y2="832" stroke="#0d0d0d" stroke-width="3.2"/>
<rect x="512" y="748" width="73" height="94" fill="#fff"/>
<rect x="518.82" y="787.61" width="21.59" height="11.84" fill="#0d0d0d"/>
<rect x="522.82" y="791.61" width="13.59" height="3.84" fill="#fff"/>
<rect x="516.74" y="751.06" width="7.58" height="48.95" fill="#0d0d0d"/>
<rect x="520.83" y="757.83" width="14.62" height="44.38" fill="#0d0d0d"/>
<rect x="524.83" y="761.83" width="6.62" height="36.38" fill="#fff"/>
<rect x="530.05" y="775.48" width="25.16" height="9.05" fill="#0d0d0d"/>
<rect x="559.92" y="750.08" width="7.34" height="34.7" fill="#0d0d0d"/>
<rect x="568.41" y="781.36" width="10.48" height="30.94" fill="#0d0d0d"/>
<rect x="572.38" y="799.27" width="7.83" height="32.87" fill="#0d0d0d"/>
<rect x="545.12" y="802.38" width="7.48" height="39.54" fill="#0d0d0d"/>
<rect x="520.58" y="808.67" width="51.95" height="9.63" fill="#0d0d0d"/>
<rect x="573.4" y="787.69" width="7.93" height="20.11" fill="#0d0d0d"/>
<rect x="547.48" y="772.01" width="15.43" height="41.26" fill="#0d0d0d"/>
<rect x="552" y="560" width="248" height="52" fill="#0d0d0d"/>
<circle cx="600" cy="582" r="6" fill="#fff"/>
<circle cx="600" cy="582" r="2" fill="#888"/>
<circle cx="715" cy="582" r="6" fill="#fff"/>
<circle cx="715" cy="582" r="2" fill="#888"/>
<circle cx="765" cy="582" r="6" fill="#fff"/>
<circle cx="765" cy="582" r="2" fill="#888"/>
<rect x="582" y="618" width="108" height="84" fill="#fff"/>
<rect x="619.51" y="666.98" width="15.03" height="27.08" fill="#0d0d0d"/>
<rect x="678.12" y="643.63" width="6.54" height="33.66" fill="#0d0d0d"/>
<rect x="633.55" y="654.48" width="38.12" height="9.16" fill="#0d0d0d"/>
<rect x="640.86" y="668" width="8.56" height="24.13" fill="#0d0d0d"/>
<rect x="603.71" y="627.91" width="12.58" height="19.66" fill="#0d0d0d"/>
<rect x="614.08" y="636.62" width="11.75" height="26.99" fill="#0d0d0d"/>
<circle cx="620" cy="660" r="11" fill="#fff" stroke="#0d0d0d" stroke-width="5"/>
<line x1="609" y1="660" x2="631" y2="660" stroke="#0d0d0d" stroke-width="2.5"/>
<line x1="620" y1="649" x2="620" y2="671" stroke="#0d0d0d" stroke-width="2.5"/>
<rect x="645" y="625" width="23" height="70" fill="#0d0d0d"/>
<rect x="649" y="629" width="15" height="16.33" fill="#fff"/>
<rect x="649" y="652.33" width="15" height="16.33" fill="#fff"/>
<rect x="649" y="675.67" width="15" height="16.33" fill="#fff"/>
<rect x="592" y="712" width="100" height="130" fill="#fff"/>
<rect x="647.32" y="727.09" width="9.47" height="35.23" fill="#0d0d0d"/>
<rect x="625.31" y="786.25" width="6.4" height="46.44" fill="#0d0d0d"/>
<rect x="671.35" y="755.48" width="12.53" height="34.78" fill="#0d0d0d"/>
<rect x="615.23" y="763.53" width="11.57" height="47.74" fill="#0d0d0d"/>
<rect x="624.98" y="809.8" width="57.2" height="7.13" fill="#0d0d0d"/>
<rect x="618.69" y="759.01" width="12.16" height="47" fill="#0d0d0d"/>
<rect x="598" y="722" width="18" height="110" fill="#0d0d0d"/>
<rect x="602" y="726" width="10" height="15" fill="#fff"/>
<rect x="602" y="748" width="10" height="15" fill="#fff"/>
<rect x="602" y="770" width="10" height="15" fill="#fff"/>
<rect x="602" y="792" width="10" height="15" fill="#fff"/>
<rect x="602" y="814" width="10" height="15" fill="#fff"/>
<circle cx="648" cy="752" r="33" fill="#fff" stroke="#0d0d0d" stroke-width="7.5"/>
<circle cx="648" cy="752" r="25" fill="none" stroke="#0d0d0d" stroke-width="3"/>
<rect x="637" y="733" width="22" height="38" rx="5" fill="#fff" stroke="#0d0d0d" stroke-width="9"/>
<rect x="992" y="560" width="240" height="52" fill="#0d0d0d"/>
<circle cx="1040" cy="582" r="6" fill="#fff"/>
<circle cx="1040" cy="582" r="2" fill="#888"/>
<circle cx="1100" cy="582" r="6" fill="#fff"/>
<circle cx="1100" cy="582" r="2" fill="#888"/>
<circle cx="1190" cy="582" r="6" fill="#fff"/>
<circle cx="1190" cy="582" r="2" fill="#888"/>
<rect x="1010" y="618" width="90" height="84" fill="#fff"/>
<rect x="1014.8" y="666.48" width="59.76" height="13.82" fill="#0d0d0d"/>
<rect x="1018.8" y="670.48" width="51.76" height="5.82" fill="#fff"/>
<rect x="1020.96" y="631.63" width="32.32" height="11.3" fill="#0d0d0d"/>
<rect x="1024.96" y="635.63" width="24.32" height="3.3" fill="#fff"/>
<rect x="1042.25" y="662.37" width="12.56" height="32.29" fill="#0d0d0d"/>
<rect x="1059.52" y="663.65" width="11.32" height="18.97" fill="#0d0d0d"/>
<circle cx="1050" cy="660" r="11" fill="#fff" stroke="#0d0d0d" stroke-width="5"/>
<line x1="1039" y1="660" x2="1061" y2="660" stroke="#0d0d0d" stroke-width="2.5"/>
<line x1="1050" y1="649" x2="1050" y2="671" stroke="#0d0d0d" stroke-width="2.5"/>
<rect x="1072" y="625" width="22" height="70" fill="#0d0d0d"/>
<rect x="1076" y="629" width="14" height="16.33" fill="#fff"/>
<rect x="1076" y="652.33" width="14" height="16.33" fill="#fff"/>
<rect x="1076" y="675.67" width="14" height="16.33" fill="#fff"/>
<rect x="1112" y="618" width="93" height="84" fill="#fff"/>
<rect x="1137.86" y="647.01" width="6.54" height="22.92" fill="#0d0d0d"/>
<rect x="1149.71" y="636.49" width="38.01" height="7.64" fill="#0d0d0d"/>
<rect x="1117.2" y="661.97" width="58.33" height="11.13" fill="#0d0d0d"/>
<rect x="1147.17" y="680.62" width="39.44" height="8.83" fill="#0d0d0d"/>
<circle cx="1150" cy="660" r="11" fill="#fff" stroke="#0d0d0d" stroke-width="5"/>
<line x1="1139" y1="660" x2="1161" y2="660" stroke="#0d0d0d" stroke-width="2.5"/>
<line x1="1150" y1="649" x2="1150" y2="671" stroke="#0d0d0d" stroke-width="2.5"/>
<rect x="1000" y="712" width="90" height="130" fill="#fff"/>
<rect x="1006.14" y="810.53" width="14.44" height="23.9" fill="#0d0d0d"/>
<rect x="1065.81" y="726.46" width="15.66" height="47.05" fill="#0d0d0d"/>
<rect x="1069.81" y="730.46" width="7.66" height="39.05" fill="#fff"/>
<rect x="1013.89" y="760.82" width="58.86" height="7.46" fill="#0d0d0d"/>
<rect x="1023.57" y="746.78" width="56.54" height="12.12" fill="#0d0d0d"/>
<rect x="1027.57" y="750.78" width="48.54" height="4.12" fill="#fff"/>
<rect x="1060.77" y="735.6" width="13.55" height="39.98" fill="#0d0d0d"/>
<rect x="1100" y="712" width="100" height="130" fill="#fff"/>
<rect x="1117.04" y="798.81" width="34.69" height="14.15" fill="#0d0d0d"/>
<rect x="1121.04" y="802.81" width="26.69" height="6.15" fill="#fff"/>
<rect x="1111.13" y="784.97" width="59.69" height="11.14" fill="#0d0d0d"/>
<rect x="1137.01" y="735.26" width="6.64" height="37.53" fill="#0d0d0d"/>
<rect x="1153.63" y="742.76" width="6.45" height="48.24" fill="#0d0d0d"/>
<rect x="1160.78" y="728.64" width="8.67" height="24.13" fill="#0d0d0d"/>
<rect x="1147.12" y="784.88" width="8.64" height="18.54" fill="#0d0d0d"/>
<rect x="1132.67" y="736.2" width="7.29" height="18.33" fill="#0d0d0d"/>
<rect x="1137.67" y="739.45" width="6.18" height="36.36" fill="#0d0d0d"/>
<rect x="1143.53" y="804.54" width="11.05" height="18.75" fill="#0d0d0d"/>
<circle cx="1032" cy="768" r="33" fill="#fff" stroke="#0d0d0d" stroke-width="7.5"/>
<circle cx="1032" cy="768" r="25" fill="none" stroke="#0d0d0d" stroke-width="3"/>
<rect x="1021" y="749" width="22" height="38" rx="5" fill="#fff" stroke="#0d0d0d" stroke-width="9"/>
<circle cx="1140" cy="752" r="33" fill="#fff" stroke="#0d0d0d" stroke-width="7.5"/>
<circle cx="1140" cy="752" r="25" fill="none" stroke="#0d0d0d" stroke-width="3"/>
<rect x="1129" y="733" width="22" height="38" rx="5" fill="#fff" stroke="#0d0d0d" stroke-width="9"/>
<rect x="1078" y="722" width="18" height="110" fill="#0d0d0d"/>
<rect x="1082" y="726" width="10" height="15" fill="#fff"/>
<rect x="1082" y="748" width="10" height="15" fill="#fff"/>
<rect x="1082" y="770" width="10" height="15" fill="#fff"/>
<rect x="1082" y="792" width="10" height="15" fill="#fff"/>
<rect x="1082" y="814" width="10" height="15" fill="#fff"/>
<rect x="1242" y="562" width="176" height="83" fill="#fff"/>
<rect x="1343.04" y="575.52" width="10.52" height="38.47" fill="#0d0d0d"/>
<rect x="1277.07" y="600.46" width="7.3" height="23.99" fill="#0d0d0d"/>
<rect x="1394.39" y="606" width="7.14" height="28.77" fill="#0d0d0d"/>
<rect x="1290.78" y="603.94" width="36.27" height="8.25" fill="#0d0d0d"/>
<rect x="1337.91" y="585.29" width="56.5" height="8.89" fill="#0d0d0d"/>
<rect x="1300.01" y="569.66" width="11.88" height="19.83" fill="#0d0d0d"/>
<rect x="1245.51" y="612.34" width="55.17" height="14" fill="#0d0d0d"/>
<rect x="1317.16" y="630.35" width="42.91" height="8.22" fill="#0d0d0d"/>
<rect x="1261" y="576" width="56" height="48" fill="#fff" stroke="#0d0d0d" stroke-width="5"/>
<polygon points="1317,582 1295,600 1317,618" fill="#0d0d0d"/>
<rect x="1343" y="576" width="56" height="48" fill="#fff" stroke="#0d0d0d" stroke-width="5"/>
<polygon points="1343,582 1365,600 1343,618" fill="#0d0d0d"/>
<rect x="1320" y="560" width="7" height="80" fill="#0d0d0d"/>
<rect x="1333" y="560" width="7" height="80" fill="#0d0d0d"/>
<rect x="1323" y="566" width="2" height="9" fill="#fff"/>
<rect x="1335" y="566" width="2" height="9" fill="#fff"/>
<rect x="1323" y="588" width="2" height="9" fill="#fff"/>
<rect x="1335" y="588" width="2" height="9" fill="#fff"/>
<rect x="1323" y="610" width="2" height="9" fill="#fff"/>
<rect x="1335" y="610" width="2" height="9" fill="#fff"/>
<rect x="1323" y="632" width="2" height="9" fill="#fff"/>
<rect x="1335" y="632" width="2" height="9" fill="#fff"/>
<rect x="1232" y="655" width="193" height="87" fill="#fff"/>
<rect x="1303.84" y="717.68" width="48.43" height="11.36" fill="#0d0d0d"/>
<rect x="1307.84" y="721.68" width="40.43" height="3.36" fill="#fff"/>
<rect x="1366.18" y="670.04" width="11.18" height="21.16" fill="#0d0d0d"/>
<rect x="1291.55" y="691.41" width="8.03" height="48.81" fill="#0d0d0d"/>
<rect x="1281.82" y="663.14" width="44.31" height="8.77" fill="#0d0d0d"/>
<rect x="1329.97" y="688.2" width="9.05" height="39.51" fill="#0d0d0d"/>
<rect x="1362.65" y="708.62" width="9.65" height="33.29" fill="#0d0d0d"/>
<rect x="1267.1" y="703.73" width="21.99" height="15.48" fill="#0d0d0d"/>
<rect x="1271.1" y="707.73" width="13.99" height="7.48" fill="#fff"/>
<rect x="1296.54" y="671.36" width="13.24" height="48.49" fill="#0d0d0d"/>
<rect x="1276.48" y="699.04" width="7.08" height="28.87" fill="#0d0d0d"/>
<rect x="1361.15" y="708.03" width="38.99" height="13.73" fill="#0d0d0d"/>
<rect x="1266.54" y="678" width="57.99" height="10.66" fill="#0d0d0d"/>
<rect x="1372.71" y="666.8" width="29.45" height="9.76" fill="#0d0d0d"/>
<rect x="1371.79" y="713.72" width="25.19" height="15.84" fill="#0d0d0d"/>
<rect x="1375.79" y="717.72" width="17.19" height="7.84" fill="#fff"/>
<rect x="1279.53" y="687" width="13.3" height="24.34" fill="#0d0d0d"/>
<rect x="1349.63" y="718.91" width="40.1" height="13.86" fill="#0d0d0d"/>
<rect x="1313.61" y="684.03" width="44.17" height="8.43" fill="#0d0d0d"/>
<rect x="1311.14" y="701.41" width="38.05" height="8.95" fill="#0d0d0d"/>
<rect x="1383.72" y="658.04" width="11.11" height="25.47" fill="#0d0d0d"/>
<rect x="1353.75" y="705.62" width="57.48" height="6.72" fill="#0d0d0d"/>
<rect x="1278.4" y="722.58" width="31.79" height="11.97" fill="#0d0d0d"/>
<rect x="1318.24" y="659.75" width="13.43" height="24.62" fill="#0d0d0d"/>
<rect x="1284.45" y="709.31" width="59.16" height="10.65" fill="#0d0d0d"/>
<rect x="1288.45" y="713.31" width="51.16" height="2.65" fill="#fff"/>
<rect x="1281.64" y="673.91" width="21.18" height="7.43" fill="#0d0d0d"/>
<rect x="1351.62" y="698.59" width="55.39" height="11.23" fill="#0d0d0d"/>
<rect x="1395.95" y="657.25" width="6.62" height="48.26" fill="#0d0d0d"/>
<rect x="1215" y="748" width="65" height="94" fill="#fff"/>
<rect x="1243.79" y="820.24" width="30.81" height="13.36" fill="#0d0d0d"/>
<rect x="1238.47" y="763.97" width="28.91" height="11.27" fill="#0d0d0d"/>
<rect x="1220.64" y="782.63" width="46.52" height="12.44" fill="#0d0d0d"/>
<rect x="1234.34" y="762.56" width="9.03" height="48.03" fill="#0d0d0d"/>
<rect x="1241.44" y="758.35" width="12.96" height="39.31" fill="#0d0d0d"/>
<rect x="1219.79" y="750.86" width="14.17" height="49.69" fill="#0d0d0d"/>
<rect x="1223.79" y="754.86" width="6.17" height="41.69" fill="#fff"/>
<rect x="1227.51" y="779.38" width="49.61" height="12.75" fill="#0d0d0d"/>
<rect x="1231.51" y="783.38" width="41.61" height="4.75" fill="#fff"/>
<rect x="1285" y="750" width="80" height="82" fill="#fff" stroke="#0d0d0d" stroke-width="7"/>
<line x1="1285" y1="750" x2="1365" y2="832" stroke="#0d0d0d" stroke-width="3.2"/>
<line x1="1365" y1="750" x2="1285" y2="832" stroke="#0d0d0d" stroke-width="3.2"/>
<rect x="1372" y="748" width="68" height="94" fill="#fff"/>
<rect x="1384.27" y="755.79" width="12.69" height="45.31" fill="#0d0d0d"/>
<rect x="1373.24" y="777.19" width="47.19" height="14.49" fill="#0d0d0d"/>
<rect x="1377.24" y="781.19" width="39.19" height="6.49" fill="#fff"/>
<rect x="1376.28" y="764.41" width="57.13" height="8.02" fill="#0d0d0d"/>
<rect x="1405.23" y="775.48" width="19.79" height="13.89" fill="#0d0d0d"/>
<rect x="1379.55" y="764.08" width="8.55" height="38.94" fill="#0d0d0d"/>
<rect x="1380.6" y="814.11" width="44.44" height="9.68" fill="#0d0d0d"/>
<rect x="1384.45" y="759.67" width="13.46" height="46.87" fill="#0d0d0d"/>
<rect x="1398.34" y="790.32" width="39.16" height="9.13" fill="#0d0d0d"/>
<rect x="200" y="1022" width="150" height="138" fill="#fff"/>
<rect x="240.78" y="1111.74" width="8.44" height="34.92" fill="#0d0d0d"/>
<rect x="211.39" y="1112.93" width="55.37" height="9.81" fill="#0d0d0d"/>
<rect x="280.14" y="1036.91" width="10.12" height="34.37" fill="#0d0d0d"/>
<rect x="317.83" y="1091.69" width="14.18" height="48.78" fill="#0d0d0d"/>
<rect x="315.07" y="1082.8" width="31.88" height="12.33" fill="#0d0d0d"/>
<rect x="228.79" y="1051.55" width="39.58" height="6.53" fill="#0d0d0d"/>
<rect x="298.42" y="1080.85" width="29.79" height="14.05" fill="#0d0d0d"/>
<rect x="302.42" y="1084.85" width="21.79" height="6.05" fill="#fff"/>
<rect x="274.03" y="1089.41" width="19.77" height="15.74" fill="#0d0d0d"/>
<rect x="219.65" y="1058" width="6.54" height="22.19" fill="#0d0d0d"/>
<rect x="239.36" y="1049.88" width="7.9" height="46.06" fill="#0d0d0d"/>
<rect x="290.07" y="1034.97" width="19.16" height="14.59" fill="#0d0d0d"/>
<circle cx="240" cy="1106" r="34" fill="#fff" stroke="#0d0d0d" stroke-width="7.5"/>
<circle cx="240" cy="1106" r="26" fill="none" stroke="#0d0d0d" stroke-width="3"/>
<rect x="229" y="1087" width="22" height="38" rx="5" fill="#fff" stroke="#0d0d0d" stroke-width="9"/>
<rect x="296" y="1082" width="26" height="50" fill="#0d0d0d"/>
<rect x="302" y="1110" width="14" height="16" fill="#fff"/>
<rect x="302" y="1088" width="14" height="14" fill="#fff"/>
<rect x="200" y="880" width="62" height="130" fill="#fff"/>
<rect x="208.52" y="891.94" width="6.76" height="30.01" fill="#0d0d0d"/>
<rect x="235.99" y="885.65" width="7.7" height="18.03" fill="#0d0d0d"/>
<rect x="243.46" y="959.57" width="6.73" height="43.38" fill="#0d0d0d"/>
<rect x="212.76" y="973.17" width="15.97" height="29.75" fill="#0d0d0d"/>
<rect x="203.82" y="987.94" width="55.18" height="14.43" fill="#0d0d0d"/>
<rect x="207.82" y="991.94" width="47.18" height="6.43" fill="#fff"/>
<rect x="206" y="922" width="26" height="72" fill="#0d0d0d"/>
<rect x="210" y="926" width="18" height="17" fill="#fff"/>
<rect x="210" y="950" width="18" height="17" fill="#fff"/>
<rect x="210" y="974" width="18" height="17" fill="#fff"/>
<circle cx="246" cy="957" r="10" fill="#fff" stroke="#0d0d0d" stroke-width="5"/>
<line x1="236" y1="957" x2="256" y2="957" stroke="#0d0d0d" stroke-width="2.5"/>
<line x1="246" y1="947" x2="246" y2="967" stroke="#0d0d0d" stroke-width="2.5"/>
<rect x="272" y="880" width="80" height="138" fill="#fff"/>
<rect x="288.65" y="944.64" width="47.89" height="8.96" fill="#0d0d0d"/>
<rect x="298.09" y="964.53" width="50.1" height="12.28" fill="#0d0d0d"/>
<rect x="278.39" y="893.15" width="8.54" height="45.47" fill="#0d0d0d"/>
<rect x="307.27" y="937.85" width="34.58" height="9.79" fill="#0d0d0d"/>
<rect x="284.94" y="896.83" width="51.95" height="14.46" fill="#0d0d0d"/>
<rect x="284.38" y="918.49" width="14.64" height="33.12" fill="#0d0d0d"/>
<rect x="288.06" y="975.89" width="13.16" height="18.57" fill="#0d0d0d"/>
<rect x="313.93" y="927.08" width="23.55" height="12.04" fill="#0d0d0d"/>
<rect x="291.6" y="905.21" width="51.05" height="8.24" fill="#0d0d0d"/>
<rect x="298.04" y="901.6" width="9.87" height="26.96" fill="#0d0d0d"/>
<rect x="273.33" y="903.74" width="12.56" height="34.34" fill="#0d0d0d"/>
<rect x="282.23" y="939.82" width="35.5" height="8.88" fill="#0d0d0d"/>
<rect x="362" y="1077" width="186" height="83" fill="#fff"/>
<rect x="468.94" y="1117.55" width="28.13" height="15.29" fill="#0d0d0d"/>
<rect x="418.86" y="1103.12" width="24.47" height="8.19" fill="#0d0d0d"/>
<rect x="402.1" y="1118.79" width="7.36" height="23.28" fill="#0d0d0d"/>
<rect x="495.14" y="1137.25" width="32.82" height="11.62" fill="#0d0d0d"/>
<rect x="499.14" y="1141.25" width="24.82" height="3.62" fill="#fff"/>
<rect x="396.2" y="1125.23" width="36.86" height="14.94" fill="#0d0d0d"/>
<rect x="378.98" y="1091.91" width="8.09" height="35.07" fill="#0d0d0d"/>
<rect x="488.81" y="1083.74" width="10.17" height="47.17" fill="#0d0d0d"/>
<rect x="442.7" y="1122.88" width="39.2" height="11.13" fill="#0d0d0d"/>
<rect x="446.7" y="1126.88" width="31.2" height="3.13" fill="#fff"/>
<rect x="374.94" y="1081.54" width="13.05" height="45.55" fill="#0d0d0d"/>
<rect x="401" y="1098" width="56" height="48" fill="#fff" stroke="#0d0d0d" stroke-width="5"/>
<polygon points="457,1104 435,1122 457,1140" fill="#0d0d0d"/>
<rect x="483" y="1098" width="56" height="48" fill="#fff" stroke="#0d0d0d" stroke-width="5"/>
<polygon points="483,1104 505,1122 483,1140" fill="#0d0d0d"/>
<rect x="460" y="1082" width="7" height="80" fill="#0d0d0d"/>
<rect x="473" y="1082" width="7" height="80" fill="#0d0d0d"/>
<rect x="463" y="1088" width="2" height="9" fill="#fff"/>
<rect x="475" y="1088" width="2" height="9" fill="#fff"/>
<rect x="463" y="1110" width="2" height="9" fill="#fff"/>
<rect x="475" y="1110" width="2" height="9" fill="#fff"/>
<rect x="463" y="1132" width="2" height="9" fill="#fff"/>
<rect x="475" y="1132" width="2" height="9" fill="#fff"/>
<rect x="463" y="1154" width="2" height="9" fill="#fff"/>
<rect x="475" y="1154" width="2" height="9" fill="#fff"/>
<rect x="360" y="980" width="200" height="87" fill="#fff"/>
<rect x="462.07" y="991.53" width="13.27" height="28.53" fill="#0d0d0d"/>
<rect x="526.62" y="1034.6" width="23.22" height="10.41" fill="#0d0d0d"/>
<rect x="456.83" y="1031.72" width="58.47" height="12.05" fill="#0d0d0d"/>
<rect x="386.97" y="1018.15" width="11.35" height="25" fill="#0d0d0d"/>
<rect x="499.38" y="990.59" width="8.87" height="48.68" fill="#0d0d0d"/>
<rect x="372.63" y="1002.39" width="15.56" height="46.53" fill="#0d0d0d"/>
<rect x="383.98" y="1018.97" width="41.67" height="10.86" fill="#0d0d0d"/>
<rect x="406.92" y="991.91" width="26.56" height="11.29" fill="#0d0d0d"/>
<rect x="483.36" y="997.57" width="6.17" height="33.08" fill="#0d0d0d"/>
<rect x="450.06" y="1013.18" width="9.74" height="39.76" fill="#0d0d0d"/>
<rect x="486.99" y="986.61" width="6.63" height="43.37" fill="#0d0d0d"/>
<rect x="362.32" y="1037.47" width="37.6" height="13.11" fill="#0d0d0d"/>
<rect x="366.32" y="1041.47" width="29.6" height="5.11" fill="#fff"/>
<rect x="451.37" y="981.36" width="6.18" height="27.32" fill="#0d0d0d"/>
<rect x="409.58" y="1033.51" width="38.75" height="14.94" fill="#0d0d0d"/>
<rect x="413.58" y="1037.51" width="30.75" height="6.94" fill="#fff"/>
<rect x="491.01" y="986.2" width="40.52" height="14.48" fill="#0d0d0d"/>
<rect x="461.92" y="988.28" width="8.03" height="36.26" fill="#0d0d0d"/>
<rect x="391.85" y="1003.67" width="26.69" height="11.26" fill="#0d0d0d"/>
<rect x="395.85" y="1007.67" width="18.69" height="3.26" fill="#fff"/>
<rect x="484.19" y="986.55" width="6.39" height="46.99" fill="#0d0d0d"/>
<rect x="474.86" y="1036.61" width="32.41" height="9.89" fill="#0d0d0d"/>
<rect x="390.46" y="998.91" width="48.47" height="10.8" fill="#0d0d0d"/>
<rect x="487.71" y="982.97" width="14.4" height="26.98" fill="#0d0d0d"/>
<rect x="519.19" y="1025.88" width="19.83" height="6.45" fill="#0d0d0d"/>
<rect x="443.18" y="985.79" width="14.12" height="33.7" fill="#0d0d0d"/>
<rect x="447.18" y="989.79" width="6.12" height="25.7" fill="#fff"/>
<rect x="413.43" y="999.56" width="7.45" height="25.64" fill="#0d0d0d"/>
<rect x="493.51" y="1020.74" width="13.33" height="35.08" fill="#0d0d0d"/>
<rect x="426.89" y="996.12" width="19.14" height="9.91" fill="#0d0d0d"/>
<rect x="404.24" y="1000.66" width="6.33" height="35.2" fill="#0d0d0d"/>
<rect x="395.17" y="991.34" width="13.93" height="39.6" fill="#0d0d0d"/>
<rect x="360" y="880" width="60" height="94" fill="#fff"/>
<rect x="375.97" y="940.15" width="21.56" height="12.95" fill="#0d0d0d"/>
<rect x="372.53" y="921.49" width="41.91" height="15.96" fill="#0d0d0d"/>
<rect x="384.61" y="955.84" width="19.08" height="13.72" fill="#0d0d0d"/>
<rect x="388.61" y="959.84" width="11.08" height="5.72" fill="#fff"/>
<rect x="383.5" y="940.69" width="23.3" height="15.33" fill="#0d0d0d"/>
<rect x="396.15" y="928.18" width="6.67" height="18.16" fill="#0d0d0d"/>
<rect x="360.06" y="896.39" width="55.82" height="13.23" fill="#0d0d0d"/>
<rect x="360.7" y="955.79" width="49.12" height="13.22" fill="#0d0d0d"/>
<rect x="425" y="890" width="80" height="82" fill="#fff" stroke="#0d0d0d" stroke-width="7"/>
<line x1="425" y1="890" x2="505" y2="972" stroke="#0d0d0d" stroke-width="3.2"/>
<line x1="505" y1="890" x2="425" y2="972" stroke="#0d0d0d" stroke-width="3.2"/>
<rect x="512" y="880" width="73" height="94" fill="#fff"/>
<rect x="535.36" y="906.71" width="12.75" height="27.61" fill="#0d0d0d"/>
<rect x="542.59" y="913.34" width="10.11" height="31.32" fill="#0d0d0d"/>
<rect x="529.89" y="897.38" width="15.95" height="20.38" fill="#0d0d0d"/>
<rect x="574.04" y="896.87" width="10.68" height="41.85" fill="#0d0d0d"/>
<rect x="531.83" y="886.56" width="15.78" height="27.19" fill="#0d0d0d"/>
<rect x="513.79" y="920.37" width="13.34" height="48.28" fill="#0d0d0d"/>
<rect x="542.87" y="959.78" width="22.69" height="13.63" fill="#0d0d0d"/>
<rect x="522.26" y="923.62" width="57.77" height="12.85" fill="#0d0d0d"/>
<rect x="526.26" y="927.62" width="49.77" height="4.85" fill="#fff"/>
<rect x="535.41" y="930.42" width="9.68" height="25.2" fill="#0d0d0d"/>
<rect x="552" y="1110" width="248" height="52" fill="#0d0d0d"/>
<circle cx="600" cy="1140" r="6" fill="#fff"/>
<circle cx="600" cy="1140" r="2" fill="#888"/>
<circle cx="715" cy="1140" r="6" fill="#fff"/>
<circle cx="715" cy="1140" r="2" fill="#888"/>
<circle cx="765" cy="1140" r="6" fill="#fff"/>
<circle cx="765" cy="1140" r="2" fill="#888"/>
<rect x="582" y="1020" width="108" height="84" fill="#fff"/>
<rect x="668.35" y="1046.31" width="8.95" height="27.36" fill="#0d0d0d"/>
<rect x="600.87" y="1029.09" width="13.69" height="46.49" fill="#0d0d0d"/>
<rect x="607.42" y="1040.58" width="47.54" height="13.7" fill="#0d0d0d"/>
<rect x="591.6" y="1065.46" width="37.24" height="10.93" fill="#0d0d0d"/>
<circle cx="620" cy="1062" r="11" fill="#fff" stroke="#0d0d0d" stroke-width="5"/>
<line x1="609" y1="1062" x2="631" y2="1062" stroke="#0d0d0d" stroke-width="2.5"/>
<line x1="620" y1="1051" x2="620" y2="1073" stroke="#0d0d0d" stroke-width="2.5"/>
<rect x="645" y="1027" width="23" height="70" fill="#0d0d0d"/>
<rect x="649" y="1031" width="15" height="16.33" fill="#fff"/>
<rect x="649" y="1054.33" width="15" height="16.33" fill="#fff"/>
<rect x="649" y="1077.67" width="15" height="16.33" fill="#fff"/>
<rect x="592" y="880" width="100" height="130" fill="#fff"/>
<rect x="652.13" y="947.95" width="8.27" height="39.9" fill="#0d0d0d"/>
<rect x="613.18" y="961.48" width="22.85" height="12.29" fill="#0d0d0d"/>
<rect x="654.72" y="956.21" width="14.93" height="43.8" fill="#0d0d0d"/>
<rect x="658.72" y="960.21" width="6.93" height="35.8" fill="#fff"/>
<rect x="623.11" y="967.01" width="44.95" height="9.29" fill="#0d0d0d"/>
<rect x="601" y="961.62" width="59" height="13.84" fill="#0d0d0d"/>
<rect x="605" y="965.62" width="51" height="5.84" fill="#fff"/>
<rect x="645.35" y="904.25" width="15.24" height="48.89" fill="#0d0d0d"/>
<rect x="649.35" y="908.25" width="7.24" height="40.89" fill="#fff"/>
<rect x="598" y="890" width="18" height="110" fill="#0d0d0d"/>
<rect x="602" y="894" width="10" height="15" fill="#fff"/>
<rect x="602" y="916" width="10" height="15" fill="#fff"/>
<rect x="602" y="938" width="10" height="15" fill="#fff"/>
<rect x="602" y="960" width="10" height="15" fill="#fff"/>
<rect x="602" y="982" width="10" height="15" fill="#fff"/>
<circle cx="648" cy="970" r="33" fill="#fff" stroke="#0d0d0d" stroke-width="7.5"/>
<circle cx="648" cy="970" r="25" fill="none" stroke="#0d0d0d" stroke-width="3"/>
<rect x="637" y="951" width="22" height="38" rx="5" fill="#fff" stroke="#0d0d0d" stroke-width="9"/>
<rect x="992" y="1110" width="240" height="52" fill="#0d0d0d"/>
<circle cx="1040" cy="1140" r="6" fill="#fff"/>
<circle cx="1040" cy="1140" r="2" fill="#888"/>
<circle cx="1100" cy="1140" r="6" fill="#fff"/>
<circle cx="1100" cy="1140" r="2" fill="#888"/>
<circle cx="1190" cy="1140" r="6" fill="#fff"/>
<circle cx="1190" cy="1140" r="2" fill="#888"/>
<rect x="1010" y="1020" width="90" height="84" fill="#fff"/>
<rect x="1040.81" y="1044.54" width="46.03" height="7.02" fill="#0d0d0d"/>
<rect x="1057.77" y="1072.08" width="31.92" height="14.54" fill="#0d0d0d"/>
<rect x="1061.77" y="1076.08" width="23.92" height="6.54" fill="#fff"/>
<rect x="1036.29" y="1035.27" width="27.66" height="8.2" fill="#0d0d0d"/>
<rect x="1035.02" y="1063.47" width="15.69" height="32.62" fill="#0d0d0d"/>
<circle cx="1050" cy="1062" r="11" fill="#fff" stroke="#0d0d0d" stroke-width="5"/>
<line x1="1039" y1="1062" x2="1061" y2="1062" stroke="#0d0d0d" stroke-width="2.5"/>
<line x1="1050" y1="1051" x2="1050" y2="1073" stroke="#0d0d0d" stroke-width="2.5"/>
<rect x="1072" y="1027" width="22" height="70" fill="#0d0d0d"/>
<rect x="1076" y="1031" width="14" height="16.33" fill="#fff"/>
<rect x="1076" y="1054.33" width="14" height="16.33" fill="#fff"/>
<rect x="1076" y="1077.67" width="14" height="16.33" fill="#fff"/>
<rect x="1112" y="1020" width="93" height="84" fill="#fff"/>
<rect x="1115.18" y="1038.61" width="11.1" height="36.21" fill="#0d0d0d"/>
<rect x="1142.22" y="1080.19" width="41.42" height="16" fill="#0d0d0d"/>
<rect x="1124.33" y="1043.69" width="37.97" height="15.73" fill="#0d0d0d"/>
<circle cx="1150" cy="1062" r="11" fill="#fff" stroke="#0d0d0d" stroke-width="5"/>
<line x1="1139" y1="1062" x2="1161" y2="1062" stroke="#0d0d0d" stroke-width="2.5"/>
<line x1="1150" y1="1051" x2="1150" y2="1073" stroke="#0d0d0d" stroke-width="2.5"/>
<rect x="1000" y="880" width="90" height="130" fill="#fff"/>
<rect x="1003.61" y="958.87" width="15.22" height="31.91" fill="#0d0d0d"/>
<rect x="1007.61" y="962.87" width="7.22" height="23.91" fill="#fff"/>
<rect x="1048.12" y="939.08" width="19.45" height="13.21" fill="#0d0d0d"/>
<rect x="1052.12" y="943.08" width="11.45" height="5.21" fill="#fff"/>
<rect x="1017.28" y="926.81" width="9.15" height="39.37" fill="#0d0d0d"/>
<rect x="1071.02" y="888.65" width="8.68" height="19.86" fill="#0d0d0d"/>
<rect x="1011.04" y="959.43" width="59.65" height="8.45" fill="#0d0d0d"/>
<rect x="1045.82" y="952.83" width="15.88" height="42.06" fill="#0d0d0d"/>
<rect x="1100" y="880" width="100" height="130" fill="#fff"/>
<rect x="1152.35" y="945.64" width="10.38" height="35.62" fill="#0d0d0d"/>
<rect x="1129.92" y="928.47" width="58.35" height="9.43" fill="#0d0d0d"/>
<rect x="1144.24" y="891.34" width="14.88" height="36.18" fill="#0d0d0d"/>
<rect x="1148.24" y="895.34" width="6.88" height="28.18" fill="#fff"/>
<rect x="1156.98" y="923.99" width="11.44" height="41.73" fill="#0d0d0d"/>
<rect x="1145.42" y="896.31" width="8.49" height="26.35" fill="#0d0d0d"/>
<rect x="1142.54" y="916.89" width="10.38" height="30.85" fill="#0d0d0d"/>
<rect x="1134.32" y="920.6" width="11.46" height="30.61" fill="#0d0d0d"/>
<circle cx="1032" cy="954" r="33" fill="#fff" stroke="#0d0d0d" stroke-width="7.5"/>
<circle cx="1032" cy="954" r="25" fill="none" stroke="#0d0d0d" stroke-width="3"/>
<rect x="1021" y="935" width="22" height="38" rx="5" fill="#fff" stroke="#0d0d0d" stroke-width="9"/>
<circle cx="1140" cy="970" r="33" fill="#fff" stroke="#0d0d0d" stroke-width="7.5"/>
<circle cx="1140" cy="970" r="25" fill="none" stroke="#0d0d0d" stroke-width="3"/>
<rect x="1129" y="951" width="22" height="38" rx="5" fill="#fff" stroke="#0d0d0d" stroke-width="9"/>
<rect x="1078" y="890" width="18" height="110" fill="#0d0d0d"/>
<rect x="1082" y="894" width="10" height="15" fill="#fff"/>
<rect x="1082" y="916" width="10" height="15" fill="#fff"/>
<rect x="1082" y="938" width="10" height="15" fill="#fff"/>
<rect x="1082" y="960" width="10" height="15" fill="#fff"/>
<rect x="1082" y="982" width="10" height="15" fill="#fff"/>
<rect x="1242" y="1077" width="176" height="83" fill="#fff"/>
<rect x="1328.96" y="1111.36" width="50.44" height="15.02" fill="#0d0d0d"/>
<rect x="1296.49" y="1130.91" width="26.35" height="11.58" fill="#0d0d0d"/>
<rect x="1274.55" y="1111.79" width="15.1" height="23.03" fill="#0d0d0d"/>
<rect x="1256.92" y="1094.58" width="35.84" height="13.98" fill="#0d0d0d"/>
<rect x="1260.92" y="1098.58" width="27.84" height="5.98" fill="#fff"/>
<rect x="1248.14" y="1080.66" width="41.27" height="6.64" fill="#0d0d0d"/>
<rect x="1392.44" y="1136.59" width="9.4" height="18.07" fill="#0d0d0d"/>
<rect x="1292.5" y="1110.98" width="15.65" height="33.55" fill="#0d0d0d"/>
<rect x="1261" y="1098" width="56" height="48" fill="#fff" stroke="#0d0d0d" stroke-width="5"/>
<polygon points="1317,1104 1295,1122 1317,1140" fill="#0d0d0d"/>
<rect x="1343" y="1098" width="56" height="48" fill="#fff" stroke="#0d0d0d" stroke-width="5"/>
<polygon points="1343,1104 1365,1122 1343,1140" fill="#0d0d0d"/>
<rect x="1320" y="1082" width="7" height="80" fill="#0d0d0d"/>
<rect x="1333" y="1082" width="7" height="80" fill="#0d0d0d"/>
<rect x="1323" y="1088" width="2" height="9" fill="#fff"/>
<rect x="1335" y="1088" width="2" height="9" fill="#fff"/>
<rect x="1323" y="1110" width="2" height="9" fill="#fff"/>
<rect x="1335" y="1110" width="2" height="9" fill="#fff"/>
<rect x="1323" y="1132" width="2" height="9" fill="#fff"/>
<rect x="1335" y="1132" width="2" height="9" fill="#fff"/>
<rect x="1323" y="1154" width="2" height="9" fill="#fff"/>
<rect x="1335" y="1154" width="2" height="9" fill="#fff"/>
<rect x="1232" y="980" width="193" height="87" fill="#fff"/>
<rect x="1405.63" y="997.55" width="14.23" height="47.73" fill="#0d0d0d"/>
<rect x="1278.91" y="1021.79" width="54.24" height="7.47" fill="#0d0d0d"/>
<rect x="1247.88" y="1024.92" width="55.62" height="12.91" fill="#0d0d0d"/>
<rect x="1251.88" y="1028.92" width="47.62" height="4.91" fill="#fff"/>
<rect x="1364.73" y="1012.43" width="57.85" height="12.42" fill="#0d0d0d"/>
<rect x="1319.57" y="1057.63" width="39.21" height="9.32" fill="#0d0d0d"/>
<rect x="1339.95" y="1010.95" width="7.4" height="37.42" fill="#0d0d0d"/>
<rect x="1232.84" y="995.47" width="10.65" height="48.87" fill="#0d0d0d"/>
<rect x="1394.04" y="1001.42" width="14.05" height="40.05" fill="#0d0d0d"/>
<rect x="1245.55" y="985.44" width="8.83" height="25.52" fill="#0d0d0d"/>
<rect x="1311.92" y="992.02" width="21.77" height="10.19" fill="#0d0d0d"/>
<rect x="1315.92" y="996.02" width="13.77" height="2.19" fill="#fff"/>
<rect x="1279.26" y="1034.34" width="44.98" height="9.95" fill="#0d0d0d"/>
<rect x="1397.66" y="981.87" width="8.73" height="28.74" fill="#0d0d0d"/>
<rect x="1263.97" y="996.35" width="8.58" height="19.52" fill="#0d0d0d"/>
<rect x="1289.73" y="1015.49" width="55.22" height="6.84" fill="#0d0d0d"/>
<rect x="1346.39" y="990.85" width="14.56" height="29.58" fill="#0d0d0d"/>
<rect x="1350.39" y="994.85" width="6.56" height="21.58" fill="#fff"/>
<rect x="1313.51" y="987.81" width="6.6" height="48.94" fill="#0d0d0d"/>
<rect x="1306.53" y="1002.1" width="9.15" height="20.47" fill="#0d0d0d"/>
<rect x="1413.71" y="992.09" width="10.01" height="21.13" fill="#0d0d0d"/>
<rect x="1309.9" y="1004.04" width="41.74" height="14.55" fill="#0d0d0d"/>
<rect x="1251.62" y="1053.41" width="37.01" height="9.68" fill="#0d0d0d"/>
<rect x="1348.23" y="983.14" width="10.1" height="19.74" fill="#0d0d0d"/>
<rect x="1288.79" y="998.53" width="52.21" height="7.95" fill="#0d0d0d"/>
<rect x="1235.83" y="1003.57" width="14.33" height="38.01" fill="#0d0d0d"/>
<rect x="1239.83" y="1007.57" width="6.33" height="30.01" fill="#fff"/>
<rect x="1382.72" y="985.01" width="38.77" height="15.03" fill="#0d0d0d"/>
<rect x="1386.72" y="989.01" width="30.77" height="7.03" fill="#fff"/>
<rect x="1281.45" y="985.79" width="15.77" height="31.16" fill="#0d0d0d"/>
<rect x="1215" y="880" width="65" height="94" fill="#fff"/>
<rect x="1216.02" y="943" width="56.8" height="12.17" fill="#0d0d0d"/>
<rect x="1229.62" y="896.69" width="7.26" height="37.98" fill="#0d0d0d"/>
<rect x="1235.54" y="916.65" width="38.49" height="11.73" fill="#0d0d0d"/>
<rect x="1220.75" y="944.26" width="40.39" height="15.4" fill="#0d0d0d"/>
<rect x="1215.81" y="892.99" width="44.49" height="6.16" fill="#0d0d0d"/>
<rect x="1259.24" y="898.86" width="14.25" height="45.59" fill="#0d0d0d"/>
<rect x="1218.7" y="895.17" width="57.01" height="13.8" fill="#0d0d0d"/>
<rect x="1222.7" y="899.17" width="49.01" height="5.8" fill="#fff"/>
<rect x="1285" y="890" width="80" height="82" fill="#fff" stroke="#0d0d0d" stroke-width="7"/>
<line x1="1285" y1="890" x2="1365" y2="972" stroke="#0d0d0d" stroke-width="3.2"/>
<line x1="1365" y1="890" x2="1285" y2="972" stroke="#0d0d0d" stroke-width="3.2"/>
<rect x="1372" y="880" width="68" height="94" fill="#fff"/>
<rect x="1390.48" y="922.88" width="12.24" height="18.93" fill="#0d0d0d"/>
<rect x="1411.35" y="939.67" width="8.45" height="18.88" fill="#0d0d0d"/>
<rect x="1378" y="951.51" width="58.19" height="7.77" fill="#0d0d0d"/>
<rect x="1406.58" y="897.56" width="26.35" height="13.21" fill="#0d0d0d"/>
<rect x="1385.03" y="892.15" width="8.79" height="19.67" fill="#0d0d0d"/>
<rect x="1389.33" y="935.52" width="46.61" height="13.6" fill="#0d0d0d"/>
<rect x="1393.33" y="939.52" width="38.61" height="5.6" fill="#fff"/>
<rect x="1383.88" y="948.71" width="14.94" height="21.31" fill="#0d0d0d"/>
<rect x="1387.88" y="952.71" width="6.94" height="13.31" fill="#fff"/>
<rect x="1413.73" y="933.43" width="11.15" height="36.9" fill="#0d0d0d"/>
<rect x="1432.02" y="903.48" width="6.83" height="43.02" fill="#0d0d0d"/>
<rect x="1425.92" y="925.87" width="7.59" height="31.07" fill="#0d0d0d"/>
<rect x="1383.67" y="912.92" width="33.94" height="8.76" fill="#0d0d0d"/>
<rect x="700" y="618" width="92" height="234" fill="#efe9a4"/>
<circle cx="755" cy="770" r="33" fill="#efe9a4" stroke="#0d0d0d" stroke-width="7.5"/>
<circle cx="755" cy="770" r="25" fill="none" stroke="#0d0d0d" stroke-width="3"/>
<rect x="744" y="751" width="22" height="38" rx="5" fill="#efe9a4" stroke="#0d0d0d" stroke-width="9"/>
<circle cx="735" cy="655" r="10" fill="#efe9a4" stroke="#0d0d0d" stroke-width="5"/>
<line x1="725" y1="655" x2="745" y2="655" stroke="#0d0d0d" stroke-width="2.5"/>
<line x1="735" y1="645" x2="735" y2="665" stroke="#0d0d0d" stroke-width="2.5"/>
<rect x="716" y="712" width="64" height="8" fill="#0d0d0d"/>
<rect x="812" y="560" width="78" height="90" fill="#f3eec0"/>
<rect x="892" y="560" width="96" height="90" fill="#fff"/>
<rect x="821" y="576" width="56" height="48" fill="#fff" stroke="#0d0d0d" stroke-width="5"/>
<polygon points="877,582 855,600 877,618" fill="#0d0d0d"/>
<rect x="903" y="576" width="56" height="48" fill="#fff" stroke="#0d0d0d" stroke-width="5"/>
<polygon points="903,582 925,600 903,618" fill="#0d0d0d"/>
<rect x="880" y="560" width="7" height="80" fill="#0d0d0d"/>
<rect x="893" y="560" width="7" height="80" fill="#0d0d0d"/>
<rect x="883" y="566" width="2" height="9" fill="#fff"/>
<rect x="895" y="566" width="2" height="9" fill="#fff"/>
<rect x="883" y="588" width="2" height="9" fill="#fff"/>
<rect x="895" y="588" width="2" height="9" fill="#fff"/>
<rect x="883" y="610" width="2" height="9" fill="#fff"/>
<rect x="895" y="610" width="2" height="9" fill="#fff"/>
<rect x="883" y="632" width="2" height="9" fill="#fff"/>
<rect x="895" y="632" width="2" height="9" fill="#fff"/>
<rect x="802" y="655" width="188" height="67" fill="#fff"/>
<rect x="864.62" y="668.23" width="51.58" height="10.93" fill="#0d0d0d"/>
<rect x="926.28" y="660.59" width="58.79" height="8.43" fill="#0d0d0d"/>
<rect x="855.48" y="668.92" width="15.51" height="45.02" fill="#0d0d0d"/>
<rect x="932.81" y="666.61" width="52.34" height="14.12" fill="#0d0d0d"/>
<rect x="804.27" y="705.23" width="58.13" height="13.7" fill="#0d0d0d"/>
<rect x="923.78" y="690.39" width="58.51" height="7.63" fill="#0d0d0d"/>
<rect x="831.5" y="659.06" width="9.16" height="20.31" fill="#0d0d0d"/>
<rect x="816.02" y="655.22" width="56.6" height="9.84" fill="#0d0d0d"/>
<rect x="875.76" y="685.62" width="58.23" height="13.51" fill="#0d0d0d"/>
<rect x="879.76" y="689.62" width="50.23" height="5.51" fill="#fff"/>
<rect x="905.46" y="693.39" width="9.1" height="22.63" fill="#0d0d0d"/>
<rect x="819.18" y="688.77" width="28.05" height="10.63" fill="#0d0d0d"/>
<rect x="823.18" y="692.77" width="20.05" height="2.63" fill="#fff"/>
<rect x="886.93" y="669.54" width="51.1" height="15.44" fill="#0d0d0d"/>
<rect x="947.79" y="666.64" width="11.53" height="30.93" fill="#0d0d0d"/>
<rect x="821.98" y="696.35" width="31.32" height="7.64" fill="#0d0d0d"/>
<rect x="919.46" y="656.3" width="12.5" height="44.89" fill="#0d0d0d"/>
<rect x="804" y="730" width="182" height="83" fill="#fff"/>
<rect x="825" y="735" width="60" height="34" fill="#fff" stroke="#0d0d0d" stroke-width="5"/>
<polygon points="885,741 863,752 885,763" fill="#0d0d0d"/>
<rect x="905" y="735" width="60" height="34" fill="#fff" stroke="#0d0d0d" stroke-width="5"/>
<polygon points="905,741 927,752 905,763" fill="#0d0d0d"/>
<rect x="888" y="719" width="4" height="66" fill="#0d0d0d"/>
<rect x="898" y="719" width="4" height="66" fill="#0d0d0d"/>
<rect x="890" y="725" width="1" height="9" fill="#fff"/>
<rect x="899" y="725" width="1" height="9" fill="#fff"/>
<rect x="890" y="747" width="1" height="9" fill="#fff"/>
<rect x="899" y="747" width="1" height="9" fill="#fff"/>
<rect x="890" y="769" width="1" height="9" fill="#fff"/>
<rect x="899" y="769" width="1" height="9" fill="#fff"/>
<rect x="890" y="791" width="1" height="9" fill="#fff"/>
<rect x="899" y="791" width="1" height="9" fill="#fff"/>
<rect x="825" y="778" width="60" height="34" fill="#fff" stroke="#0d0d0d" stroke-width="5"/>
<polygon points="885,784 863,795 885,806" fill="#0d0d0d"/>
<rect x="905" y="778" width="60" height="34" fill="#fff" stroke="#0d0d0d" stroke-width="5"/>
<polygon points="905,784 927,795 905,806" fill="#0d0d0d"/>
<rect x="888" y="762" width="4" height="66" fill="#0d0d0d"/>
<rect x="898" y="762" width="4" height="66" fill="#0d0d0d"/>
<rect x="890" y="768" width="1" height="9" fill="#fff"/>
<rect x="899" y="768" width="1" height="9" fill="#fff"/>
<rect x="890" y="790" width="1" height="9" fill="#fff"/>
<rect x="899" y="790" width="1" height="9" fill="#fff"/>
<rect x="890" y="812" width="1" height="9" fill="#fff"/>
<rect x="899" y="812" width="1" height="9" fill="#fff"/>
<rect x="890" y="834" width="1" height="9" fill="#fff"/>
<rect x="899" y="834" width="1" height="9" fill="#fff"/>
<rect x="855" y="820" width="85" height="85" fill="#fff" stroke="#0d0d0d" stroke-width="7"/>
<line x1="855" y1="820" x2="940" y2="905" stroke="#0d0d0d" stroke-width="3.2"/>
<line x1="940" y1="820" x2="855" y2="905" stroke="#0d0d0d" stroke-width="3.2"/>
<rect x="804" y="917" width="182" height="81" fill="#fff"/>
<rect x="825" y="918" width="60" height="34" fill="#fff" stroke="#0d0d0d" stroke-width="5"/>
<polygon points="885,924 863,935 885,946" fill="#0d0d0d"/>
<rect x="905" y="918" width="60" height="34" fill="#fff" stroke="#0d0d0d" stroke-width="5"/>
<polygon points="905,924 927,935 905,946" fill="#0d0d0d"/>
<rect x="888" y="902" width="4" height="66" fill="#0d0d0d"/>
<rect x="898" y="902" width="4" height="66" fill="#0d0d0d"/>
<rect x="890" y="908" width="1" height="9" fill="#fff"/>
<rect x="899" y="908" width="1" height="9" fill="#fff"/>
<rect x="890" y="930" width="1" height="9" fill="#fff"/>
<rect x="899" y="930" width="1" height="9" fill="#fff"/>
<rect x="890" y="952" width="1" height="9" fill="#fff"/>
<rect x="899" y="952" width="1" height="9" fill="#fff"/>
<rect x="890" y="974" width="1" height="9" fill="#fff"/>
<rect x="899" y="974" width="1" height="9" fill="#fff"/>
<rect x="825" y="961" width="60" height="34" fill="#fff" stroke="#0d0d0d" stroke-width="5"/>
<polygon points="885,967 863,978 885,989" fill="#0d0d0d"/>
<rect x="905" y="961" width="60" height="34" fill="#fff" stroke="#0d0d0d" stroke-width="5"/>
<polygon points="905,967 927,978 905,989" fill="#0d0d0d"/>
<rect x="888" y="945" width="4" height="66" fill="#0d0d0d"/>
<rect x="898" y="945" width="4" height="66" fill="#0d0d0d"/>
<rect x="890" y="951" width="1" height="9" fill="#fff"/>
<rect x="899" y="951" width="1" height="9" fill="#fff"/>
<rect x="890" y="973" width="1" height="9" fill="#fff"/>
<rect x="899" y="973" width="1" height="9" fill="#fff"/>
<rect x="890" y="995" width="1" height="9" fill="#fff"/>
<rect x="899" y="995" width="1" height="9" fill="#fff"/>
<rect x="890" y="1017" width="1" height="9" fill="#fff"/>
<rect x="899" y="1017" width="1" height="9" fill="#fff"/>
<rect x="802" y="1005" width="188" height="65" fill="#fff"/>
<rect x="885.86" y="1010.54" width="11.39" height="35.71" fill="#0d0d0d"/>
<rect x="852.54" y="1054.71" width="39.16" height="13.75" fill="#0d0d0d"/>
<rect x="856.54" y="1058.71" width="31.16" height="5.75" fill="#fff"/>
<rect x="825.19" y="1044.09" width="6.29" height="25.03" fill="#0d0d0d"/>
<rect x="867.4" y="1019.24" width="14.62" height="48.48" fill="#0d0d0d"/>
<rect x="871.4" y="1023.24" width="6.62" height="40.48" fill="#fff"/>
<rect x="915.97" y="1030.48" width="14.28" height="30.09" fill="#0d0d0d"/>
<rect x="919.97" y="1034.48" width="6.28" height="22.09" fill="#fff"/>
<rect x="845.43" y="1015.73" width="7.96" height="27.27" fill="#0d0d0d"/>
<rect x="835.24" y="1005.67" width="53.98" height="7.37" fill="#0d0d0d"/>
<rect x="830.91" y="1006.43" width="11.2" height="41.02" fill="#0d0d0d"/>
<rect x="937.63" y="1009.5" width="12.97" height="47.75" fill="#0d0d0d"/>
<rect x="899.17" y="1012.96" width="7.42" height="33.49" fill="#0d0d0d"/>
<rect x="928.97" y="1029.05" width="56.82" height="6.4" fill="#0d0d0d"/>
<rect x="885.28" y="1027.91" width="13.08" height="30.69" fill="#0d0d0d"/>
<rect x="919.37" y="1029.27" width="47.35" height="10.56" fill="#0d0d0d"/>
<rect x="902.27" y="1021.7" width="8.39" height="29.66" fill="#0d0d0d"/>
<rect x="953.77" y="1040.84" width="12.95" height="25.8" fill="#0d0d0d"/>
<rect x="813.06" y="1031.3" width="10.76" height="26.69" fill="#0d0d0d"/>
<rect x="802.59" y="1032.17" width="10.23" height="21.08" fill="#0d0d0d"/>
<rect x="972.12" y="1005.4" width="14.06" height="35.52" fill="#0d0d0d"/>
<rect x="864.52" y="1018.72" width="10.67" height="37.71" fill="#0d0d0d"/>
<rect x="812" y="1078" width="176" height="82" fill="#fff"/>
<rect x="821" y="1096" width="56" height="48" fill="#fff" stroke="#0d0d0d" stroke-width="5"/>
<polygon points="877,1102 855,1120 877,1138" fill="#0d0d0d"/>
<rect x="903" y="1096" width="56" height="48" fill="#fff" stroke="#0d0d0d" stroke-width="5"/>
<polygon points="903,1102 925,1120 903,1138" fill="#0d0d0d"/>
<rect x="880" y="1080" width="7" height="80" fill="#0d0d0d"/>
<rect x="893" y="1080" width="7" height="80" fill="#0d0d0d"/>
<rect x="883" y="1086" width="2" height="9" fill="#fff"/>
<rect x="895" y="1086" width="2" height="9" fill="#fff"/>
<rect x="883" y="1108" width="2" height="9" fill="#fff"/>
<rect x="895" y="1108" width="2" height="9" fill="#fff"/>
<rect x="883" y="1130" width="2" height="9" fill="#fff"/>
<rect x="895" y="1130" width="2" height="9" fill="#fff"/>
<rect x="883" y="1152" width="2" height="9" fill="#fff"/>
<rect x="895" y="1152" width="2" height="9" fill="#fff"/>
<rect x="700" y="880" width="92" height="220" fill="#fff"/>
<circle cx="752" cy="948" r="33" fill="#fff" stroke="#0d0d0d" stroke-width="7.5"/>
<circle cx="752" cy="948" r="25" fill="none" stroke="#0d0d0d" stroke-width="3"/>
<rect x="741" y="929" width="22" height="38" rx="5" fill="#fff" stroke="#0d0d0d" stroke-width="9"/>
<circle cx="735" cy="1062" r="10" fill="#fff" stroke="#0d0d0d" stroke-width="5"/>
<line x1="725" y1="1062" x2="745" y2="1062" stroke="#0d0d0d" stroke-width="2.5"/>
<line x1="735" y1="1052" x2="735" y2="1072" stroke="#0d0d0d" stroke-width="2.5"/>
<rect x="265" y="846" width="580" height="28" fill="#fff"/>
<rect x="950" y="846" width="550" height="28" fill="#fff"/>
<rect x="480" y="840" width="160" height="6" fill="#0d0d0d"/>
<rect x="500" y="855" width="120" height="19" fill="#fff"/>
<rect x="1432" y="618" width="80" height="84" fill="#fff"/>
<circle cx="1470" cy="660" r="11" fill="#fff" stroke="#0d0d0d" stroke-width="5"/>
<line x1="1459" y1="660" x2="1481" y2="660" stroke="#0d0d0d" stroke-width="2.5"/>
<line x1="1470" y1="649" x2="1470" y2="671" stroke="#0d0d0d" stroke-width="2.5"/>
<rect x="1520" y="562" width="170" height="138" fill="#fff"/>
<rect x="1626.52" y="660.25" width="35.96" height="14.24" fill="#0d0d0d"/>
<rect x="1628.5" y="579.75" width="7.87" height="43.32" fill="#0d0d0d"/>
<rect x="1630.54" y="612.5" width="6.74" height="42.14" fill="#0d0d0d"/>
<rect x="1565.86" y="622.47" width="15.7" height="47.3" fill="#0d0d0d"/>
<rect x="1569.86" y="626.47" width="7.7" height="39.3" fill="#fff"/>
<rect x="1546.74" y="610.22" width="8.31" height="34.79" fill="#0d0d0d"/>
<rect x="1588.56" y="658.92" width="54.79" height="15.3" fill="#0d0d0d"/>
<rect x="1569.94" y="618.46" width="8.48" height="26.71" fill="#0d0d0d"/>
<rect x="1578.36" y="638.7" width="14.07" height="28.75" fill="#0d0d0d"/>
<rect x="1612.97" y="691.09" width="35.79" height="6.08" fill="#0d0d0d"/>
<rect x="1527.7" y="626.16" width="15.4" height="27.88" fill="#0d0d0d"/>
<rect x="1615.53" y="662.32" width="14.73" height="30.19" fill="#0d0d0d"/>
<rect x="1619.53" y="666.32" width="6.73" height="22.19" fill="#fff"/>
<rect x="1624.36" y="677.65" width="42.44" height="7.63" fill="#0d0d0d"/>
<rect x="1523.89" y="569.81" width="12.78" height="18.21" fill="#0d0d0d"/>
<rect x="1598.81" y="650.38" width="8.86" height="24.48" fill="#0d0d0d"/>
<rect x="1662.52" y="691.87" width="23.56" height="7.07" fill="#0d0d0d"/>
<rect x="1558.28" y="643.7" width="15.87" height="48.75" fill="#0d0d0d"/>
<rect x="1562.28" y="647.7" width="7.87" height="40.75" fill="#fff"/>
<rect x="1662.72" y="624.65" width="21.08" height="6.44" fill="#0d0d0d"/>
<rect x="1553.52" y="681.56" width="41.68" height="14.14" fill="#0d0d0d"/>
<rect x="1557.52" y="685.56" width="33.68" height="6.14" fill="#fff"/>
<rect x="1565.74" y="644.2" width="7.22" height="36.59" fill="#0d0d0d"/>
<rect x="1560.24" y="585.94" width="48.17" height="12.31" fill="#0d0d0d"/>
<rect x="1575.18" y="667.04" width="6.15" height="28.87" fill="#0d0d0d"/>
<rect x="1551.39" y="659.75" width="8.41" height="29.79" fill="#0d0d0d"/>
<rect x="1651.51" y="575.56" width="29.14" height="10.35" fill="#0d0d0d"/>
<rect x="1655.51" y="579.56" width="21.14" height="2.35" fill="#fff"/>
<rect x="1578.37" y="670.34" width="54.3" height="7.58" fill="#0d0d0d"/>
<rect x="1625.51" y="597.47" width="59.78" height="15.72" fill="#0d0d0d"/>
<rect x="1629.51" y="601.47" width="51.78" height="7.72" fill="#fff"/>
<rect x="1573.37" y="631.5" width="9.65" height="48.88" fill="#0d0d0d"/>
<rect x="1603.87" y="634.28" width="14.81" height="39.68" fill="#0d0d0d"/>
<rect x="1635.56" y="603.3" width="15.24" height="33.24" fill="#0d0d0d"/>
<rect x="1610.32" y="600.23" width="7.45" height="31.37" fill="#0d0d0d"/>
<rect x="1537.45" y="680.78" width="58.84" height="12.76" fill="#0d0d0d"/>
<rect x="1580.54" y="665.85" width="14.19" height="29.96" fill="#0d0d0d"/>
<rect x="1584.54" y="669.85" width="6.19" height="21.96" fill="#fff"/>
<rect x="1535.45" y="562.6" width="11.19" height="32.43" fill="#0d0d0d"/>
<rect x="1440" y="712" width="80" height="130" fill="#fff"/>
<circle cx="1482" cy="756" r="30" fill="#fff" stroke="#0d0d0d" stroke-width="7.5"/>
<circle cx="1482" cy="756" r="22" fill="none" stroke="#0d0d0d" stroke-width="3"/>
<rect x="1471" y="737" width="22" height="38" rx="5" fill="#fff" stroke="#0d0d0d" stroke-width="9"/>
<rect x="1525" y="712" width="125" height="130" fill="#fff"/>
<rect x="1572.88" y="762.25" width="6.97" height="38.55" fill="#0d0d0d"/>
<rect x="1538.42" y="800.79" width="46.65" height="14.4" fill="#0d0d0d"/>
<rect x="1578.81" y="768.55" width="47.11" height="13.59" fill="#0d0d0d"/>
<rect x="1558.45" y="740.36" width="10.77" height="22.84" fill="#0d0d0d"/>
<rect x="1591.57" y="736.84" width="7.17" height="41.97" fill="#0d0d0d"/>
<rect x="1589.81" y="803.43" width="27.51" height="12.52" fill="#0d0d0d"/>
<rect x="1550.73" y="751.09" width="14.16" height="44.25" fill="#0d0d0d"/>
<rect x="1554.73" y="755.09" width="6.16" height="36.25" fill="#fff"/>
<rect x="1564.07" y="750.13" width="23.6" height="13.35" fill="#0d0d0d"/>
<rect x="1535.74" y="720.43" width="15.43" height="23.97" fill="#0d0d0d"/>
<rect x="1617.1" y="767.14" width="14.52" height="38.42" fill="#0d0d0d"/>
<rect x="1621.1" y="771.14" width="6.52" height="30.42" fill="#fff"/>
<rect x="1591.09" y="779.49" width="23.27" height="7.43" fill="#0d0d0d"/>
<rect x="1579.37" y="757.08" width="47.8" height="11.94" fill="#0d0d0d"/>
<rect x="1537.16" y="800.67" width="57.24" height="10.13" fill="#0d0d0d"/>
<rect x="1541.16" y="804.67" width="49.24" height="2.13" fill="#fff"/>
<rect x="1564.19" y="760.18" width="26.1" height="6.3" fill="#0d0d0d"/>
<rect x="1541.2" y="804.1" width="14.44" height="27.85" fill="#0d0d0d"/>
<rect x="1531.37" y="726.59" width="11.42" height="45.75" fill="#0d0d0d"/>
<rect x="1590.1" y="787.21" width="41.27" height="10.54" fill="#0d0d0d"/>
<rect x="1566.87" y="768.16" width="6.03" height="34.25" fill="#0d0d0d"/>
<rect x="1576.65" y="733.16" width="30.22" height="15.77" fill="#0d0d0d"/>
<rect x="1544.41" y="737.21" width="10.09" height="25.95" fill="#0d0d0d"/>
<rect x="1539.86" y="783.68" width="59.63" height="12.6" fill="#0d0d0d"/>
<circle cx="1632" cy="776" r="32" fill="#fff" stroke="#0d0d0d" stroke-width="7.5"/>
<circle cx="1632" cy="776" r="24" fill="none" stroke="#0d0d0d" stroke-width="3"/>
<rect x="1621" y="757" width="22" height="38" rx="5" fill="#fff" stroke="#0d0d0d" stroke-width="9"/>
<rect x="1655" y="720" width="63" height="102" fill="#0d0d0d"/>
<rect x="1432" y="1020" width="80" height="84" fill="#fff"/>
<circle cx="1470" cy="1062" r="11" fill="#fff" stroke="#0d0d0d" stroke-width="5"/>
<line x1="1459" y1="1062" x2="1481" y2="1062" stroke="#0d0d0d" stroke-width="2.5"/>
<line x1="1470" y1="1051" x2="1470" y2="1073" stroke="#0d0d0d" stroke-width="2.5"/>
<rect x="1440" y="880" width="290" height="130" fill="#fff"/>
<rect x="1671.36" y="995.07" width="32.36" height="13.84" fill="#0d0d0d"/>
<rect x="1634.33" y="965.77" width="59.51" height="14.79" fill="#0d0d0d"/>
<rect x="1598.63" y="980.63" width="47.16" height="15.64" fill="#0d0d0d"/>
<rect x="1697.21" y="948" width="24.67" height="13.56" fill="#0d0d0d"/>
<rect x="1652.01" y="963.31" width="10.64" height="44.01" fill="#0d0d0d"/>
<rect x="1617.36" y="913.77" width="46.44" height="13.94" fill="#0d0d0d"/>
<rect x="1668.7" y="893.92" width="54.72" height="12.61" fill="#0d0d0d"/>
<rect x="1596.21" y="924.35" width="10.14" height="48.24" fill="#0d0d0d"/>
<rect x="1619.18" y="892.45" width="50.05" height="11.64" fill="#0d0d0d"/>
<rect x="1623.18" y="896.45" width="42.05" height="3.64" fill="#fff"/>
<rect x="1618.68" y="962.82" width="47.19" height="15.18" fill="#0d0d0d"/>
<rect x="1703.13" y="942.88" width="9.87" height="32.65" fill="#0d0d0d"/>
<rect x="1475.33" y="940.24" width="31.63" height="10.8" fill="#0d0d0d"/>
<rect x="1479.33" y="944.24" width="23.63" height="2.8" fill="#fff"/>
<rect x="1535.94" y="949.76" width="32.97" height="13.34" fill="#0d0d0d"/>
<rect x="1674.7" y="911.2" width="22.21" height="9.53" fill="#0d0d0d"/>
<rect x="1586.1" y="901.81" width="48.14" height="8.44" fill="#0d0d0d"/>
<rect x="1500.03" y="970.41" width="15.25" height="32.25" fill="#0d0d0d"/>
<rect x="1504.03" y="974.41" width="7.25" height="24.25" fill="#fff"/>
<rect x="1647.15" y="979.24" width="54.38" height="12.61" fill="#0d0d0d"/>
<rect x="1645.71" y="971.17" width="9.53" height="28.51" fill="#0d0d0d"/>
<rect x="1559.67" y="973.5" width="41.37" height="9.72" fill="#0d0d0d"/>
<rect x="1626.62" y="912.28" width="10.71" height="48.97" fill="#0d0d0d"/>
<rect x="1573.68" y="939.47" width="20.94" height="11.66" fill="#0d0d0d"/>
<rect x="1668.16" y="895.92" width="12.76" height="37.46" fill="#0d0d0d"/>
<rect x="1677.64" y="969.72" width="10.68" height="21.64" fill="#0d0d0d"/>
<rect x="1484.79" y="930.85" width="53.11" height="12.39" fill="#0d0d0d"/>
<rect x="1501.27" y="937.39" width="12.85" height="25.5" fill="#0d0d0d"/>
<rect x="1663.59" y="945.82" width="15.8" height="21.59" fill="#0d0d0d"/>
<rect x="1477.4" y="956.29" width="13.27" height="35.66" fill="#0d0d0d"/>
<rect x="1487.29" y="880.23" width="10.5" height="32.96" fill="#0d0d0d"/>
<rect x="1648.05" y="932.4" width="42.62" height="11.28" fill="#0d0d0d"/>
<rect x="1653.08" y="987.84" width="41.23" height="15.62" fill="#0d0d0d"/>
<rect x="1498.95" y="931.87" width="11.65" height="25.46" fill="#0d0d0d"/>
<rect x="1589.37" y="962.1" width="7.76" height="38.16" fill="#0d0d0d"/>
<rect x="1441.23" y="999.16" width="18.24" height="10.79" fill="#0d0d0d"/>
<rect x="1484.76" y="951.44" width="45.31" height="9.88" fill="#0d0d0d"/>
<rect x="1666.24" y="922.31" width="13.03" height="34.98" fill="#0d0d0d"/>
<rect x="1563.11" y="923.63" width="15.86" height="38.75" fill="#0d0d0d"/>
<rect x="1560.19" y="994.61" width="54.07" height="13.32" fill="#0d0d0d"/>
<rect x="1442.89" y="914.17" width="45.62" height="9.16" fill="#0d0d0d"/>
<rect x="1665.64" y="909.87" width="45.93" height="13.42" fill="#0d0d0d"/>
<rect x="1636.93" y="881.19" width="8.75" height="48.06" fill="#0d0d0d"/>
<rect x="1669.26" y="930.72" width="12.32" height="20.24" fill="#0d0d0d"/>
<rect x="1440.64" y="923.66" width="13.94" height="40.93" fill="#0d0d0d"/>
<circle cx="1555" cy="966" r="33" fill="#fff" stroke="#0d0d0d" stroke-width="7.5"/>
<circle cx="1555" cy="966" r="25" fill="none" stroke="#0d0d0d" stroke-width="3"/>
<rect x="1544" y="947" width="22" height="38" rx="5" fill="#fff" stroke="#0d0d0d" stroke-width="9"/>
<rect x="1520" y="1020" width="215" height="130" fill="#fff"/>
<rect x="1536.82" y="1093.98" width="35.05" height="6.03" fill="#0d0d0d"/>
<rect x="1648.74" y="1075.28" width="22.2" height="14.82" fill="#0d0d0d"/>
<rect x="1551.67" y="1036.46" width="42.6" height="13.5" fill="#0d0d0d"/>
<rect x="1528.25" y="1061.21" width="35.15" height="8.67" fill="#0d0d0d"/>
<rect x="1539.48" y="1129.24" width="8.08" height="19.68" fill="#0d0d0d"/>
<rect x="1542.46" y="1086.06" width="11.47" height="45.24" fill="#0d0d0d"/>
<rect x="1630.27" y="1050.41" width="48.68" height="9.2" fill="#0d0d0d"/>
<rect x="1573.44" y="1072.82" width="8.12" height="25.67" fill="#0d0d0d"/>
<rect x="1522.04" y="1137.74" width="32.88" height="10.57" fill="#0d0d0d"/>
<rect x="1526.04" y="1141.74" width="24.88" height="2.57" fill="#fff"/>
<rect x="1697.13" y="1102" width="15.66" height="43.36" fill="#0d0d0d"/>
<rect x="1710.88" y="1068.2" width="11.69" height="27.04" fill="#0d0d0d"/>
<rect x="1709.71" y="1070.83" width="21.6" height="11.52" fill="#0d0d0d"/>
<rect x="1713.71" y="1074.83" width="13.6" height="3.52" fill="#fff"/>
<rect x="1583.92" y="1104.48" width="59.19" height="8.27" fill="#0d0d0d"/>
<rect x="1538.04" y="1035.7" width="26.79" height="14.16" fill="#0d0d0d"/>
<rect x="1606.62" y="1029.01" width="13.93" height="47.75" fill="#0d0d0d"/>
<rect x="1616.02" y="1067.38" width="10.66" height="39.73" fill="#0d0d0d"/>
<rect x="1690.62" y="1128.96" width="40.06" height="10.83" fill="#0d0d0d"/>
<rect x="1596.72" y="1092.82" width="33.45" height="7.09" fill="#0d0d0d"/>
<rect x="1665.15" y="1021.21" width="7.5" height="46.93" fill="#0d0d0d"/>
<rect x="1535.49" y="1069.19" width="14.86" height="36.74" fill="#0d0d0d"/>
<rect x="1539.49" y="1073.19" width="6.86" height="28.74" fill="#fff"/>
<rect x="1582.47" y="1034.5" width="28.49" height="12.29" fill="#0d0d0d"/>
<rect x="1520.94" y="1063.14" width="8.46" height="43.33" fill="#0d0d0d"/>
<rect x="1687.79" y="1052.73" width="8.26" height="47.02" fill="#0d0d0d"/>
<rect x="1653.6" y="1128.32" width="58.25" height="10.84" fill="#0d0d0d"/>
<rect x="1657.6" y="1132.32" width="50.25" height="2.84" fill="#fff"/>
<rect x="1591.5" y="1059.77" width="11.35" height="36.41" fill="#0d0d0d"/>
<rect x="1603.55" y="1064.13" width="11.08" height="31.03" fill="#0d0d0d"/>
<rect x="1552.14" y="1084.63" width="13.55" height="43.79" fill="#0d0d0d"/>
<rect x="1616.64" y="1051.57" width="50.8" height="15.84" fill="#0d0d0d"/>
<rect x="1620.64" y="1055.57" width="42.8" height="7.84" fill="#fff"/>
<rect x="1722.55" y="1102.1" width="8.2" height="35.69" fill="#0d0d0d"/>
<rect x="1546.62" y="1049.49" width="43.58" height="7.54" fill="#0d0d0d"/>
<rect x="1635.03" y="1038.71" width="8.45" height="21.31" fill="#0d0d0d"/>
<rect x="1687.05" y="1095.6" width="15.99" height="18.44" fill="#0d0d0d"/>
<rect x="1630.68" y="1087.73" width="9.12" height="35.1" fill="#0d0d0d"/>
<rect x="1635.48" y="1099.3" width="14.25" height="38.79" fill="#0d0d0d"/>
<rect x="1579.14" y="1114.28" width="23.95" height="11.52" fill="#0d0d0d"/>
<rect x="1668.66" y="1100.65" width="34.27" height="12.47" fill="#0d0d0d"/>
<rect x="1672.66" y="1104.65" width="26.27" height="4.47" fill="#fff"/>
<rect x="1623.35" y="1103.85" width="12.21" height="42.43" fill="#0d0d0d"/>
<rect x="1655" y="1000" width="80" height="60" fill="#0d0d0d"/>
<circle cx="215" cy="1027" r="30" fill="#fff" stroke="#0d0d0d" stroke-width="7.5"/>
<circle cx="215" cy="1027" r="22" fill="none" stroke="#0d0d0d" stroke-width="3"/>
<rect x="204" y="1008" width="22" height="38" rx="5" fill="#fff" stroke="#0d0d0d" stroke-width="9"/>
</g>
</g>
<line x1="1422.5" y1="916" x2="1506" y2="916" stroke="#0c0c0c" stroke-width="1.2"/>
<line x1="1422.5" y1="922.3" x2="1506" y2="922.3" stroke="#0c0c0c" stroke-width="1.2"/>
<line x1="1422.5" y1="929.4" x2="1506" y2="929.4" stroke="#0c0c0c" stroke-width="1.2"/>
<text x="1464" y="921" font-size="5.2" font-weight="bold" text-anchor="middle" textLength="64" lengthAdjust="spacingAndGlyphs" fill="#111">PLANTA SEGUNDA</text>
<text x="1464" y="928" font-size="4.6" font-weight="bold" text-anchor="middle" textLength="64" lengthAdjust="spacingAndGlyphs" fill="#111">SUP. CONST: 1.317,17 M2</text>
<circle cx="1527.8" cy="920" r="9.5" fill="none" stroke="#0c0c0c" stroke-width="1.68"/>
<path d="M1521 923 L1534 916 L1530 922 Z" fill="#a88b5a" stroke="#6b5a3a" stroke-width="1.2"/>
<line x1="1513.75" y1="932.5" x2="1542.8" y2="932.5" stroke="#444" stroke-width="1.68"/>
<rect x="1545" y="910" width="21" height="18.4" fill="none" stroke="#c9b79c" stroke-width="1.08"/>
<line x1="1552" y1="919" x2="1559" y2="919" stroke="#333" stroke-width="1.92"/>
</svg>
</body></html>
